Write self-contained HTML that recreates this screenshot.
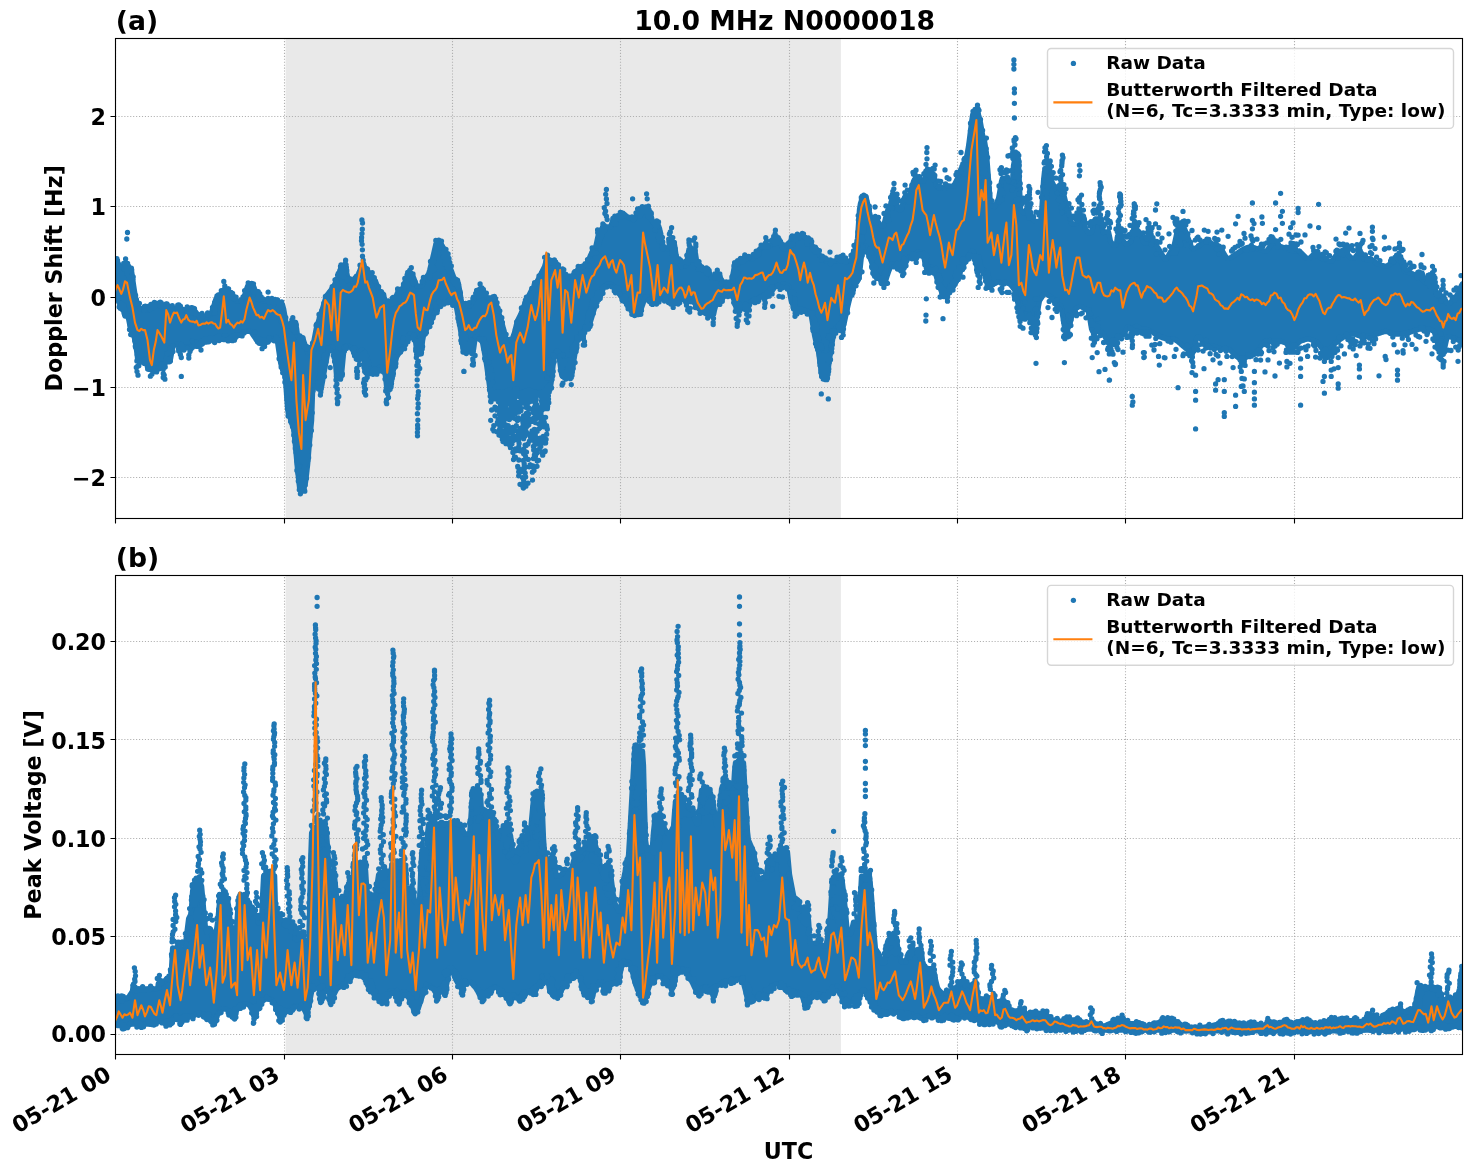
<!DOCTYPE html>
<html lang="en"><head><meta charset="utf-8"><title>10.0 MHz N0000018</title>
<style>html,body{margin:0;padding:0;background:#fff}body{width:1471px;height:1172px;overflow:hidden}</style></head>
<body>
<svg width="1471" height="1172" viewBox="0 0 1471 1172" style="display:block;font-family:'DejaVu Sans',sans-serif;font-weight:bold" fill="#000">
<rect width="1471" height="1172" fill="#fff"/>
<clipPath id="ca"><rect x="115.55" y="38.5" width="1346.75" height="480.0"/></clipPath>
<rect x="115.5" y="38.5" width="1347.0" height="480.0" fill="#fff"/>
<g clip-path="url(#ca)">
<rect x="285.6" y="38.5" width="555.3" height="480.0" fill="#e9e9e9"/>
<path d="M115.5 518.5V38.5M284.5 518.5V38.5M452.5 518.5V38.5M620.5 518.5V38.5M789.5 518.5V38.5M957.5 518.5V38.5M1125.5 518.5V38.5M1294.5 518.5V38.5M115.5 477.5H1462.5M115.5 387.5H1462.5M115.5 297.5H1462.5M115.5 206.5H1462.5M115.5 116.5H1462.5" fill="none" stroke="#b0b0b0" stroke-width="1.11" stroke-dasharray="1.11 1.83"/>
<path d="M109.5,259.9 110.5,259.9 111.5,259.9 112.5,259.9 113.5,259.9 114.5,259.9 115.5,259.9 116.5,260 117.5,262 118.5,264 119.5,266 120.5,267 121.5,267 122.5,267 123.5,265.7 124.5,265.7 125.5,265.7 126.5,265.7 127.5,265.7 128.6,269.4 129.6,271.2 130.6,271.2 131.6,271.4 132.6,278.4 133.6,285.4 134.6,291.9 135.6,297.9 136.6,303.8 137.6,305.1 138.6,306.4 139.6,307.8 140.6,308.7 141.6,308.7 142.6,308.7 143.6,308.7 144.6,309 145.6,309.5 146.6,310 147.6,310 148.6,310 149.6,309.5 150.6,309 151.6,307.2 152.6,304.4 153.6,303.7 154.6,303.7 155.6,303.5 156.6,303.5 157.6,303.5 158.6,303.5 159.6,303.5 160.6,303.9 161.6,304.8 162.6,305.6 163.6,306.2 164.6,306.2 165.6,306.4 166.6,307.1 167.6,307.7 168.6,308.4 169.6,308.7 170.6,308.7 171.6,308.7 172.6,308.7 173.6,308.7 174.6,308.7 175.6,308.1 176.6,308.1 177.6,308.1 178.6,308.1 179.6,308.1 180.6,308.8 181.6,309 182.6,309.3 183.6,309.5 184.6,309.8 185.6,310 186.6,310 187.6,310 188.6,310 189.6,310 190.6,310 191.6,310 192.6,310 193.6,310 194.6,310.6 195.6,311.8 196.6,313.1 197.6,314.3 198.6,315.6 199.6,316.3 200.6,316.6 201.6,316.8 202.6,317.1 203.6,317.3 204.6,317.3 205.6,317.3 206.6,317.1 207.6,316.4 208.6,315.6 209.6,314.9 210.6,314.1 211.6,312.3 212.6,309.3 213.6,306.3 214.6,303.3 215.6,300.3 216.6,298.5 217.6,298 218.6,297.5 219.6,297 220.6,296.5 221.6,294.5 222.6,290.8 223.6,290.8 224.6,290.8 225.6,290.8 226.6,290.8 227.6,291.7 228.6,293 229.6,293.9 230.6,294.2 231.6,294.5 232.6,294.9 233.6,296.1 234.6,297.8 235.6,299.5 236.6,301.1 237.6,301.1 238.6,301.1 239.6,300.7 240.6,300.2 241.6,299.7 242.6,299.2 243.6,298.7 244.6,295.5 245.6,292.2 246.6,288.9 247.6,286.1 248.6,285.3 249.6,285.3 250.6,285.3 251.6,285.3 252.6,285.3 253.6,286.3 254.6,289 255.6,291.5 256.6,292.8 257.6,294.1 258.6,295.5 259.6,296.8 260.6,298.1 261.6,299.5 262.6,300.8 263.6,301 264.6,301 265.6,301 266.6,300.7 267.6,300.4 268.6,300.1 269.6,300 270.6,300 271.6,300 272.6,300 273.6,300 274.6,300 275.6,300.1 276.6,301.1 277.6,302.1 278.6,303.1 279.6,303.9 280.6,304.2 281.6,304.5 282.6,304.9 283.6,308.8 284.6,314.5 285.6,320.1 286.6,325.8 287.6,325.8 288.6,325.8 289.6,325.6 290.6,325 291.6,324.3 292.6,324.3 293.6,324.3 294.6,324.3 295.6,324.3 296.6,328.7 297.6,336.2 298.6,338.1 299.6,338.1 300.6,338.1 301.6,338.1 302.6,338.1 303.6,340.5 304.6,343.5 305.6,346.5 306.6,349.6 307.6,352.7 308.6,352.7 309.6,352.7 310.6,352.4 311.6,350.4 312.6,347.9 313.6,342.6 314.6,337.2 315.6,331.9 316.6,327.4 317.6,324.1 318.6,320.7 319.6,317.5 320.6,314.4 321.6,311.3 322.6,308.2 323.6,304.9 324.6,301.6 325.6,298.2 326.6,295.7 327.6,294.4 328.6,293 329.6,291.7 330.6,290.6 331.6,289.6 332.6,288.4 333.6,286.4 334.6,284.4 335.6,282.4 336.6,280.4 337.6,278.4 338.6,276.4 339.6,272.5 340.6,268.3 341.6,267.6 342.6,267.6 343.6,267.6 344.6,267.6 345.6,267.6 346.6,272.3 347.6,277 348.6,279.1 349.6,279.8 350.6,280.5 351.6,281.1 352.6,281.1 353.6,281.1 354.6,279.9 355.6,278.4 356.6,276.9 357.6,275.4 358.6,273.9 359.6,271.3 360.6,268.5 361.6,268 362.6,268 363.6,268 364.6,268 365.6,268 366.6,269.4 367.6,270.7 368.6,272 369.6,273.4 370.6,274.7 371.6,276 372.6,277.4 373.6,278.7 374.6,280 375.6,281.5 376.6,284.2 377.6,286.8 378.6,289.5 379.6,291.4 380.6,292.1 381.6,292.8 382.6,293.4 383.6,295.6 384.6,298.7 385.6,301.7 386.6,303.7 387.6,303.7 388.6,303.7 389.6,303.7 390.6,303.7 391.6,303.2 392.6,301.9 393.6,300.6 394.6,299.2 395.6,297.3 396.6,295 397.6,292.6 398.6,290.3 399.6,289.7 400.6,289.3 401.6,289 402.6,288.5 403.6,285.8 404.6,283.1 405.6,280.5 406.6,278 407.6,276 408.6,275.4 409.6,275.4 410.6,275.4 411.6,275.4 412.6,275.4 413.6,277.8 414.6,280.4 415.6,283.1 416.6,285.8 417.6,286.2 418.6,286.2 419.6,286.2 420.6,286.2 421.6,285.5 422.6,283.5 423.6,281.5 424.6,279.5 425.6,277.9 426.6,276.6 427.6,275.3 428.6,273.9 429.6,270.4 430.6,266.4 431.6,262.4 432.6,258.4 433.6,254 434.6,249.7 435.6,245.4 436.6,243.4 437.6,243.4 438.6,243.4 439.6,243.4 440.6,243.4 441.6,245 442.6,246.7 443.6,248.4 444.6,250 445.6,251.7 446.6,253.4 447.6,256.9 448.6,260.9 449.6,264.9 450.6,268.9 451.6,271.5 452.6,274.2 453.6,276.9 454.6,278.9 455.6,279.6 456.6,280.2 457.6,280.9 458.6,284.5 459.6,290.5 460.6,296.5 461.6,302.5 462.6,303.7 463.6,303.7 464.6,303.9 465.6,304.6 466.6,305.4 467.6,306.1 468.6,306.1 469.6,306.1 470.6,304.9 471.6,303.3 472.6,301.6 473.6,299.9 474.6,298.3 475.6,296.6 476.6,294.9 477.6,293.2 478.6,291.5 479.6,291.5 480.6,291.5 481.6,291.5 482.6,291.5 483.6,292.6 484.6,294.4 485.6,295.8 486.6,297.1 487.6,298.4 488.6,298.4 489.6,298.4 490.6,298.4 491.6,298.4 492.6,298.4 493.6,298.4 494.6,299.4 495.6,302.1 496.6,305.4 497.6,308.8 498.6,312.1 499.6,315.4 500.6,318.8 501.6,322.1 502.6,325.4 503.6,329.3 504.6,333.3 505.6,337.3 506.6,341.3 507.6,341.3 508.6,341.3 509.6,340.6 510.6,339.9 511.6,339.3 512.5,338.1 513.5,335.6 514.5,332.7 515.5,328.5 516.5,324.4 517.5,320.7 518.5,318.7 519.5,316.7 520.5,314.7 521.5,312.4 522.5,309.8 523.5,307.1 524.5,304.4 525.5,302.2 526.5,300.2 527.5,298.2 528.5,296.2 529.5,294.2 530.5,292.2 531.5,290.2 532.5,288.4 533.5,287.1 534.5,285.7 535.5,284.4 536.5,282.7 537.5,280.7 538.5,278.7 539.5,276.7 540.5,274.7 541.5,272.7 542.5,270.7 543.5,268.7 544.5,266.7 545.5,263.3 546.5,263 547.5,263 548.5,263 549.5,263 550.5,263 551.5,262.7 552.5,262.7 553.5,262.7 554.5,262.7 555.5,262.7 556.5,263.7 557.5,265.6 558.5,267.6 559.5,269.2 560.5,270.2 561.5,271.2 562.5,272.2 563.5,273.2 564.5,274.2 565.5,275.2 566.5,276.2 567.5,276.2 568.5,276.2 569.5,276.2 570.5,276.2 571.5,276.2 572.5,275.9 573.5,274.6 574.5,273.3 575.5,271.9 576.5,270.9 577.5,270.2 578.5,269.6 579.5,268.9 580.5,268.2 581.5,267.6 582.5,266.9 583.5,266.2 584.5,265.6 585.5,264.9 586.5,264.2 587.5,263.2 588.5,260.5 589.5,257.8 590.5,255.2 591.5,253.4 592.5,252.7 593.5,252.1 594.5,251.4 595.5,248 596.5,243.3 597.5,238.6 598.5,234 599.5,232.4 600.5,231.1 601.5,229.8 602.5,227.7 603.5,227 604.5,227 605.5,227 606.5,227 607.5,227 608.5,227 609.5,227 610.5,226.9 611.5,224.2 612.5,221.5 613.5,218.9 614.5,218.1 615.5,217.4 616.5,216.7 617.5,216.1 618.5,215.8 619.5,215.4 620.5,215.1 621.5,215.1 622.5,215.1 623.5,215.1 624.5,215.1 625.5,215.5 626.5,216.1 627.5,216.8 628.5,217.5 629.5,218.1 630.5,218.7 631.5,218.7 632.5,218.7 633.5,218.7 634.5,218.7 635.5,217.3 636.5,215.3 637.5,213.3 638.5,211.3 639.5,211.2 640.5,211.2 641.5,210.8 642.5,210 643.5,209.2 644.5,209.2 645.5,209.2 646.5,209.2 647.5,209.2 648.5,210.4 649.5,212.4 650.5,215.4 651.5,218.4 652.5,221.4 653.5,222.6 654.5,223 655.5,223.3 656.5,223.6 657.5,224.6 658.5,225.6 659.5,228.3 660.5,233.6 661.5,239 662.5,244.3 663.5,246.6 664.5,247.3 665.5,248 666.5,248.6 667.5,248.6 668.5,248.6 669.5,243.9 670.5,243.9 671.5,243.9 672.5,243.9 673.5,243.9 674.5,244.6 675.5,251.3 676.5,258 677.5,259.9 678.5,261.2 679.5,262.6 680.5,263.8 681.5,264.5 682.5,265.1 683.5,265.8 684.5,265.8 685.5,265.8 686.5,263.9 687.5,257.9 688.5,251.9 689.5,250.8 690.5,250.8 691.5,250.8 692.5,250.8 693.5,250.8 694.5,250.8 695.5,253.7 696.5,260.4 697.5,262.4 698.5,263.7 699.5,265 700.5,266.4 701.5,267.7 702.5,269 703.5,270.4 704.5,271 705.5,271 706.5,271 707.5,271 708.5,271 709.5,273 710.5,275.7 711.5,278.4 712.5,278.4 713.5,278.4 714.5,277 715.5,276.8 716.5,276.8 717.5,276.8 718.5,276.8 719.5,276.8 720.5,278.3 721.5,279.8 722.5,281.3 723.5,282.8 724.5,283.7 725.5,283.7 726.5,283.7 727.5,283.7 728.5,283.7 729.5,283.7 730.5,283.7 731.5,281.8 732.5,276.5 733.5,271.2 734.5,265.8 735.5,263.7 736.5,263.7 737.5,263.7 738.5,263.4 739.5,262.6 740.5,261.7 741.5,260.7 742.5,259.4 743.5,258.1 744.5,257.6 745.5,257.6 746.5,257.6 747.5,257.6 748.5,257.6 749.5,258.2 750.5,258.6 751.5,258.6 752.5,258.6 753.5,257.2 754.5,255.9 755.5,254.6 756.5,253.2 757.5,251.9 758.5,250.6 759.5,249.2 760.5,248.3 761.5,247.6 762.5,247 763.5,246.3 764.5,245.4 765.5,245.4 766.5,245.4 767.5,245.4 768.5,245.4 769.5,245.4 770.5,245.4 771.5,244.1 772.5,242.8 773.5,241.4 774.5,239.4 775.5,239.4 776.5,239.4 777.5,239.4 778.5,239.4 779.5,241.6 780.5,242.9 781.5,244.3 782.5,245.6 783.5,246.6 784.5,247.2 785.5,247.9 786.5,248.6 787.5,248.6 788.5,248.6 789.5,245.4 790.5,241.4 791.5,238.5 792.5,237.8 793.5,237.1 794.5,236.5 795.5,236.2 796.5,236.2 797.5,236.2 798.5,236 799.5,236 800.5,236 801.5,236 802.5,236 803.5,236.6 804.5,237.2 805.5,237.9 806.5,238.6 807.5,239.6 808.5,240.7 809.5,242 810.5,243.3 811.5,244.7 812.5,246 813.5,246.8 814.5,247.5 815.5,248.1 816.5,248.8 817.5,250.8 818.5,252.8 819.5,254.8 820.5,256.5 821.5,257.1 822.5,257.8 823.5,258.5 824.5,259.3 825.5,260.3 826.5,261.3 827.5,261.3 828.5,261.3 829.5,261.1 830.5,261.1 831.5,261.1 832.5,261.1 833.5,261.1 834.5,261.1 835.5,261.1 836.5,260.9 837.5,260 838.5,259.5 839.5,259.5 840.5,259.5 841.5,259.5 842.5,259.5 843.5,259.9 844.5,260.2 845.5,260.5 846.5,260.9 847.5,261.2 848.5,261.2 849.5,261.2 850.5,260.4 851.5,259.2 852.5,258 853.5,256.9 854.5,253 855.5,249.2 856.5,245.4 857.5,238.8 858.5,224 859.5,209.1 860.5,203.3 861.5,200.4 862.5,198.3 863.5,198.5 864.5,198.7 865.5,198.7 866.5,198.7 867.5,203.4 868.5,208 869.5,212.7 870.5,216.4 871.5,217.1 872.5,217.8 873.5,218.4 874.5,219.1 875.5,219.8 876.5,220.4 877.5,221.1 878.5,222.2 879.5,223.6 880.5,224.9 881.5,226.2 882.5,226.2 883.5,226.2 884.5,222.3 885.5,218.3 886.5,214.3 887.5,210.9 888.5,209.4 889.5,207.9 890.5,205.1 891.5,201.7 892.5,201.7 893.5,201.7 894.5,201.7 895.5,201.7 896.5,202.8 897.5,206.2 898.5,209.5 899.5,209.5 900.5,209.5 901.5,209.4 902.5,205.4 903.5,201.4 904.5,197.4 905.5,195.9 906.5,195.9 907.5,195.9 908.5,195.9 909.5,195.9 910.5,193.4 911.5,189.4 912.5,185.4 913.5,181.4 914.5,179.3 915.5,178.5 916.5,178.5 917.5,178.5 918.5,178.5 919.5,178.5 920.5,179.8 921.5,181.2 922.5,181.2 923.5,181.2 924.5,179.3 925.5,177.3 926.5,175.3 927.5,173.7 928.5,173.7 929.5,173.7 930.5,173.7 931.5,173.7 932.5,173.7 933.5,174 934.5,178 935.5,182 936.5,186 937.5,186.2 938.5,186.2 939.5,186.2 940.5,186.4 941.5,187 942.5,187.7 943.5,188.4 944.5,188.4 945.5,188.4 946.5,187.9 947.5,186.1 948.5,186.1 949.5,186.1 950.5,186.1 951.5,186.1 952.5,186.1 953.5,186.1 954.5,184.4 955.5,182.4 956.5,180.4 957.5,178.3 958.5,175.6 959.5,172.9 960.5,170.3 961.5,168.4 962.5,167.8 963.5,167.1 964.5,166.4 965.5,162.6 966.5,157.3 967.5,152 968.5,146.6 969.5,138.8 970.5,130.7 971.5,122.6 972.5,115.5 973.5,113.8 974.5,113.7 975.5,113.5 976.5,113.3 977.5,113.2 978.5,114.9 979.5,118.8 980.5,122.9 981.5,128.8 982.5,134.6 983.5,138.3 984.5,141 985.5,147.1 986.5,153.7 987.5,166.1 988.5,179.1 989.5,192.1 990.5,203.3 991.5,204.6 992.5,205.9 993.5,206.3 994.5,206.6 995.5,205.5 996.5,203.2 997.5,200.9 998.5,198.5 999.5,193.2 1000.5,187.3 1001.5,181.3 1002.5,178.1 1003.5,178.1 1004.5,178.1 1005.5,178.1 1006.5,178.1 1007.5,178.6 1008.5,180 1009.5,182 1010.5,182 1011.5,182 1012.5,181.5 1013.5,165.5 1014.5,160.3 1015.5,160.3 1016.5,160.3 1017.5,160.3 1018.5,160.3 1019.5,186.3 1020.5,208.9 1021.5,210.3 1022.5,211.6 1023.5,212.9 1024.5,212.9 1025.5,212.9 1026.5,211.8 1027.5,211.8 1028.5,211.8 1029.5,211.8 1030.5,211.8 1031.5,218 1032.5,219.3 1033.5,220 1034.5,220.7 1035.5,221.3 1036.5,221.3 1037.5,221.3 1038.5,221.3 1039.5,221.3 1040.5,221.3 1041.5,214.9 1042.5,197.9 1043.5,180.9 1044.5,171.5 1045.5,168.4 1046.5,168.4 1047.5,168.4 1048.5,168.4 1049.5,168.4 1050.5,174.4 1051.5,180.4 1052.5,183 1053.5,185 1054.5,187 1055.5,188.9 1056.5,190.2 1057.5,191.6 1058.5,192.9 1059.5,192.9 1060.5,192.9 1061.5,192.9 1062.5,192.9 1063.5,192.9 1064.5,197.7 1065.5,201.7 1066.5,205.7 1067.5,209.7 1068.5,213.3 1069.5,216.6 1070.5,219.9 1071.5,223.3 1072.5,223.8 1073.5,223.8 1074.5,223.8 1075.5,223.8 1076.5,223.8 1077.5,223.1 1078.5,216.4 1079.5,216 1080.5,216 1081.5,216 1082.5,216 1083.5,216 1084.5,222.7 1085.5,228.9 1086.5,230.2 1087.5,231.6 1088.5,232.9 1089.5,232.9 1090.5,232.9 1091.5,232.4 1092.5,228.4 1093.5,224.4 1094.5,220.4 1095.5,218.8 1096.5,218.8 1097.5,218.8 1098.5,218.8 1099.5,218.8 1100.5,218.8 1101.5,218.8 1102.5,229 1103.5,231.8 1104.5,231.8 1105.5,231.8 1106.5,231.8 1107.5,231.8 1108.5,231.8 1109.5,236.3 1110.5,241.4 1111.5,242.7 1112.5,244 1113.5,245.4 1114.5,245.4 1115.5,245.4 1116.5,243.5 1117.5,236.1 1118.5,236.1 1119.5,236.1 1120.5,236.1 1121.5,236.1 1122.5,239.9 1123.5,241.2 1124.5,242.5 1125.5,243.7 1126.5,243.7 1127.5,243.7 1128.5,243.1 1129.5,242.4 1130.5,241.7 1131.5,239.2 1132.5,232.5 1133.5,232.5 1134.5,232.5 1135.5,232.5 1136.5,232.5 1137.5,233.8 1138.5,233.8 1139.5,233.8 1140.5,233.9 1141.5,236.6 1142.5,239.2 1143.5,241.9 1144.5,243.2 1145.5,243.2 1146.5,243.2 1147.5,241.3 1148.5,239.4 1149.5,239.4 1150.5,239.4 1151.5,239.4 1152.5,239.4 1153.5,240.4 1154.5,242.1 1155.5,243.7 1156.5,245.4 1157.5,247.1 1158.5,248.7 1159.5,250.4 1160.5,252.1 1161.5,253.7 1162.5,255.4 1163.5,257.1 1164.5,258.7 1165.5,258.7 1166.5,258.7 1167.5,257 1168.5,255.4 1169.5,253.7 1170.5,252 1171.5,250.4 1172.5,248.7 1173.5,247 1174.5,243.9 1175.5,239.2 1176.5,234.5 1177.5,229.9 1178.5,228.7 1179.5,228.7 1180.5,228.7 1181.5,228.7 1182.5,228.7 1183.5,228.7 1184.5,228.7 1185.5,231.3 1186.5,234 1187.5,236.7 1188.5,239.3 1189.5,242 1190.5,244.7 1191.5,247.3 1192.5,248.5 1193.5,248.5 1194.5,248.5 1195.5,248 1196.5,247.5 1197.5,247 1198.5,246.5 1199.5,245.7 1200.5,244.7 1201.5,243.7 1202.5,242.7 1203.5,241.7 1204.5,241.4 1205.5,241.4 1206.5,241.4 1207.5,241.4 1208.5,241.4 1209.5,242 1210.5,242.7 1211.5,243.4 1212.5,243.9 1213.5,244.2 1214.5,244.5 1215.5,244.9 1216.5,245.2 1217.5,245.5 1218.5,245.9 1219.5,246.2 1220.5,247.8 1221.5,249.5 1222.5,251.2 1223.5,252.8 1224.5,254.5 1225.5,256.2 1226.5,257.8 1227.5,258.4 1228.5,258.4 1229.5,258.4 1230.5,257.7 1231.5,257.1 1232.5,256.4 1233.5,255.7 1234.5,255.1 1235.5,254.4 1236.5,253.7 1237.5,253.1 1238.5,252.4 1239.5,251.7 1240.5,251.1 1241.5,250.4 1242.5,249.7 1243.5,249.1 1244.5,248.6 1245.5,248.2 1246.5,247.9 1247.5,247.6 1248.5,247.2 1249.5,247.2 1250.5,247.2 1251.5,247.2 1252.5,247.2 1253.5,247.5 1254.5,247.9 1255.5,248.2 1256.5,248.5 1257.5,248.9 1258.5,249.2 1259.5,249.5 1260.5,249.9 1261.5,250.2 1262.5,250.5 1263.5,250.9 1264.5,251.2 1265.5,251.2 1266.5,251.2 1267.5,249.9 1268.5,248.4 1269.5,247 1270.5,245.6 1271.5,244.2 1272.5,242.7 1273.5,242.7 1274.5,242.7 1275.5,242.7 1276.5,242.7 1277.5,243.7 1278.5,244.9 1279.5,246.1 1280.5,246.5 1281.5,246.9 1282.5,247.2 1283.5,247.5 1284.5,247.9 1285.5,248.2 1286.5,248.5 1287.5,248.9 1288.5,249.3 1289.5,249.7 1290.5,250.1 1291.5,250.5 1292.5,250.9 1293.5,251.2 1294.5,251.2 1295.5,251.2 1296.5,251.2 1297.5,251.2 1298.5,251.2 1299.5,251.2 1300.5,252.1 1301.5,253.1 1302.5,254.1 1303.5,255.1 1304.5,256.1 1305.5,257.1 1306.5,258.1 1307.5,258.3 1308.5,258.3 1309.5,258.3 1310.5,257.3 1311.5,256.3 1312.5,255.3 1313.5,254.3 1314.5,254.3 1315.5,254.3 1316.5,254.3 1317.5,254.3 1318.5,255.1 1319.5,256.1 1320.5,257.1 1321.5,258.1 1322.5,258.9 1323.5,259.2 1324.5,259.5 1325.5,259.9 1326.5,260.2 1327.5,260.5 1328.5,260.9 1329.5,261.2 1330.5,261.2 1331.5,261.2 1332.5,260 1333.5,258.7 1334.5,257.4 1335.5,256 1336.5,254.7 1337.5,253.4 1338.5,252 1339.5,251.2 1340.5,251.2 1341.5,251.2 1342.5,251.2 1343.5,251.2 1344.5,251.2 1345.5,252.1 1346.5,253.1 1347.5,254.1 1348.5,255.1 1349.5,256.1 1350.5,257.1 1351.5,258.1 1352.5,258.2 1353.5,258.2 1354.5,258.2 1355.5,256.9 1356.5,255.5 1357.5,254.2 1358.5,254.2 1359.5,254.2 1360.5,254.2 1361.5,254.2 1362.5,256.4 1363.5,258.7 1364.5,258.7 1365.5,258.7 1366.5,258.7 1367.5,258.7 1368.5,258.7 1369.5,258.7 1370.5,258.7 1371.5,259.2 1372.5,260 1373.5,260.8 1374.5,261.6 1375.5,262.4 1376.5,263.2 1377.5,263.8 1378.5,264.2 1379.5,264.5 1380.5,264.8 1381.5,265.2 1382.5,265.5 1383.5,265.8 1384.5,266.2 1385.5,266.2 1386.5,266.2 1387.5,265.7 1388.5,265 1389.5,264.3 1390.5,263.7 1391.5,263 1392.5,262.3 1393.5,261.7 1394.5,260.8 1395.5,259.6 1396.5,259.6 1397.5,259.6 1398.5,259.6 1399.5,259.6 1400.5,259.6 1401.5,262.4 1402.5,265.2 1403.5,268 1404.5,270.8 1405.5,271.5 1406.5,271.8 1407.5,272.2 1408.5,272.5 1409.5,272.8 1410.5,273.2 1411.5,273.5 1412.5,273.8 1413.5,274.2 1414.5,274.5 1415.5,274.8 1416.5,275.2 1417.5,275.5 1418.5,275.8 1419.5,276.2 1420.5,277.1 1421.5,278.1 1422.5,279.1 1423.5,280.1 1424.5,281.1 1425.5,282.1 1426.5,283.1 1427.5,283.2 1428.5,283.2 1429.5,283.2 1430.5,283.2 1431.5,283.2 1432.5,283.2 1433.5,283.2 1434.5,285.5 1435.5,289.5 1436.5,293.5 1437.5,296.1 1438.5,296.1 1439.5,296.1 1440.5,296.1 1441.5,296.1 1442.5,296.1 1443.5,296.4 1444.5,298.4 1445.5,300.4 1446.5,302.4 1447.5,303.4 1448.5,303.4 1449.5,303.4 1450.5,302.4 1451.5,301.4 1452.5,300.4 1453.5,299.4 1454.5,298.4 1455.5,297.2 1456.5,295.9 1457.5,293.9 1458.5,291.8 1459.5,289.6 1460.5,287.5 1461.5,285.3 1462.5,283.7 1463.5,283.4 1464.5,283.1 1465.5,282.7 1466.5,282.4 1467.5,282.1 1467.5,343.2 1466.5,342.8 1465.5,342.5 1464.5,342.2 1463.5,341.8 1462.5,341.5 1461.5,341.2 1460.5,340.8 1459.5,340.5 1458.5,340.2 1457.5,339.8 1456.5,339.4 1455.5,338.8 1454.5,338.3 1453.5,337.9 1452.5,337.6 1451.5,337.3 1450.5,336.9 1449.5,336.6 1448.5,336.6 1447.5,336.6 1446.5,339.6 1445.5,344.1 1444.5,348.6 1443.5,349.6 1442.5,349.6 1441.5,349.6 1440.5,349.6 1439.5,349.6 1438.5,346.6 1437.5,343.1 1436.5,339.6 1435.5,336.1 1434.5,332.6 1433.5,331.1 1432.5,330.6 1431.5,330.1 1430.5,329.6 1429.5,329.1 1428.5,329 1427.5,329 1426.5,329 1425.5,329 1424.5,329 1423.5,329 1422.5,329 1421.5,329 1420.5,329 1419.5,329 1418.5,329.4 1417.5,329.7 1416.5,330 1415.5,330.4 1414.5,330.7 1413.5,331 1412.5,331.4 1411.5,331.7 1410.5,332 1409.5,332.4 1408.5,332.7 1407.5,333 1406.5,333.4 1405.5,333.7 1404.5,334 1403.5,334 1402.5,334 1401.5,334 1400.5,334 1399.5,334 1398.5,334 1397.5,334 1396.5,334 1395.5,334 1394.5,334 1393.5,333.8 1392.5,333.4 1391.5,333.1 1390.5,332.8 1389.5,332.4 1388.5,332.1 1387.5,331.8 1386.5,331.5 1385.5,331.5 1384.5,331.5 1383.5,331.9 1382.5,332.2 1381.5,332.5 1380.5,332.9 1379.5,333.2 1378.5,333.5 1377.5,333.9 1376.5,334.2 1375.5,334.6 1374.5,335 1373.5,335.4 1372.5,335.8 1371.5,336.2 1370.5,336.5 1369.5,336.5 1368.5,336.5 1367.5,336.5 1366.5,336.5 1365.5,336.5 1364.5,336.5 1363.5,336.5 1362.5,336.5 1361.5,336.4 1360.5,336.1 1359.5,335.8 1358.5,335.4 1357.5,335.1 1356.5,334.8 1355.5,334.4 1354.5,334.1 1353.5,334.1 1352.5,334.1 1351.5,334.2 1350.5,334.5 1349.5,334.9 1348.5,335.2 1347.5,335.5 1346.5,335.9 1345.5,336.2 1344.5,336.6 1343.5,337.2 1342.5,337.9 1341.5,338.6 1340.5,339.2 1339.5,339.9 1338.5,340.6 1337.5,341.2 1336.5,342.1 1335.5,343.1 1334.5,344.1 1333.5,345.1 1332.5,346.1 1331.5,347.1 1330.5,348.1 1329.5,349 1328.5,349.4 1327.5,349.7 1326.5,349.7 1325.5,349.7 1324.5,349.7 1323.5,349.7 1322.5,349.4 1321.5,348 1320.5,346.7 1319.5,345.4 1318.5,344 1317.5,342.7 1316.5,341.5 1315.5,341.1 1314.5,340.8 1313.5,340.5 1312.5,340.1 1311.5,339.8 1310.5,339.5 1309.5,339.1 1308.5,339.1 1307.5,339.1 1306.5,339.2 1305.5,339.5 1304.5,339.8 1303.5,340.2 1302.5,340.5 1301.5,340.8 1300.5,341.2 1299.5,341.6 1298.5,342.8 1297.5,344 1296.5,345.2 1295.5,345.9 1294.5,345.9 1293.5,345.9 1292.5,345.9 1291.5,345.9 1290.5,345.1 1289.5,344.3 1288.5,343.8 1287.5,343.5 1286.5,343.1 1285.5,342.8 1284.5,342.5 1283.5,342.1 1282.5,341.8 1281.5,341.5 1280.5,341.5 1279.5,341.5 1278.5,341.5 1277.5,341.5 1276.5,341.5 1275.5,341.5 1274.5,341.5 1273.5,341.5 1272.5,341.5 1271.5,341.5 1270.5,341.5 1269.5,341.5 1268.5,341.5 1267.5,341.5 1266.5,341.5 1265.5,341.5 1264.5,341.6 1263.5,342.9 1262.5,344.2 1261.5,345.6 1260.5,346.9 1259.5,348.2 1258.5,349.6 1257.5,350.9 1256.5,351.7 1255.5,352 1254.5,352.3 1253.5,352.7 1252.5,353 1251.5,353.3 1250.5,353.7 1249.5,354 1248.5,355 1247.5,356 1246.5,357 1245.5,358 1244.5,359 1243.5,359 1242.5,359 1241.5,359 1240.5,359 1239.5,358.5 1238.5,357.8 1237.5,357.1 1236.5,356.5 1235.5,355.5 1234.5,354.5 1233.5,353.5 1232.5,352.5 1231.5,351.5 1230.5,350.5 1229.5,349.5 1228.5,349 1227.5,349 1226.5,349 1225.5,349 1224.5,349 1223.5,349 1222.5,349 1221.5,349 1220.5,348.6 1219.5,348.3 1218.5,348 1217.5,347.6 1216.5,347.3 1215.5,347 1214.5,346.6 1213.5,346.5 1212.5,346.5 1211.5,346.5 1210.5,346.5 1209.5,346.5 1208.5,346.5 1207.5,346.5 1206.5,346.5 1205.5,345.1 1204.5,343.8 1203.5,342.5 1202.5,341.1 1201.5,339.8 1200.5,338.5 1199.5,337.1 1198.5,337.1 1197.5,337.1 1196.5,338.5 1195.5,342.5 1194.5,346.5 1193.5,350.5 1192.5,351 1191.5,351 1190.5,351 1189.5,351 1188.5,351 1187.5,350 1186.5,349 1185.5,348.1 1184.5,347.3 1183.5,346.4 1182.5,345.6 1181.5,344.7 1180.5,343.8 1179.5,343 1178.5,342.1 1177.5,341.3 1176.5,340.7 1175.5,340 1174.5,339.3 1173.5,339 1172.5,339 1171.5,339 1170.5,339 1169.5,339 1168.5,339 1167.5,339 1166.5,339 1165.5,338.7 1164.5,338.3 1163.5,338 1162.5,337.7 1161.5,337.3 1160.5,337 1159.5,336.7 1158.5,336.2 1157.5,335.5 1156.5,334.8 1155.5,334.2 1154.5,333.5 1153.5,332.8 1152.5,332.2 1151.5,331.5 1150.5,331.1 1149.5,330.7 1148.5,330.3 1147.5,329.9 1146.5,329.5 1145.5,329.1 1144.5,328.9 1143.5,328.9 1142.5,328.9 1141.5,328.9 1140.5,328.5 1139.5,327.8 1138.5,327.1 1137.5,326.5 1136.5,326.5 1135.5,326.5 1134.5,328.6 1133.5,328.6 1132.5,328.6 1131.5,328.6 1130.5,328.6 1129.5,327.3 1128.5,327.3 1127.5,327.3 1126.5,329.3 1125.5,331.3 1124.5,333.3 1123.5,334.4 1122.5,335 1121.5,335.7 1120.5,336.4 1119.5,337 1118.5,337.7 1117.5,338.4 1116.5,339 1115.5,339.7 1114.5,340.4 1113.5,341 1112.5,341.9 1111.5,341.9 1110.5,341.9 1109.5,341.9 1108.5,341.9 1107.5,341.6 1106.5,339.6 1105.5,337.6 1104.5,335.9 1103.5,334.5 1102.5,333.2 1101.5,331.9 1100.5,331.4 1099.5,331.4 1098.5,331.4 1097.5,331.4 1096.5,331.4 1095.5,331.4 1094.5,331.4 1093.5,331.4 1092.5,331.4 1091.5,328.8 1090.5,322.7 1089.5,316.6 1088.5,311.3 1087.5,310.6 1086.5,310 1085.5,309.3 1084.5,308.6 1083.5,308 1082.5,307.3 1081.5,306.6 1080.5,306.6 1079.5,306.6 1078.5,306.8 1077.5,307.5 1076.5,308.2 1075.5,308.8 1074.5,310.7 1073.5,312.7 1072.5,314.7 1071.5,317.1 1070.5,321.4 1069.5,325.7 1068.5,327.2 1067.5,327.2 1066.5,327.2 1065.5,327.2 1064.5,327.2 1063.5,321 1062.5,314.8 1061.5,308.6 1060.5,306 1059.5,305.3 1058.5,304.6 1057.5,304 1056.5,302.7 1055.5,301.4 1054.5,300.1 1053.5,298.8 1052.5,298.1 1051.5,297.5 1050.5,296.8 1049.5,296.1 1048.5,295.5 1047.5,294.8 1046.5,294.1 1045.5,294.1 1044.5,294.1 1043.5,294.8 1042.5,296.3 1041.5,297.8 1040.5,299.3 1039.5,300.8 1038.5,306 1037.5,313.3 1036.5,320.7 1035.5,320.7 1034.5,320.7 1033.5,320.7 1032.5,320.7 1031.5,319.7 1030.5,317.7 1029.5,315.7 1028.5,313.9 1027.5,313.9 1026.5,313.9 1025.5,313.9 1024.5,313.9 1023.5,313.9 1022.5,313.9 1021.5,313.9 1020.5,313.9 1019.5,310.4 1018.5,305.9 1017.5,301.6 1016.5,297.3 1015.5,292.9 1014.5,289.7 1013.5,288.4 1012.5,287.2 1011.5,285.9 1010.5,284.7 1009.5,283.8 1008.5,283.4 1007.5,283.1 1006.5,282.8 1005.5,282.8 1004.5,282.8 1003.5,282.8 1002.5,282.8 1001.5,282.8 1000.5,282.8 999.5,282.4 998.5,282 997.5,282.3 996.5,282.6 995.5,283.3 994.5,283.6 993.5,283.9 992.5,284.3 991.5,284.6 990.5,284.3 989.5,284.3 988.5,284.3 987.5,284.3 986.5,281 985.5,277 984.5,272.8 983.5,269.3 982.5,269.3 981.5,269.3 980.5,269.3 979.5,269.3 978.5,269.3 977.5,269.3 976.5,265 975.5,260.3 974.5,255.7 973.5,251.5 972.5,251.5 971.5,251.5 970.5,252.8 969.5,254.1 968.5,255.5 967.5,257 966.5,259 965.5,261 964.5,263 963.5,265 962.5,267 961.5,269 960.5,271 959.5,273.6 958.5,276.2 957.5,278.9 956.5,281.5 955.5,283.2 954.5,284.8 953.5,286.5 952.5,287.7 951.5,288.1 950.5,288.4 949.5,288.7 948.5,290.6 947.5,293.6 946.5,294.1 945.5,294.1 944.5,294.1 943.5,294.1 942.5,294.1 941.5,291.7 940.5,289.1 939.5,286.4 938.5,283.7 937.5,280.4 936.5,277 935.5,273.7 934.5,271 933.5,269.6 932.5,268.3 931.5,267 930.5,267 929.5,267 928.5,267 927.5,267 926.5,267 925.5,264.2 924.5,260.2 923.5,256.3 922.5,255 921.5,253.6 920.5,252.3 919.5,252.2 918.5,252.2 917.5,252.2 916.5,254.8 915.5,256.8 914.5,256.8 913.5,256.8 912.5,256.8 911.5,256.8 910.5,256.8 909.5,256.8 908.5,257.4 907.5,259.4 906.5,261.4 905.5,263.4 904.5,265.7 903.5,267.6 902.5,267.6 901.5,267.6 900.5,267.6 899.5,267.6 898.5,266.4 897.5,265.9 896.5,265.4 895.5,264.9 894.5,264.4 893.5,263.9 892.5,263.9 891.5,263.9 890.5,266.6 889.5,269.3 888.5,271.9 887.5,274.8 886.5,278.1 885.5,281.5 884.5,281.5 883.5,281.5 882.5,281.5 881.5,281.5 880.5,280.4 879.5,278.4 878.5,276.4 877.5,276.4 876.5,276.4 875.5,276.4 874.5,276.4 873.5,271.9 872.5,265.4 871.5,261.8 870.5,259.2 869.5,256.5 868.5,253.8 867.5,251.2 866.5,248.5 865.5,245.8 864.5,245.8 863.5,245.8 862.5,246.3 861.5,255.6 860.5,264.9 859.5,274.3 858.5,279.6 857.5,280.9 856.5,282.2 855.5,283.6 854.5,285.4 853.5,287.4 852.5,289.4 851.5,291.4 850.5,295.4 849.5,299.4 848.5,303.4 847.5,307.6 846.5,312.2 845.5,316.9 844.5,321.6 843.5,325.6 842.5,327.2 841.5,327.2 840.5,327.2 839.5,327.2 838.5,327.2 837.5,327.2 836.5,327.2 835.5,328.9 834.5,330.6 833.5,334.3 832.5,340.3 831.5,346.3 830.5,352.3 829.5,359.4 828.5,366.9 827.5,374.4 826.5,376.5 825.5,376.5 824.5,376.5 823.5,376.5 822.5,376.5 821.5,373.6 820.5,366.3 819.5,358.9 818.5,351.6 817.5,347.5 816.5,343.5 815.5,339.5 814.5,335.1 813.5,329.1 812.5,323.1 811.5,317.1 810.5,313.4 809.5,312.3 808.5,311.4 807.5,311.4 806.5,311.4 805.5,311.4 804.5,311.4 803.5,311.4 802.5,311.4 801.5,311.4 800.5,311.4 799.5,311.4 798.5,311.4 797.5,311.4 796.5,311.3 795.5,309.8 794.5,308.1 793.5,306.1 792.5,304.1 791.5,302.1 790.5,297.3 789.5,291.3 788.5,286.3 787.5,285.6 786.5,285 785.5,284.3 784.5,284.2 783.5,284.2 782.5,284.2 781.5,284.9 780.5,285.5 779.5,286.2 778.5,286.4 777.5,286.4 776.5,286.4 775.5,286.4 774.5,287.7 773.5,289 772.5,290.3 771.5,291.5 770.5,292.2 769.5,292.9 768.5,293.5 767.5,295.3 766.5,296.5 765.5,296.5 764.5,296.5 763.5,296.5 762.5,296.5 761.5,296.5 760.5,297.2 759.5,297.9 758.5,298.5 757.5,299.2 756.5,299.9 755.5,300.5 754.5,301.2 753.5,301.4 752.5,301.4 751.5,301.4 750.5,301.4 749.5,305.2 748.5,307 747.5,307 746.5,307 745.5,307 744.5,307 743.5,307 742.5,307 741.5,308.3 740.5,309.6 739.5,309.6 738.5,309.6 737.5,309.6 736.5,309.6 735.5,305.4 734.5,300.6 733.5,298.6 732.5,296.6 731.5,294.6 730.5,294.3 729.5,294.3 728.5,294.3 727.5,294.8 726.5,295.3 725.5,295.8 724.5,296.3 723.5,297.1 722.5,298.1 721.5,299.1 720.5,300.1 719.5,301.1 718.5,302.3 717.5,303.6 716.5,305 715.5,306.3 714.5,310 713.5,314 712.5,315.5 711.5,315.5 710.5,315.5 709.5,315.5 708.5,315.5 707.5,314.9 706.5,314.2 705.5,313.5 704.5,312.9 703.5,312.2 702.5,311.5 701.5,310.9 700.5,310.2 699.5,309.5 698.5,308.7 697.5,307.1 696.5,305.4 695.5,303.8 694.5,303.1 693.5,302.3 692.5,301.5 691.5,301.5 690.5,301.5 689.5,301.5 688.5,301.5 687.5,301.5 686.5,301.5 685.5,301 684.5,300.4 683.5,299.7 682.5,299 681.5,299 680.5,299 679.5,299.5 678.5,300.2 677.5,300.8 676.5,301.6 675.5,301.6 674.5,301.6 673.5,301.6 672.5,301.6 671.5,300.9 670.5,300.2 669.5,299.5 668.5,298.9 667.5,298.9 666.5,298.9 665.5,298.9 664.5,298.9 663.5,298.9 662.5,298.9 661.5,298.9 660.5,298.9 659.5,298.9 658.5,299.5 657.5,300.5 656.5,301.5 655.5,301.7 654.5,301.7 653.5,301.7 652.5,301.7 651.5,301.7 650.5,300.6 649.5,299.3 648.5,298 647.5,296.6 646.5,296.6 645.5,296.6 644.5,299 643.5,302.1 642.5,305.2 641.5,307.9 640.5,310.4 639.5,312.9 638.5,314.5 637.5,314.5 636.5,314.5 635.5,314.5 634.5,314.5 633.5,313.8 632.5,311.8 631.5,310.3 630.5,309 629.5,307.7 628.5,306.3 627.5,305 626.5,303.7 625.5,302.3 624.5,301 623.5,299.7 622.5,298.3 621.5,297 620.5,295.7 619.5,294.3 618.5,293 617.5,291.7 616.5,290.3 615.5,289 614.5,287.7 613.5,286.4 612.5,285.7 611.5,285 610.5,284.4 609.5,284.1 608.5,284.1 607.5,284.1 606.5,284.8 605.5,285.5 604.5,286.1 603.5,287.9 602.5,290.6 601.5,293.3 600.5,295.9 599.5,297.5 598.5,298.8 597.5,300.2 596.5,301.6 595.5,305 594.5,308.3 593.5,311.6 592.5,315 591.5,318.3 590.5,321.6 589.5,325 588.5,326.5 587.5,326.5 586.5,326.5 585.5,326.5 584.5,330.2 583.5,334.8 582.5,337.9 581.5,337.9 580.5,337.9 579.5,337.9 578.5,337.9 577.5,338.2 576.5,344.2 575.5,350.2 574.5,356.2 573.5,362.2 572.5,368.2 571.5,374.2 570.5,376.6 569.5,376.6 568.5,376.6 567.5,376.6 566.5,376.6 565.5,376.6 564.5,376.6 563.5,376.6 562.5,376.6 561.5,373.8 560.5,367.2 559.5,359.2 558.5,351.5 557.5,351.5 556.5,351.5 555.5,353.5 554.5,355.5 553.5,361.4 552.5,370.8 551.5,380.2 550.5,387 549.5,388.9 548.5,390.7 547.5,392.6 546.5,392.8 545.5,392.8 544.5,392.8 543.5,392.8 542.5,392.8 541.5,392.4 540.5,392.4 539.5,392.4 538.5,392.4 537.5,392.4 536.5,392.4 535.5,392.4 534.5,392.4 533.5,392.4 532.5,392.4 531.5,392.4 530.5,392.4 529.5,392.4 528.5,392.4 527.5,392.4 526.5,392.4 525.5,392.3 524.5,392.2 523.5,392.1 522.5,391.9 521.5,391.8 520.5,391.7 519.5,391.5 518.5,391.4 517.5,391.4 516.5,391.4 515.5,391.4 514.5,391.5 513.5,391.6 512.5,391.7 511.6,391.8 510.6,391.9 509.6,392 508.6,392 507.6,392.1 506.6,392.2 505.6,392.3 504.6,392.5 503.6,392.7 502.6,393 501.6,393.2 500.6,393.4 499.6,393.6 498.6,393.9 497.6,394.1 496.6,394.3 495.6,394.6 494.6,394.6 493.6,394.6 492.6,394.6 491.6,394.6 490.6,393.8 489.6,386.7 488.6,379.5 487.6,372.4 486.6,365.2 485.6,358.9 484.6,353.6 483.6,348.2 482.6,342.9 481.6,340.7 480.6,339.7 479.6,338.7 478.6,337.7 477.6,336.7 476.6,336.7 475.6,336.7 474.6,341.8 473.6,349.1 472.6,351.6 471.6,351.6 470.6,351.6 469.6,351.6 468.6,351.6 467.6,351.6 466.6,351.6 465.6,351.6 464.6,351.6 463.6,351.6 462.6,345.2 461.6,337.8 460.6,330.5 459.6,324.1 458.6,318.7 457.6,313.4 456.6,308.1 455.6,305.5 454.6,304.2 453.6,302.8 452.6,301.5 451.6,301.5 450.6,301.5 449.6,301.8 448.6,301.8 447.6,301.8 446.6,301.8 445.6,301.8 444.6,301.7 443.6,301.7 442.6,301.7 441.6,302.4 440.6,303 439.6,303.7 438.6,305.3 437.6,307.3 436.6,309.3 435.6,311.3 434.6,313.3 433.6,315.3 432.6,317.3 431.6,319.3 430.6,321.3 429.6,323.3 428.6,325.3 427.6,327.3 426.6,329.3 425.6,331.3 424.6,333.3 423.6,335.3 422.6,340.4 421.6,349.7 420.6,351.3 419.6,351.3 418.6,351.3 417.6,351.3 416.6,351.3 415.6,341.9 414.6,336.2 413.6,335.5 412.6,334.8 411.6,334.2 410.6,334.2 409.6,334.2 408.6,335.6 407.6,338.1 406.6,340.6 405.6,343.1 404.6,345.6 403.6,347.3 402.6,348.7 401.6,350 400.6,351.3 399.6,352.7 398.6,354 397.6,355.3 396.6,357.1 395.6,361.1 394.6,365.1 393.6,369.1 392.6,374.1 391.6,380.8 390.6,386.9 389.6,386.9 388.6,386.9 387.6,386.9 386.6,386.9 385.6,377.3 384.6,370.9 383.6,369.6 382.6,368.3 381.6,366.9 380.6,366.9 379.6,366.9 378.6,368 377.6,370.3 376.6,371.5 375.6,371.5 374.6,371.5 373.6,371.5 372.6,371.5 371.6,371.5 370.6,371.5 369.6,371.5 368.6,371.5 367.6,371.5 366.6,371.5 365.6,371.5 364.6,368.2 363.6,352.3 362.6,350.3 361.6,350.3 360.6,350.3 359.6,356.4 358.6,356.4 357.6,356.4 356.6,356.4 355.6,356.4 354.6,355.4 353.6,351.3 352.6,350 351.6,348.6 350.6,347.3 349.6,346.5 348.6,346.5 347.6,346.5 346.6,346.5 345.6,346.5 344.6,346.5 343.6,353 342.6,363.5 341.6,374.1 340.6,376.7 339.6,376.7 338.6,376.7 337.6,376.7 336.6,376.7 335.6,364.4 334.6,355 333.6,351 332.6,347 331.6,347 330.6,347 329.6,348.2 328.6,350.2 327.6,353.4 326.6,358.7 325.6,364 324.6,369.4 323.6,375.1 322.6,381.1 321.6,386.5 320.6,386.5 319.6,386.5 318.6,386.5 317.6,386.5 316.6,386.5 315.6,386.4 314.6,386.4 313.6,386.4 312.6,390.9 311.6,420.4 310.6,430.6 309.6,440.8 308.6,452.7 307.6,464.8 306.6,473.7 305.6,481.6 304.6,486.1 303.6,487.9 302.6,487.9 301.6,487.9 300.6,487.9 299.6,487.9 298.6,479.5 297.6,470.1 296.6,459.3 295.6,448.1 294.6,436.9 293.6,429.2 292.6,425.9 291.6,422.5 290.6,419.2 289.6,415.8 288.6,412.5 287.6,409.1 286.6,395.4 285.6,381.1 284.6,371 283.6,369.7 282.6,368.4 281.6,367 280.6,362.6 279.6,356 278.6,349.3 277.6,342.6 276.6,340.9 275.6,340.2 274.6,339.6 273.6,339 272.6,339 271.6,339 270.6,339.5 269.6,340.1 268.6,340.7 267.6,341.2 266.6,342.3 265.6,342.3 264.6,342.3 263.6,342.3 262.6,342.3 261.6,342.2 260.6,341.4 259.6,341.4 258.6,341.4 257.6,341.4 256.6,340.2 255.6,338.7 254.6,337.1 253.6,335.7 252.6,334.2 251.6,332.8 250.6,331.4 249.6,331.4 248.6,331.4 247.6,331.4 246.6,331.4 245.6,331.4 244.6,332 243.6,332.6 242.6,333.3 241.6,334 240.6,334.5 239.6,335 238.6,335.5 237.6,336 236.6,336.5 235.6,337.1 234.6,337.8 233.6,338.5 232.6,338.5 231.6,338.5 230.6,338.5 229.6,338.5 228.6,338.1 227.6,336.7 226.6,336.4 225.6,336.4 224.6,336.4 223.6,336.4 222.6,336.6 221.6,337.3 220.6,338 219.6,338.6 218.6,339.2 217.6,339.7 216.6,339.7 215.6,339.7 214.6,339.7 213.6,339.7 212.6,339.7 211.6,339.2 210.6,339.2 209.6,339.2 208.6,339.2 207.6,339.7 206.6,340.2 205.6,340.7 204.6,341.2 203.6,342.2 202.6,343.7 201.6,343.7 200.6,343.7 199.6,343.7 198.6,343.7 197.6,343.7 196.6,342.2 195.6,342.2 194.6,342.2 193.6,342.7 192.6,345.2 191.6,346.9 190.6,346.9 189.6,346.9 188.6,346.9 187.6,346.9 186.6,346.9 185.6,346.9 184.6,348 183.6,348.4 182.6,348.4 181.6,348.4 180.6,348.4 179.6,348.4 178.6,345.4 177.6,344.3 176.6,344.3 175.6,344.3 174.6,345.1 173.6,345.9 172.6,347.8 171.6,353.1 170.6,358.5 169.6,361.8 168.6,361.8 167.6,361.8 166.6,361.8 165.6,361.8 164.6,365 163.6,365 162.6,365 161.6,365 160.6,365 159.6,365 158.6,366.3 157.6,367.6 156.6,369 155.6,369 154.6,369 153.6,369 152.6,369.3 151.6,369.3 150.6,369.3 149.6,369.3 148.6,369.3 147.6,367.5 146.6,363.5 145.6,361.1 144.6,360.5 143.6,359.8 142.6,359.1 141.6,359.1 140.6,359.1 139.6,359.1 138.6,359.1 137.6,358.7 136.6,350.7 135.6,344.1 134.6,339.1 133.6,334.1 132.6,333 131.6,332 130.6,329.1 129.6,324.1 128.6,319.1 127.5,315.8 126.5,314.6 125.5,313.3 124.5,312 123.5,310.6 122.5,309.3 121.5,307.5 120.5,305.5 119.5,303.5 118.5,301.5 117.5,300.2 116.5,299 115.5,298.9 114.5,298.9 113.5,298.9 112.5,298.9 111.5,298.9 110.5,298.9 109.5,298.9Z" fill="#1f77b4" stroke="#1f77b4" stroke-width="5.30" stroke-linejoin="round"/>
<path d="M115.5 258.6h0M116.9 258.6h0M117.5 260.3h0M116 262.6h0M123.7 263.3h0M123.8 263.6h0M127.6 263.3h0M125.1 264.4h0M124.3 269h0M128.9 266.4h0M124.3 269.1h0M127.4 271.7h0M131.5 269.2h0M130.8 271.2h0M127.4 268.5h0M127.1 273.7h0M131.4 268.1h0M128.2 271.4h0M131.7 269.8h0M130 269h0M127 271h0M132.1 278h0M130.5 279.8h0M133.2 276.8h0M129.3 277.5h0M132.9 278.8h0M133.2 286.8h0M133 288h0M130.3 284.9h0M131.7 282.6h0M130.5 283.4h0M130.3 293.7h0M131.6 293.6h0M132.2 289.8h0M132.2 289.3h0M130.2 289.7h0M133.2 291.5h0M130.7 298.1h0M133 298.5h0M134.3 297.3h0M134.9 297.1h0M136.4 299.6h0M132.9 300.6h0M135.6 295.5h0M135.5 303.6h0M135.8 304h0M137.4 302.6h0M137.9 303.2h0M139.4 303.3h0M144.3 306.8h0M144.4 306.5h0M143.9 310.4h0M145.3 306.2h0M144.1 308.9h0M146.2 307.1h0M149.8 309.6h0M148.6 308.2h0M148.9 306.2h0M153.6 307.6h0M150.9 304.4h0M154.8 303.7h0M154.1 303.2h0M154.4 303.2h0M153.5 306.2h0M154.4 302.4h0M155.5 305.8h0M157.3 304.6h0M159.8 303.3h0M160 302.8h0M159.4 303.3h0M161.1 302.6h0M160.2 302.1h0M161.1 306.5h0M165.4 304.3h0M167 303.9h0M163.8 308h0M166.1 304h0M167.2 307.7h0M168 305.3h0M167.4 307.2h0M167.5 306.5h0M171 307.4h0M170.9 310.3h0M172.3 305.7h0M172.2 308.2h0M177.4 309.3h0M178 308.5h0M178 306.4h0M178 310h0M177.7 305.2h0M178.9 306.9h0M178.9 305h0M180.4 310.7h0M180.4 306.1h0M180.6 310.8h0M181.2 308.5h0M180.5 310.8h0M181.8 309.4h0M187.4 312h0M187.2 307h0M187.7 312.2h0M187.9 309.9h0M190 308.7h0M190.9 311.2h0M191.4 307.6h0M193 309.8h0M193.5 310.3h0M192.8 308h0M194.1 308.3h0M194.5 308.6h0M193 309.2h0M192.2 312.8h0M193.2 311.6h0M194.8 312.2h0M193 313.1h0M196.7 313.8h0M195.2 313.8h0M198.1 314.6h0M199.8 317.1h0M202 313.5h0M201.5 318.1h0M202 316.7h0M203 315.1h0M207.9 315.2h0M207.6 313h0M209 313.4h0M214.8 313.2h0M214.8 312.2h0M214.9 308h0M215.3 309.1h0M214.8 309.8h0M213.7 308.5h0M212.5 307.5h0M214.6 302.6h0M215.4 300.6h0M216.3 302.1h0M216.6 302.7h0M216.5 298h0M216.2 299h0M220.1 299.3h0M218.6 298.5h0M217.6 296.3h0M217.6 296.5h0M217.2 298h0M217 295.9h0M219.1 295h0M218.3 295h0M220.8 298.8h0M219.8 296.1h0M224.8 295.1h0M221.3 290.6h0M222.8 292.6h0M223.7 292.4h0M224.8 288.4h0M224.8 288h0M224.9 288.9h0M226.4 292.9h0M227.3 288.6h0M226.6 290.2h0M225 291.7h0M226.2 289.4h0M228.6 289h0M226 293.9h0M231.5 294h0M231.1 292.3h0M230.9 293.2h0M230.4 296.5h0M232.6 293.5h0M232 294.6h0M231.9 295h0M232.5 295.7h0M234.2 298.7h0M236.1 297.2h0M241 301.3h0M243 296.8h0M248.9 295.1h0M244.9 295.5h0M247 295.9h0M246.4 295.6h0M248.5 294.4h0M246.6 292h0M246.2 290.8h0M244.6 290.6h0M249.2 288.2h0M248 287.7h0M250.5 287h0M250.3 285.8h0M248.2 282.8h0M249.1 283.9h0M249.5 284.6h0M249.9 285.6h0M252 287.9h0M252.6 287h0M253.5 286h0M251.7 284h0M250.8 285.8h0M251.7 283.4h0M251.1 284.8h0M253.5 283.8h0M253.1 291.2h0M254.2 290h0M253.9 292.4h0M258.3 291.6h0M257.2 291.7h0M259.7 293.6h0M259.2 295.7h0M257.9 296.8h0M257 299h0M261.2 296.8h0M257 299.1h0M259.2 299.6h0M263.2 298.9h0M268.6 301.5h0M269 302.3h0M268.1 298.4h0M271.9 298.4h0M272.6 302.6h0M274.9 302.3h0M275.1 299.4h0M273.7 300.7h0M276.3 299.9h0M277.6 299.8h0M276.9 301.2h0M279.3 305.3h0M280.7 303.1h0M281.3 303.3h0M281.7 303h0M281.4 305.7h0M281.9 306.1h0M281.3 304.2h0M281.4 302.9h0M279.3 304.9h0M281.7 301.8h0M280.5 306.8h0M278.5 307.4h0M279 307.4h0M282 316.5h0M282 312.4h0M281.8 315h0M285.8 317.6h0M281.3 321.6h0M282.5 318h0M282.8 322.6h0M290.6 323.1h0M291.6 324.4h0M291.7 324.3h0M292.3 324.5h0M291.9 322.6h0M292.5 326.5h0M293.4 323.9h0M293.6 325.3h0M293.8 326.6h0M294.3 322.5h0M295.1 324.6h0M296.1 324h0M295.7 325.2h0M292.5 322.9h0M292.9 325.8h0M293 324.2h0M295.6 322.3h0M291.9 322h0M292.4 324.1h0M296.3 324.7h0M295.5 322.3h0M292.8 329.6h0M294.5 332.2h0M296.3 329.2h0M295.4 325.5h0M292.1 326.6h0M300 336h0M301 339.3h0M302.8 337.6h0M303 337.9h0M299.5 339.5h0M302.5 340.1h0M302.2 339.6h0M301.9 339.7h0M301.3 339.9h0M301.5 342.4h0M302.4 343.6h0M304.1 346.5h0M307 346.6h0M306.4 347.7h0M307.1 349.1h0M306.4 347h0M310 352h0M314.2 349.4h0M311.5 347h0M313.6 342.9h0M313.5 342.5h0M312.5 343.2h0M315.4 339.3h0M319 337.8h0M318.5 337.7h0M318.8 335.2h0M316.5 336.8h0M316.6 333.4h0M319.8 331.9h0M317.9 333.2h0M318.1 333.5h0M319.3 330h0M319.4 331.7h0M317.5 325.9h0M316.5 324.5h0M318.7 327.1h0M317.1 325.5h0M320 329.4h0M316.5 328.7h0M316.1 325.4h0M318.7 328.8h0M317.4 324h0M319 314.5h0M322.5 315.9h0M319.4 316.9h0M321.8 314.9h0M319.5 315h0M323.3 313.8h0M324.6 314.8h0M324.3 310.4h0M323.2 308.6h0M321.9 310.6h0M323.8 303.2h0M326.7 300.3h0M327.7 301h0M328.6 301.5h0M325.4 296.5h0M328.2 295.9h0M329.6 294.9h0M329.4 296.2h0M330.6 296.1h0M331.3 289.9h0M331.8 288.4h0M333.6 290.7h0M332.7 289.6h0M333.4 290.1h0M333.3 286.8h0M332.2 286.7h0M335.5 289.6h0M337.6 286.9h0M337.4 284.6h0M336.4 284.6h0M335 279.8h0M336.8 282.2h0M335.9 279.4h0M338.3 273.3h0M341.4 275.8h0M340.2 275.2h0M337.6 275.1h0M341.7 275.9h0M341.2 272.2h0M339.6 272.4h0M343.6 272.8h0M339.9 271h0M343.4 269.5h0M341.6 269.2h0M342.2 267.8h0M343.6 266.4h0M344.4 269.6h0M342.4 268.3h0M341.5 267h0M341.2 265.1h0M341 265h0M342.1 266.6h0M344.7 267.8h0M344.6 269.2h0M344.8 269.9h0M346.4 267.4h0M341.5 265.2h0M341.4 267.2h0M344.2 267.1h0M344.6 268.4h0M341.1 265.9h0M340.5 266.5h0M346.1 264.8h0M341.9 269.1h0M341.7 266.4h0M343.6 265.1h0M343 273.9h0M346.8 270.5h0M343.8 277.2h0M343.5 276.8h0M347.2 280.5h0M347.2 279.3h0M348 280.2h0M350.2 279h0M357.7 280.8h0M354.6 278.9h0M355 277.9h0M356.8 277.9h0M356.2 276.4h0M360.3 276.7h0M359.1 272.8h0M363.2 269.6h0M361 268.7h0M362 266.1h0M361.6 270.1h0M361.9 267.2h0M362.9 268.3h0M364.1 265h0M364.4 266.6h0M367.5 269.1h0M367.3 269h0M363.6 270.8h0M366.5 271.7h0M369.2 273.4h0M372.2 272.7h0M368.6 276.6h0M369.6 275.6h0M369.5 278.8h0M373.4 277.3h0M374.3 277.7h0M375.1 281h0M378.6 286.7h0M380.7 293.9h0M381.4 291.7h0M383.7 294.7h0M379.1 295.4h0M382.2 297.2h0M388.3 300.9h0M387.9 304.3h0M389.5 304.5h0M391.9 303.8h0M391.2 302.8h0M391.1 301.1h0M395.7 302.7h0M392.5 298h0M395.6 299.5h0M393.1 297.3h0M396.5 298.5h0M399.2 296.3h0M399.1 297.5h0M398.6 294.9h0M401.3 291.7h0M398.9 290.9h0M397.6 289h0M400.9 290.2h0M400.5 290.7h0M403.6 290.1h0M406.9 286h0M403.5 284.2h0M404.6 285.8h0M406.7 282.3h0M404.8 278.5h0M406.6 278.4h0M408.2 278.2h0M408.3 276.6h0M410.6 275h0M407.1 274.8h0M410.7 275.4h0M408.9 274.4h0M410.3 272.3h0M411.5 275.6h0M411.2 277.7h0M411.3 277.9h0M412.1 274.3h0M411.6 273.5h0M413 274h0M408.4 274.6h0M410.7 273.4h0M412.4 275.4h0M411.3 276.1h0M413.2 281.9h0M415.1 281.8h0M413.9 282.1h0M413 283.8h0M422.2 281.5h0M422.7 281.4h0M423.4 278.9h0M423.4 277.5h0M424 278.3h0M429.9 277.5h0M429.8 276.8h0M429.6 274.3h0M433 270.5h0M433.2 269.1h0M432.5 270.6h0M434.5 269.3h0M431.1 268.3h0M432.8 267.1h0M431.5 265.2h0M433.6 261.8h0M431.8 262.7h0M434.3 260.2h0M430.5 261.5h0M434.9 255.8h0M434.9 252.9h0M436.9 248.5h0M438 248.1h0M439.1 247.9h0M439.3 246.7h0M438.5 247.1h0M436 244h0M435.8 240.4h0M438.5 242.7h0M438.8 245.9h0M438.8 240.2h0M440 241.7h0M440.9 243.6h0M441.5 241.1h0M437.8 243h0M439.6 241.3h0M438.7 244h0M441.7 245.2h0M441.4 246.7h0M443.9 248.8h0M446 249.3h0M443.5 252.6h0M444.5 255.7h0M448 254.2h0M448.1 253.8h0M443.1 257.3h0M449 258.4h0M446.6 258.1h0M444.6 260.9h0M446 258.9h0M445.6 260.5h0M449.1 264.3h0M447.5 264.3h0M448.5 264.5h0M449.6 262.3h0M444.8 264.3h0M450.8 265.7h0M451.3 265.9h0M449.2 267.6h0M450 268.6h0M447.1 267.5h0M448.8 271.4h0M455.9 280.1h0M456 279.5h0M453.2 280.7h0M457.4 281.2h0M457.5 280.1h0M455.3 281.4h0M453.7 281.8h0M454.8 284.3h0M456.2 285.3h0M458.5 284.4h0M454.9 283.2h0M457.9 286h0M459.9 291.4h0M459.6 290.6h0M458.4 288h0M460.4 293h0M458.8 298.3h0M456.5 295.5h0M457.6 297.8h0M456.4 299.1h0M460.5 297.5h0M456.7 297.4h0M459 294.7h0M463.6 304h0M462.6 305.4h0M464 305.1h0M465.6 303.3h0M465.9 305.4h0M469.2 302.6h0M472.9 298.4h0M473.4 297.2h0M479.2 296.2h0M478.1 296.6h0M477 292.6h0M475.7 293.3h0M478.4 294.2h0M480.7 294.4h0M476.6 290.5h0M482.9 290.9h0M479.3 289.4h0M480.5 288.4h0M480.1 289.7h0M481.6 289.6h0M482 289.7h0M482.1 291.3h0M482.9 289.5h0M483.4 291.6h0M483.4 289.5h0M481 291h0M481.5 294.2h0M486.1 293.6h0M485.9 292.8h0M483.3 295.1h0M485.3 294.5h0M486.4 293.1h0M489.3 297.9h0M490.8 298.6h0M492.5 297.7h0M492.7 296.8h0M493.9 296.9h0M493.8 297.9h0M494.4 296.3h0M495.6 298.6h0M491.3 302.7h0M495.8 301.9h0M497 302.7h0M493.8 306.1h0M498.1 308.1h0M493 308.6h0M496.3 310.5h0M499.8 310.8h0M497.1 315.9h0M496.6 317.4h0M498.1 317.5h0M501.8 317.7h0M501 319.4h0M499.3 320.9h0M498.1 323.1h0M497.3 320.4h0M497.7 323.4h0M498.9 320.7h0M502.4 322.3h0M500.3 323.3h0M499.5 323.3h0M500.4 327.2h0M503.6 329.3h0M503.8 331.2h0M504.8 334.6h0M501.3 337.5h0M500.9 336.9h0M506.1 334.3h0M501.9 336.3h0M509.4 339.5h0M514.9 337.6h0M513.6 338.1h0M514.4 334.3h0M517.4 335.4h0M519.4 331.1h0M516.4 332.4h0M515.2 332.1h0M518.8 328.3h0M515.4 329.5h0M519.4 327.1h0M516.6 328.6h0M519.8 322.1h0M516.7 321.8h0M520 324.9h0M517.9 323.9h0M520.8 318.1h0M520.8 318.2h0M523.9 314.2h0M523.1 311.6h0M525.9 312.1h0M524.7 310.3h0M526.9 308.8h0M521.4 308h0M525.1 305h0M527.2 306.4h0M528 306.3h0M527.9 303.3h0M524.9 302.7h0M528 302.1h0M528.9 302.2h0M525.4 300.1h0M526.6 298.7h0M526.4 297.1h0M531 298.7h0M531.8 294.3h0M533.3 293.1h0M531.6 294.6h0M535.5 289.5h0M531.8 288.3h0M536.1 289.2h0M534.2 284.6h0M534.6 282.6h0M535.7 282.5h0M537.5 281.5h0M539.4 277.5h0M539 275.8h0M542.3 275.3h0M541.7 272.9h0M546.8 265.9h0M546.5 266.3h0M547.2 263.8h0M545.7 261.3h0M546.2 263.6h0M546.5 264.4h0M547 263.9h0M551.7 263.2h0M550.4 261.2h0M551.2 260.4h0M551.1 262h0M553.9 260.1h0M554.4 260h0M555.9 263.7h0M555.6 262h0M555.6 264.7h0M558.5 264.8h0M555.4 268.2h0M556.3 266.5h0M558.3 267.8h0M562.6 269h0M563.8 269.6h0M560.7 273.3h0M560.5 273.9h0M565.7 274.2h0M567.9 277.7h0M574.2 272.3h0M574.8 271.7h0M578.8 271.7h0M577.8 272.4h0M578.7 268.3h0M578.2 269h0M580.5 268.2h0M578.2 266.5h0M581.5 266.4h0M582.4 266.2h0M583.3 266.7h0M585.8 265.2h0M585.2 263.7h0M588.7 265.7h0M588.7 265.9h0M591.9 260.7h0M588 259.3h0M587.5 259.6h0M592.3 252.6h0M591.7 253.9h0M592.6 251h0M591.9 252.5h0M592.5 250.7h0M593 251.3h0M595.6 253.1h0M596.5 252.7h0M596.3 246h0M598.9 243.1h0M599.3 244.3h0M599.1 236.8h0M601.3 236.7h0M600.3 240.2h0M599.5 232.1h0M598.2 231.6h0M601.9 234.9h0M597.7 232.4h0M603.4 232h0M598.4 233.6h0M598.8 231.4h0M600.3 230.3h0M599.9 230.1h0M602.1 230.1h0M604.5 230.7h0M603.4 225.7h0M602.9 224h0M605.6 228.1h0M602.7 227h0M604.2 225.4h0M603.8 227.5h0M616.1 223.9h0M613.4 223.6h0M612.9 218.5h0M613.6 220.2h0M613 219.9h0M617.4 218.7h0M614.1 218.7h0M614.9 216.4h0M616.9 218.8h0M616 219h0M614.8 216.2h0M618.5 216.8h0M617.6 216h0M620.3 212.4h0M620.8 214.9h0M621.6 212.6h0M621.6 217.2h0M623 213.2h0M623.5 215.6h0M624.4 214.4h0M624.6 215.2h0M624.6 215.5h0M629.4 217.4h0M629.1 217.7h0M632 217h0M631.7 218.2h0M633.5 219.7h0M633.4 218.2h0M639.9 216h0M636 212.8h0M640.5 214.9h0M640 213.3h0M642.7 211.5h0M641.3 210.5h0M638.6 208.6h0M644.2 210.6h0M642.2 206.7h0M642.7 211.4h0M642.7 211.9h0M644.1 211h0M645.7 206.9h0M646.5 211.6h0M648.4 206.2h0M647.7 210.4h0M646.4 210.2h0M647.7 209.2h0M645.9 211.2h0M648.3 210.8h0M650.2 211.9h0M649 209.6h0M649.1 214.7h0M648 214.4h0M651.3 213.2h0M649.6 215.4h0M651.3 214h0M648.9 213.1h0M648.8 213.7h0M648 216.6h0M651.6 217.8h0M652 220.8h0M651.5 219.7h0M653.8 222.4h0M653.3 222.8h0M654.6 224.7h0M656.8 221h0M656.4 222.9h0M658.5 221.9h0M656.6 224h0M656.6 225.4h0M655 230h0M655.3 225.7h0M659.8 231.4h0M658.6 235h0M660.7 233.3h0M662.4 237.3h0M659.7 238.3h0M661.8 240.2h0M658.8 240.7h0M658.3 237.5h0M662.8 241.9h0M662.2 247.2h0M662.7 248.9h0M663.9 246.9h0M668.9 241.9h0M668.9 241.4h0M671.9 244.3h0M671.5 241.2h0M669.2 246.3h0M669.6 243.8h0M670.5 242.4h0M670.1 245.7h0M670.6 241.4h0M671.1 242.5h0M671.1 244h0M672 243.9h0M672.5 242.9h0M671.7 242.9h0M674.4 242.5h0M673.5 242.9h0M673.2 243.6h0M672.2 243h0M670 246.5h0M674.3 242.9h0M670.8 247.6h0M670.6 245h0M671.2 247.9h0M672.9 245.1h0M672.1 247.5h0M674.2 252.6h0M672.3 251.9h0M671.7 253.6h0M674.6 248h0M673.6 250.3h0M673 252.1h0M675.2 248.6h0M672.8 252.6h0M674.5 248.7h0M672.8 258.1h0M676.2 255.6h0M676.1 257h0M675.7 255.6h0M679.2 258.9h0M677.8 260.1h0M675.9 262.1h0M678 260.5h0M680.8 260.4h0M681.8 262h0M680.5 265.3h0M682 263h0M681.3 266.8h0M685.6 261.3h0M688.3 262.7h0M688.2 262.7h0M689.8 257.9h0M687.9 259.5h0M688.4 256.5h0M690.5 255.4h0M686.8 255.3h0M691.4 258.1h0M691.4 254.2h0M688.9 249.7h0M689 254.4h0M690.4 249.2h0M690.4 249.4h0M688.8 251.1h0M690.5 252.7h0M689.7 248.3h0M692.5 250.6h0M693.1 250.2h0M694 249.9h0M695.3 250.5h0M695.1 249h0M689.7 249.6h0M693.3 254.4h0M694.2 251.4h0M693.7 255.9h0M690.9 253.7h0M691.4 255.4h0M691.6 250.9h0M693.1 260.3h0M694.9 259.8h0M698.3 261.8h0M699 261.6h0M698.8 264.7h0M697 264.5h0M696.6 264.6h0M699.3 264.7h0M698.5 269h0M701.5 267.9h0M701.9 266.9h0M702.7 270.1h0M706.5 267.9h0M707.1 273.6h0M706.9 272.3h0M707.9 268.8h0M706.6 273h0M708.7 273h0M709.1 270.3h0M708 273.9h0M715.1 275.3h0M715 278h0M714.8 273.8h0M716.2 274.9h0M716.8 275.9h0M720.1 276.2h0M719.8 274h0M718.5 274.6h0M719.5 276.2h0M719.5 278.6h0M720.5 278.6h0M720.4 278.7h0M721.3 283.7h0M726.2 282h0M728.5 282.2h0M728.2 284.6h0M729 284h0M729.4 285h0M733.4 280.9h0M732 276.7h0M735.7 275.5h0M734.9 274.3h0M735 274h0M734.3 274.9h0M734.3 273.4h0M737.6 273.7h0M734.7 270.6h0M734.1 271.6h0M734.5 269.3h0M735.4 271.2h0M737.8 272.6h0M736.3 263.6h0M734 265.7h0M735.8 262.6h0M736.7 261.6h0M734.6 262.7h0M735.1 265.7h0M738.4 263.4h0M737.4 262.1h0M737.6 260.6h0M738.6 260.9h0M739.6 259.7h0M742.4 262.1h0M740.5 258.3h0M743.7 261h0M740.7 258.6h0M744.5 256.9h0M744.5 257.4h0M743.6 260.2h0M744.8 254.9h0M746 259h0M748.9 257.8h0M748.7 256.3h0M753.3 254.3h0M756.6 256.2h0M757.3 251.5h0M758.8 253.6h0M759 254.1h0M756.2 251.1h0M761.1 245.1h0M762 247.1h0M764.9 247h0M766.3 245.7h0M766 245.5h0M763.7 244.8h0M765.5 244h0M765.8 242.8h0M765.6 243h0M766.1 242.5h0M767.8 247.2h0M774.8 243.8h0M772.3 240.1h0M771.3 240.7h0M772.1 241.3h0M774.4 242h0M772.4 240h0M772.5 239.6h0M777 242.1h0M775 236.8h0M775.7 238.2h0M778.3 238.3h0M773.7 236.7h0M774.7 241.8h0M775.5 236.7h0M776.4 236.4h0M776.1 237.9h0M777.3 239.2h0M778.3 237.7h0M778.7 238.9h0M775.7 238.1h0M774.3 238.9h0M776.4 238.6h0M776 242.4h0M777.1 242.4h0M779.2 239.4h0M777.8 243.1h0M780.5 241.3h0M779 242.4h0M781.3 243.5h0M781.5 245.6h0M782.3 247.4h0M783.1 246h0M783.5 244.8h0M786.1 244.9h0M784.9 246.3h0M784.1 249h0M791.4 244.8h0M793.4 244.5h0M788.7 243h0M793 238.7h0M792.1 235.9h0M795.5 237.3h0M791.4 237.2h0M791.5 237.8h0M796.1 238.4h0M794.6 239.7h0M792.8 236.9h0M795 236.2h0M795.8 238.4h0M796.1 238.9h0M797.3 234.1h0M799 237.8h0M802.3 233.3h0M802.5 235.4h0M803.5 234h0M802.6 235.2h0M803.1 235.3h0M805.6 237.3h0M805.3 237.4h0M808.3 238h0M806.6 241.1h0M807.2 239.3h0M806.8 240.2h0M808.9 239.1h0M811 239.8h0M806.8 241.2h0M807 244.2h0M811.7 241.6h0M812.9 248.4h0M812.7 248.7h0M814.3 248.2h0M813.9 247.7h0M815.4 247.2h0M812.5 247.9h0M812.2 248.4h0M813.7 248.4h0M814 248h0M813 248.5h0M814.4 251.2h0M817.7 251.4h0M815.8 252.2h0M818.3 250.8h0M819.4 250.6h0M822.4 256.2h0M821.6 260.3h0M825.2 257.9h0M826.2 258.7h0M830.4 259.9h0M830.5 263.7h0M834.3 261.2h0M837 257.1h0M838.7 258.2h0M837.4 257.6h0M839.3 259.6h0M840.3 256.7h0M841.1 261.1h0M843.2 259.8h0M843.4 257.2h0M845.6 258h0M845.7 261.9h0M846.4 261.3h0M851.6 260.3h0M853.1 257.3h0M853 253.3h0M852.8 254.8h0M856.9 256h0M857 250.1h0M853.5 250.9h0M858.1 243h0M857 243.3h0M862.1 237h0M862.6 240h0M862.2 239.5h0M857.2 240.6h0M861.6 228.6h0M863.2 224.6h0M863.6 232h0M862.8 220.9h0M858.4 219.9h0M859.6 228h0M858 231.9h0M859.9 226.1h0M861.4 230.7h0M863.9 226.7h0M859.4 223h0M864.2 228.5h0M861.6 204.7h0M864.5 208.7h0M860.4 210.6h0M858.2 215.6h0M862.5 210.9h0M864.3 213.5h0M862.2 208.3h0M860.1 212h0M864.5 205.7h0M860.8 209.7h0M865.1 206.4h0M861.6 204.7h0M860 211.2h0M866.2 203.3h0M863.7 200.2h0M861.5 199.5h0M866.6 201h0M863.5 201h0M866.2 202.8h0M865.8 204.8h0M866.3 197.8h0M865.6 197.6h0M861.4 198.4h0M863.8 195.2h0M864.4 196.2h0M865.6 196.2h0M861.3 197.4h0M866.2 196.9h0M862.2 196.1h0M864.9 201.6h0M864.6 199.8h0M862.5 200.5h0M865.4 205.1h0M867.2 204.2h0M869.3 206.2h0M869.4 208.9h0M869.4 209.4h0M867.6 207.9h0M875.3 216.5h0M873.3 221.3h0M877.1 219.5h0M874.1 220.6h0M878.5 217.5h0M874.8 222.8h0M876.1 223.4h0M887.1 220.8h0M888.9 220h0M888.1 216.6h0M887.9 211h0M890.9 207.8h0M887.1 206.2h0M892.2 208.4h0M891.2 202h0M896.2 200.5h0M893.8 198.6h0M893.9 199.5h0M895.7 199.2h0M895 197.8h0M892 202.9h0M891.7 197.8h0M893.8 201.4h0M896 197.4h0M896.1 197.1h0M896.2 196.5h0M894.4 199.1h0M893.3 198.7h0M895.6 203.3h0M896.6 202.2h0M903.3 199.8h0M908.9 201.7h0M904.3 200.3h0M901.5 201.3h0M909 199.8h0M909.9 197.2h0M911.4 194.3h0M904.8 192.6h0M909.5 195.2h0M907.3 190.2h0M911.1 189.1h0M911.8 185.2h0M917.6 184.8h0M915.3 181.5h0M916 179.1h0M918.9 176.7h0M916.8 176.8h0M914.9 173.2h0M915.4 175.5h0M916.2 177.4h0M917.5 176.6h0M920.1 177h0M915.6 177.7h0M923.9 173.6h0M930.6 177.1h0M929.9 175.9h0M924.7 173.6h0M925.8 171.2h0M931.9 173.5h0M930 169.9h0M930.1 171.2h0M927.4 168.8h0M927.8 175.2h0M928.6 171h0M929.1 171.6h0M932.3 175.6h0M934.2 169.1h0M932.9 168.5h0M934.8 175.4h0M933.2 179.5h0M938.6 181.2h0M939.1 188h0M940.7 181.4h0M938.5 186.6h0M945.5 184h0M948.1 185.9h0M956 174.7h0M956.9 173.4h0M956.9 172.4h0M960.5 171.9h0M964.6 173.9h0M961.2 168.6h0M966.1 169.7h0M966 168.7h0M966.4 168.5h0M964.8 167.5h0M962.5 165.6h0M961.9 166.5h0M967.1 166.6h0M965.8 166.7h0M962.8 163.8h0M966.6 165.2h0M967.1 159.5h0M964.6 158.4h0M970.2 152.3h0M972.8 151.4h0M969.4 145h0M969.5 143.7h0M971.6 141.8h0M970.7 140.4h0M974.1 139.4h0M971.1 138.3h0M972.3 140.6h0M973.9 140.6h0M973.1 134.4h0M970.4 130.6h0M970.5 130.7h0M977 119.8h0M975.6 118.2h0M973.5 124.9h0M970.5 123.2h0M974 118.6h0M977.2 123.9h0M976.2 117.8h0M974 117.9h0M976.1 119.6h0M971.9 122.2h0M978.3 113.8h0M974.8 113.1h0M973 114.2h0M975.3 112.3h0M973 111.3h0M975 109.3h0M975.6 113.8h0M977.6 114.2h0M976.1 110.3h0M977.7 113.7h0M978.8 117h0M974.2 116.7h0M974.9 119.8h0M976.4 120.3h0M980.5 119.4h0M978.8 119.5h0M977.8 128h0M980.1 130.2h0M977.1 125.7h0M982.6 130.3h0M977.8 134.1h0M979 134.2h0M978.1 135.8h0M981.5 138.9h0M983.9 139.2h0M984.2 140.6h0M983.2 137.9h0M980.4 143.3h0M986.2 148.6h0M983.8 147.8h0M981.2 147.5h0M980.2 144.6h0M981.1 146.2h0M980.8 145.3h0M987.6 157.4h0M983.6 154.2h0M982.4 153.3h0M985.2 150h0M983 159.3h0M985.7 151.6h0M987 157.9h0M983.4 154.1h0M983.6 169.1h0M986.1 162.9h0M984.8 172.4h0M983.7 162.6h0M982.1 162.1h0M985.1 169.9h0M985.8 173.8h0M983.3 162.5h0M982.3 173h0M984.9 165.2h0M982.2 165.8h0M983.4 168.3h0M982.1 164.5h0M986.8 182.3h0M984.1 184.8h0M983.9 181.1h0M985.9 186.2h0M984.8 183h0M989.7 182.7h0M987.2 187.1h0M987.9 175.1h0M985 180.9h0M987.4 185.1h0M984.7 182.1h0M982.8 184.8h0M987.4 175.9h0M986.7 195.6h0M986.9 188.8h0M989.8 193.2h0M985.2 195.5h0M984.5 192.2h0M986.2 194h0M989.2 187.9h0M989.6 195.3h0M985.5 194.6h0M988.7 201h0M999.1 202.1h0M999.4 198.5h0M1002.3 199.6h0M999.8 194.7h0M1001.5 192.3h0M1003.5 193.3h0M1001.9 190.4h0M999 185.9h0M1008.6 181h0M1001.8 171.4h0M1005.7 172.4h0M1003.2 172.4h0M1005.8 178.1h0M1006.4 169.9h0M1007.4 176.9h0M1008.1 171.1h0M1019.9 171.6h0M1018.1 168.9h0M1012.9 158.5h0M1017.1 172.8h0M1017.1 171.5h0M1016.8 162.9h0M1017.2 172.3h0M1018.9 172.5h0M1017 167.8h0M1014.8 155.3h0M1015.2 155.4h0M1015.6 154.4h0M1015.6 154.9h0M1015.6 152.1h0M1019.1 161.7h0M1019.2 165.2h0M1018.7 160.5h0M1017.9 162.2h0M1017.7 175h0M1012.2 170.1h0M1017.7 153.7h0M1016.3 152.6h0M1016.2 176.1h0M1017.2 167.6h0M1019.5 176.2h0M1014.7 177.2h0M1014.6 176.9h0M1018.8 155.5h0M1018.4 159h0M1012.3 190h0M1018.9 194.2h0M1018.6 185.4h0M1015.8 200.1h0M1020.2 183.5h0M1018.1 177.8h0M1013.3 188.3h0M1018.4 199.4h0M1020.5 188.6h0M1017.7 204.9h0M1014.6 207.7h0M1021.4 204.6h0M1026.4 209.2h0M1029 211.7h0M1030.2 204h0M1029.8 207.4h0M1030.3 205.1h0M1028.2 213.4h0M1028.8 218.1h0M1033.6 216.8h0M1042.6 207.6h0M1044 211.7h0M1040.5 212h0M1045.5 210.6h0M1046.7 197.3h0M1041.5 197.2h0M1046.6 190.5h0M1047 193.7h0M1044.6 200.3h0M1044.9 191.4h0M1043.8 179.6h0M1047.3 185.9h0M1048.7 182.6h0M1048.2 180.9h0M1048.8 180.3h0M1042.8 186.6h0M1052.3 177.2h0M1050.3 175.3h0M1048.7 185.9h0M1048.3 188.3h0M1045.9 177.8h0M1051.8 183.9h0M1048.4 165.1h0M1051.4 166.3h0M1044.1 163.1h0M1049 162h0M1044.8 168.6h0M1044.6 161.6h0M1048.3 166.8h0M1050.2 161h0M1046.1 160.6h0M1048.5 165.6h0M1049.6 164.3h0M1048.6 166.9h0M1047.6 167.2h0M1047.4 170.7h0M1049.7 177.4h0M1045.5 180.1h0M1044.8 179.8h0M1052.1 177.9h0M1049.4 183.3h0M1048.3 184.3h0M1060.7 188.9h0M1061.4 186.3h0M1063.1 191.5h0M1064 190.4h0M1063.5 185.8h0M1061.9 188.4h0M1059.7 188.2h0M1056.2 187.1h0M1062.8 185.2h0M1061.1 187.6h0M1063.9 184.6h0M1059 186.4h0M1057.4 193.3h0M1064.7 192.7h0M1058.8 199.1h0M1064.4 198.6h0M1058.5 199.7h0M1061.5 199.5h0M1061 201.2h0M1060.2 199.5h0M1063.3 205.4h0M1060.6 207.6h0M1062.2 212.5h0M1069.1 212.9h0M1068.6 214.8h0M1070.7 219.2h0M1077.7 214h0M1083.4 210.1h0M1080.1 209.5h0M1080.1 214h0M1079.2 211.5h0M1080.1 215.1h0M1082.2 217.5h0M1076.9 213h0M1077.7 216.9h0M1075.9 218.9h0M1081.9 215.9h0M1084.5 220.2h0M1077.8 220.8h0M1084.3 219.2h0M1080.5 215.6h0M1091.7 223.1h0M1095.9 221.4h0M1097.5 221.9h0M1093.2 223h0M1094.1 213.1h0M1093.8 213.3h0M1096.4 220.3h0M1097.2 210.8h0M1099.1 218.8h0M1097.9 212.6h0M1098.1 212.4h0M1100.5 214.8h0M1096.6 213.1h0M1095.4 219.4h0M1099.8 220.5h0M1100 223.1h0M1100.7 221.4h0M1104.9 224.5h0M1109.4 228h0M1105.3 224.3h0M1103.6 226.6h0M1107.7 232.4h0M1103.3 232.5h0M1119.9 237.4h0M1118.6 230.4h0M1124.4 235.7h0M1125.2 236.1h0M1118.6 233.2h0M1119.3 228.9h0M1121 232.4h0M1120.3 233.9h0M1117.3 231.7h0M1117.5 237.7h0M1119 241.2h0M1117.6 240.6h0M1120.7 238.5h0M1127.3 236h0M1130.8 241.4h0M1132 232.1h0M1133.2 225.3h0M1133.4 229.6h0M1134.5 232h0M1136.1 228h0M1137.5 225.5h0M1139.8 232.6h0M1135.5 228.1h0M1136.8 228.5h0M1138.4 231.2h0M1139.5 234.3h0M1139 234.4h0M1133.9 234.3h0M1143.3 233h0M1153 237.6h0M1151.2 236.9h0M1151.2 234.7h0M1148.5 233.8h0M1150.7 236.2h0M1150.6 232.3h0M1152.6 239.5h0M1149.1 235.9h0M1149.5 235.1h0M1145.8 237.3h0M1146.9 238.8h0M1156.8 241.5h0M1151 244.1h0M1151.6 244.7h0M1160 242.2h0M1156.4 253.9h0M1172.5 252.9h0M1175.5 252.9h0M1174.4 252.5h0M1172.3 248.1h0M1169.6 246.3h0M1177 249.7h0M1180.9 244.7h0M1176.8 241.8h0M1180.9 244.5h0M1180.6 244.3h0M1180.1 240.6h0M1183.6 236.7h0M1175.8 231.1h0M1181 222.7h0M1185.8 224.9h0M1185.1 223.1h0M1178.9 222.9h0M1179.7 224.7h0M1178.7 224.7h0M1177.1 221.8h0M1182.3 223.8h0M1180.1 225.4h0M1180.7 224h0M1183.8 225.4h0M1183.1 223.4h0M1177.6 224.8h0M1178.8 224.5h0M1184.3 221h0M1176.8 225.2h0M1180.8 227.4h0M1184.8 223.9h0M1181.3 233.9h0M1182.3 236.4h0M1187.9 234h0M1186.6 236.4h0M1183.6 237.9h0M1186.3 236.6h0M1187 238.4h0M1186.3 245.2h0M1186.7 245.4h0M1190.7 242.3h0M1198.5 245.6h0M1195.3 240.1h0M1200 240h0M1207.5 239.3h0M1208.8 239.5h0M1206.1 242.3h0M1207.2 239.7h0M1206.9 239.1h0M1214.7 238.5h0M1218 239.7h0M1216.1 243.2h0M1219.4 248.7h0M1223.2 247.2h0M1216.5 249.3h0M1222.3 248.8h0M1219 254.2h0M1231.6 251h0M1232.8 249.7h0M1238.1 245.9h0M1244.7 249.5h0M1241.1 244.3h0M1247.2 249.7h0M1246.2 249h0M1242.2 243.4h0M1250.5 247h0M1251.4 248.4h0M1251.4 245.4h0M1252.8 241h0M1251.1 246.7h0M1253 248.8h0M1261.5 244.2h0M1259.9 247.7h0M1262.8 246.4h0M1263.8 244.2h0M1266.7 242.8h0M1271.3 240.8h0M1272.1 237h0M1272 241.1h0M1273.1 238.5h0M1276.3 241h0M1273 240.6h0M1278.2 244h0M1277.6 247h0M1280.8 239.3h0M1285.2 248.4h0M1286.1 247.1h0M1288.4 247.4h0M1291 242.9h0M1291.7 246.7h0M1292.2 243.5h0M1295.4 248.5h0M1296.4 243.8h0M1297.4 244.6h0M1299.3 251.1h0M1314.5 255.3h0M1313.7 250.8h0M1317.6 251.4h0M1317.9 251.9h0M1318.9 246.6h0M1315.8 255.6h0M1317.6 253.6h0M1319.1 255.4h0M1322.3 254.3h0M1325.2 252h0M1326.3 252.6h0M1325.3 257.8h0M1326 259.2h0M1329.5 255.6h0M1337.7 258.3h0M1335.9 251.2h0M1336.9 250.2h0M1340.5 253.7h0M1340.9 252.3h0M1341.8 252h0M1341.9 251.5h0M1342.6 250.5h0M1340.3 244.9h0M1342.1 244.5h0M1343.4 244.1h0M1344.6 246.1h0M1347.3 249.4h0M1347.6 251.7h0M1343.4 254.8h0M1350.3 248.9h0M1353.3 250.5h0M1360.3 250.8h0M1362 253.6h0M1357.9 248.1h0M1358.4 253.3h0M1359.7 250.7h0M1361.8 254.3h0M1359.6 247.7h0M1357.8 249.7h0M1365.4 254.9h0M1367.3 260.2h0M1370.5 252.7h0M1371.7 253.8h0M1371.3 260.4h0M1376.6 257.2h0M1379.9 260.6h0M1390.6 260.9h0M1393.5 262.2h0M1393.3 261.1h0M1391.4 259h0M1400.7 256.7h0M1394.9 257.4h0M1401.3 261.1h0M1398.5 254.6h0M1396.6 255.2h0M1398.8 255.3h0M1397.8 257.3h0M1401.7 259.4h0M1400.6 261.3h0M1403.8 261.9h0M1403.7 266.7h0M1406.1 264.8h0M1406.5 269.7h0M1410.4 268.5h0M1411.8 266h0M1418.9 272h0M1417.8 272.3h0M1417.4 275h0M1420.4 272.7h0M1417 277.5h0M1420.9 274h0M1422.1 273.2h0M1422.4 273.9h0M1421.1 275.2h0M1421.5 275.5h0M1422.4 277h0M1423.4 277.3h0M1430.8 281.1h0M1432.9 275.6h0M1433.6 279.7h0M1428.8 279h0M1431.1 278.5h0M1427 283h0M1427.7 279.3h0M1429.7 286.4h0M1435.3 282.1h0M1434.4 285.5h0M1435.2 283.9h0M1436.8 286.8h0M1433.1 286.8h0M1441.6 289.6h0M1438.6 295h0M1436.5 294.4h0M1439.6 292.7h0M1441.1 301.3h0M1443.8 298.8h0M1452.3 298.5h0M1454.5 300.3h0M1452 296.8h0M1454.4 298.6h0M1456.5 298.1h0M1460.8 294.8h0M1459.5 289.2h0M1456.3 288h0M121.3 303.4h0M121.6 305.6h0M119.2 306.9h0M123.7 305.1h0M120.2 308.3h0M124 306.8h0M121.7 309.1h0M125 309.1h0M124.2 310.8h0M124 313.1h0M124.6 315.1h0M125.1 316h0M126.3 313.9h0M127 315.3h0M128.2 316.2h0M130.2 325.4h0M133.1 324.3h0M129.5 329.6h0M131 329.2h0M135.2 331.9h0M135.5 333.4h0M130.7 334.6h0M132.6 335.1h0M133.9 332.9h0M135.8 338.5h0M139 337.1h0M137.4 340.1h0M134.8 340.8h0M135.2 340.6h0M138.5 337.6h0M138.1 341.2h0M137 339.2h0M135.3 346.2h0M139 344.2h0M139.4 346.6h0M135.6 347.3h0M141.6 352.5h0M137.3 349.3h0M138.1 350.6h0M139.1 350.4h0M141.4 354.4h0M142.4 360h0M140.6 358h0M137.5 359.4h0M137.3 354.8h0M136.9 360.9h0M140.2 360.7h0M141.4 355h0M138 359.9h0M137.6 361.1h0M139 356.6h0M141.2 358h0M142.2 362.1h0M146.7 359.4h0M145.8 359.8h0M146.6 358.6h0M144.4 363.4h0M148.4 364.3h0M151 367.7h0M151.2 367.3h0M149.9 368h0M147.7 368.9h0M148.3 368.7h0M149.5 367.9h0M149.7 368.2h0M150 367.9h0M151.8 368.9h0M154 371.7h0M153.2 369.6h0M155 369.9h0M155 370.2h0M154.6 367.6h0M155.8 369.9h0M156.6 371.9h0M155.2 369.5h0M156.1 370.4h0M158.9 368.9h0M162 364h0M164.1 367.6h0M165.2 366.9h0M160.8 366.3h0M168 360.4h0M167.7 360.7h0M168.6 359.1h0M166.2 361.8h0M170.4 361.1h0M165.9 360.7h0M170 360h0M166 358.4h0M169.2 352.1h0M167.1 353.6h0M170.6 353.2h0M169.1 352.8h0M166.9 353.6h0M173 351.6h0M170.3 347.8h0M169.6 348.1h0M173.1 345.6h0M181.4 344.5h0M179.6 349h0M178.8 349.2h0M183 349.8h0M178.4 348.8h0M178.7 350.9h0M179.3 348.6h0M179.8 350.8h0M182.2 346.5h0M182.6 347.9h0M187.6 347.9h0M192.4 347.4h0M192.3 340.8h0M197.4 345.1h0M198.7 345h0M197.6 345.5h0M196.8 346.4h0M198.5 345.5h0M200.4 344.6h0M200.4 345h0M200.8 342.2h0M201.3 341.7h0M201.8 343.9h0M198.7 343.9h0M201.5 341.5h0M204.2 339.8h0M204.8 338.8h0M206 342.2h0M207.2 341.9h0M206.5 339h0M208.8 341.8h0M210.1 340.1h0M210.2 337.9h0M212.2 339.8h0M212.1 339h0M212.4 339.6h0M213.9 341.5h0M214.7 342.6h0M215.2 337.9h0M217 338.8h0M216.4 338.3h0M216.9 339.9h0M219.1 340.5h0M216.7 337.2h0M219 340.1h0M217.6 337.2h0M218.9 336.7h0M219.2 335.9h0M222.1 339.3h0M224.1 339.7h0M230.8 337.5h0M228.5 340.1h0M228.6 339.1h0M228.1 340.9h0M230.1 340.3h0M231.7 339.3h0M232.6 340.7h0M234.4 340.2h0M234.3 338.7h0M232.7 338h0M233.5 336h0M235.2 337.1h0M235 338.4h0M236.3 335h0M238.8 335.4h0M241.8 335.6h0M242.1 335.9h0M241.9 335.4h0M243.8 331.6h0M244 332.2h0M244.1 332.9h0M248.7 331.3h0M255 332.2h0M259.5 338.9h0M259.4 339.6h0M257.7 341.9h0M257 338.7h0M257.4 340.2h0M256.8 338.7h0M258.1 341.3h0M258.5 339.3h0M259.2 343.3h0M262.4 341.9h0M261.7 343.8h0M262.5 339.7h0M261.6 342.5h0M263.2 344.4h0M263 344.2h0M263.5 340.8h0M263.5 343.4h0M264.1 341.7h0M265.3 342.2h0M264.8 340.4h0M268.1 342.1h0M269.1 337.6h0M269.9 340.1h0M276.3 338.2h0M274.1 340.8h0M276.1 337.3h0M278.2 340h0M282.5 345.6h0M283 346.5h0M282.7 353.2h0M283.7 356.4h0M283.1 353.5h0M279.1 358.7h0M283.7 355.2h0M282.8 365.1h0M286.2 368.8h0M284.3 369.1h0M281.2 367.3h0M282.5 365.7h0M282.6 369.9h0M284.1 370.9h0M282.7 372.8h0M286.4 379.3h0M290.3 379.6h0M287.7 384.2h0M288.8 381h0M284.8 377h0M286.8 378.6h0M284.9 382.2h0M287.9 377.2h0M291.3 393h0M291.5 392h0M286.9 393.7h0M291.4 394h0M289.4 389.8h0M286.4 386.2h0M290.3 389.2h0M288.8 403.7h0M291.9 410.4h0M291.5 411.9h0M287.1 399.3h0M289.8 410.7h0M292 404.4h0M291.2 407.7h0M291.5 412.3h0M290.1 406.1h0M291.4 398.7h0M288.2 405.5h0M288.2 412.9h0M291.4 418.2h0M293.5 414.9h0M292.4 417.9h0M292.2 415.7h0M293.8 415h0M288.1 416h0M294.2 417.8h0M294.6 417.7h0M293.8 418h0M290.6 421.5h0M291.5 419.1h0M291.4 422.4h0M292.3 422.1h0M292.5 426.4h0M296.2 425.3h0M297.2 426.7h0M296.9 426.6h0M294.3 430.7h0M297 430.8h0M294.8 439.1h0M293.8 435.2h0M298.6 435h0M295.1 436.6h0M297 450.8h0M298 444.6h0M294.4 441.2h0M297.1 449h0M297.2 445.7h0M297.2 441.7h0M295.9 445.4h0M297 448.2h0M294.5 441.6h0M295.3 448.4h0M297.2 443.6h0M299.1 460.1h0M298.9 455.9h0M299 452.2h0M299.5 452.9h0M299.1 455.7h0M300 453h0M297.9 458.4h0M300.9 456.3h0M296.1 452.5h0M297.1 461.9h0M296.9 460.8h0M296.7 455.9h0M298.2 457.6h0M297.4 464.2h0M296.9 470.4h0M299 466.2h0M298.1 472.9h0M300.2 471.3h0M298.7 480.1h0M298.3 481.1h0M299.7 482.5h0M301.2 485.2h0M301.3 487.5h0M300 483.3h0M302.7 490.2h0M303.2 487.5h0M300.3 485.2h0M303.3 490.3h0M302.2 491.1h0M301 485.2h0M299.3 489.7h0M304.5 490h0M305.2 485.1h0M301.8 486.6h0M301 486.1h0M302.8 486.6h0M304 485.3h0M300.3 483.9h0M306.5 478.3h0M301.9 479h0M301.7 477.3h0M301.3 480.2h0M305.1 482.4h0M304.2 479.8h0M304.9 475.9h0M305.4 468.9h0M305 470.3h0M303.4 474.1h0M306.4 469.2h0M304.1 468.7h0M304.5 469.5h0M303 457.2h0M306.7 461.8h0M307.8 460.4h0M308.6 457.7h0M307.7 457.2h0M303.2 457.9h0M304.8 464.2h0M303.3 461.5h0M307.4 460.1h0M305.3 461.7h0M304.9 450.7h0M306.1 446.3h0M305.9 452.9h0M306.2 444.3h0M309.8 444.9h0M304.7 454.2h0M308.5 456.2h0M307.8 450.9h0M305.5 450.7h0M303.8 451.8h0M306.2 438.3h0M304.7 439.5h0M305.6 436h0M309.1 437.1h0M309.7 436.6h0M308.9 441.3h0M311.4 430.6h0M308.2 431.9h0M306.8 424.1h0M310.3 423.6h0M311.3 417.6h0M310.7 404.3h0M311.3 417.6h0M306.9 420.7h0M309.2 399.2h0M307.5 395.9h0M310.9 398.3h0M306.6 417.5h0M308.3 400.9h0M307.6 420.3h0M312.2 412.8h0M308.7 413.6h0M309.9 400.6h0M307.4 412.4h0M309.5 404.6h0M306.5 415.6h0M310.9 420.8h0M310 412h0M313 390.1h0M311.5 390.8h0M313.1 390.8h0M321 387.2h0M317.4 387.4h0M321.3 388.8h0M317.7 387.6h0M320.9 380.7h0M317.8 382.7h0M324.5 376.4h0M319.5 377.5h0M320.3 373.8h0M322.3 377.9h0M320.8 376.9h0M322 375.7h0M322.1 367.2h0M320.5 367.8h0M320.1 369.9h0M321.4 362.7h0M323.8 361.8h0M320.8 364.2h0M323.3 363.7h0M323.5 366.5h0M326.1 361.8h0M326.4 358.1h0M323.9 358h0M325.1 361.7h0M325.4 358.3h0M325.9 355h0M324.4 354.9h0M327.7 350.6h0M327.8 347.8h0M330.3 350.7h0M334.6 352h0M336.6 352.2h0M337.2 355.2h0M337.8 357.4h0M334.1 357.3h0M339.1 355.2h0M337.7 357.1h0M338.5 355.9h0M333.3 355.4h0M336.2 365.1h0M336.5 366.7h0M334.6 361.4h0M337.4 367.6h0M340.5 379.2h0M340.6 379.1h0M336.5 377.4h0M341.3 374h0M337.2 368.5h0M339.8 376.1h0M336.5 378.4h0M337.7 377.7h0M339.6 378.8h0M341.2 375h0M337.2 377.8h0M336.9 376.5h0M342 373.4h0M337.9 367.1h0M337.1 376.3h0M341 377h0M340.3 370.9h0M342.4 374h0M340.6 373h0M336.4 376.4h0M339.3 372.3h0M342.3 375.2h0M337.3 370.2h0M339.1 367.4h0M339 368.7h0M338.2 362.8h0M338.2 366h0M340.4 365.6h0M341.3 365.6h0M339.5 359.6h0M340.7 357.2h0M339 364.8h0M342 359.5h0M338 358.2h0M339.9 364.3h0M344.4 351.1h0M342.2 354.1h0M341.2 354.7h0M345.7 346.5h0M346.4 348.4h0M345.6 348h0M353 348.9h0M353.8 348.3h0M354.6 347.8h0M353.5 352.2h0M356.2 355.2h0M358.4 357.7h0M354.6 355.8h0M356.6 356.7h0M355.4 355.7h0M355.9 356.2h0M356.3 358.9h0M356.7 359.3h0M359.6 359.5h0M358.9 354.9h0M364.7 352.5h0M364.2 354.9h0M362.7 354.2h0M368.4 361.3h0M363.8 356.6h0M369.1 364.1h0M364.6 366.9h0M364.1 367.4h0M363.9 364.8h0M366.3 360.1h0M363.5 358.9h0M366.6 356h0M367.6 371.5h0M369.4 364.2h0M365.7 367.9h0M364.3 364.5h0M366 372.9h0M366.5 372.6h0M364.7 371.6h0M369.7 373.5h0M372.9 373.5h0M373 374.3h0M374 373.9h0M374.8 368.8h0M376 371.2h0M376.8 374.2h0M373.3 370.2h0M377.9 369.9h0M379.4 371h0M385.3 368.4h0M383 370.4h0M385.7 367.8h0M383.4 372h0M386.7 369.3h0M386.8 375.9h0M386.6 377.6h0M385 379.1h0M386.5 374.4h0M388.3 376.5h0M389.4 377.8h0M387.2 377.9h0M389.4 381.7h0M387.9 387.8h0M390.4 387.1h0M386.3 388.5h0M386.9 387.6h0M386.7 385h0M388.2 386.3h0M388.8 388.1h0M389.2 390h0M389.8 389.4h0M391 387.1h0M389.2 386.2h0M390.1 389.2h0M389.9 386.3h0M388.6 384.5h0M390 385.3h0M392.2 378h0M391.5 383.4h0M390.3 381.9h0M390.8 382.4h0M393.1 375.2h0M393.4 373.6h0M389.3 372.7h0M389.9 375.6h0M391.7 368.2h0M392.4 371.9h0M392.9 369.5h0M391.8 370.8h0M394.7 365.4h0M395.2 367h0M395.6 366.5h0M391.2 360.9h0M391.1 362.5h0M392.1 360h0M395.5 362.7h0M395.3 360.4h0M395.9 363.4h0M392.5 356.9h0M394.3 357h0M400.6 351.9h0M400.6 350.4h0M399.6 350.2h0M404.6 348.7h0M405.7 344.5h0M407.9 341.7h0M402 341.6h0M408.4 339.4h0M403.3 337.9h0M408.3 338.2h0M413.2 337h0M414.2 334.9h0M413.5 335.6h0M413.1 338.3h0M418.8 342.2h0M418.2 342.3h0M414.6 340.1h0M417.3 344.6h0M420.4 341.9h0M418.5 341.5h0M416.5 342.5h0M414.1 339.9h0M415.7 350.7h0M417.3 349.4h0M419.8 346.4h0M420.9 347.6h0M421.5 352.4h0M421.1 350.7h0M417.4 347.3h0M415.8 348.9h0M416.6 354.4h0M416.6 350h0M421.3 353.8h0M421.3 352.3h0M417.6 351.7h0M422.1 349h0M419.5 343.8h0M420.7 345.8h0M420.5 347.2h0M419.4 348.9h0M418.2 351.9h0M420.4 347.9h0M422.6 346.6h0M418.3 351.6h0M421.6 340h0M418.7 343h0M421.8 334.5h0M426.4 332.6h0M425.3 334h0M424.9 332.8h0M423.5 330.6h0M425.4 329.4h0M423 327.8h0M425.1 325.5h0M429.4 324.7h0M429.7 324.3h0M426.5 324.1h0M426.1 322.6h0M429.7 324.5h0M429.9 326.6h0M427 322.5h0M431.5 322.4h0M428.2 322.4h0M428.1 322.4h0M428.5 318.2h0M431.6 319.2h0M433 317.9h0M437.1 312.5h0M437.4 310.5h0M436.8 311.4h0M436.1 308.2h0M435.3 304.2h0M440.7 306.5h0M439 301.5h0M444.7 302.7h0M444.2 304h0M446 302.3h0M447.4 302h0M448 302.8h0M449.5 300h0M448.7 300.4h0M449.9 302.4h0M452.7 305.3h0M455 303.5h0M459.9 307.2h0M458.7 316.2h0M461.7 312.9h0M461.3 312.3h0M459.6 314.2h0M462.3 314h0M462.8 318.3h0M459.1 317.7h0M458.4 317.9h0M460.3 319.1h0M458 318.5h0M461 321.3h0M460.9 324.5h0M462.2 326.3h0M459.4 323.1h0M459.4 324.6h0M460.5 325.7h0M459 322.1h0M460.7 328h0M464.8 330.9h0M463.8 331.8h0M466.2 337.7h0M465.5 335.9h0M465 338.3h0M460.9 340.4h0M461.8 338h0M461.1 334.7h0M464.3 339.9h0M465.5 347h0M462.9 346.8h0M462.9 345.7h0M463 348.1h0M461.5 342.9h0M464.3 344.4h0M467.4 344.3h0M466.6 351h0M468 350.8h0M466.3 349.9h0M463 352h0M466.3 353.6h0M465.8 351.8h0M467.8 351h0M468.5 350h0M471.1 350.3h0M471.8 353.6h0M472 351.2h0M472.1 345.1h0M470.6 347.5h0M473.3 351.5h0M470.5 350.8h0M471.8 340.9h0M473.1 343.4h0M471.5 341.7h0M470.3 342.1h0M471.6 340.1h0M473.4 342.9h0M470.4 342.9h0M472.1 342.4h0M478.9 338.9h0M479.8 338.7h0M481.3 339h0M480.5 340h0M483.8 338.7h0M486.1 343.8h0M483.8 343.2h0M486 348h0M485.2 351.2h0M484 349.2h0M487.6 347.3h0M485.1 347.1h0M484.6 358.6h0M485.2 359.9h0M488.7 368.2h0M488.8 362.1h0M490.3 372.8h0M487.8 374h0M490.2 370.7h0M492.5 374.6h0M491.2 369h0M490.4 376.5h0M487.9 378.6h0M490.4 377.9h0M492.1 377.2h0M489.4 377.3h0M488.4 376h0M490.9 378h0M492.7 382.1h0M489.5 389.7h0M490.4 387.9h0M490.5 384.5h0M490.2 396.3h0M494.9 396.6h0M491.5 397.1h0M491.2 390.9h0M493.6 392.6h0M497.4 393.4h0M496.4 392.2h0M498.2 392.2h0M499.8 395.3h0M500.9 392.4h0M501.4 395.9h0M502.5 392.9h0M501.7 393.3h0M503.8 395.5h0M504.3 394.8h0M506.8 391.2h0M509.6 392h0M509.2 390.2h0M510.6 394.3h0M510.4 393.9h0M516 391h0M515.1 389.3h0M516.2 391.1h0M517.3 389.1h0M517.1 391.2h0M524.8 391.4h0M524.3 393.3h0M526.2 393h0M526.4 391.2h0M526.5 392.8h0M526.5 394.2h0M526.5 391.2h0M526.6 395h0M528.5 390.5h0M528.1 391.6h0M529.4 393.9h0M529.4 391.1h0M528.8 389.9h0M528.8 393.7h0M530.3 391.7h0M531.1 391.1h0M531.9 391.4h0M534.5 395.2h0M534.2 395.2h0M534.3 394.5h0M534.7 393.4h0M535.6 392.5h0M538.4 395.1h0M538.1 394.1h0M538.2 392.9h0M538.4 395h0M540.2 394.6h0M541.5 394h0M542.6 392.3h0M543.2 391.7h0M542.4 395.8h0M543.1 394.7h0M545.1 395.2h0M545.2 391h0M545.6 390.4h0M546.9 394.2h0M547.5 395.9h0M545.5 393.2h0M547.6 391.4h0M549.2 392.1h0M547.2 388.8h0M549 390.8h0M548.6 387.9h0M549.5 385h0M548.2 386.5h0M550.3 384.8h0M546.7 388.2h0M551.3 387.8h0M550.1 389.4h0M551.5 388h0M552.8 375.8h0M552 379.4h0M547.1 378.3h0M548.6 367.6h0M552.3 367.3h0M550.4 370.7h0M548.9 372.5h0M553.2 371.4h0M548.2 367.8h0M550.1 372.4h0M551.1 361.7h0M551.4 362.3h0M549.7 360.1h0M551.6 362.2h0M554.2 361.8h0M553.1 363.2h0M554.1 356.4h0M552.8 354.9h0M554.4 356.1h0M564.7 360.7h0M559.7 355.8h0M563.3 361.1h0M559.8 360.5h0M563.1 354.8h0M561.1 368.5h0M561.1 362.7h0M560.3 370.2h0M562.4 368.5h0M564.8 363.4h0M563.4 364.6h0M562.1 375.5h0M565.4 372.5h0M563.6 376.5h0M564.7 376h0M565.2 376.2h0M563 371.8h0M565.3 377.5h0M564.3 377.6h0M563.9 377.1h0M566 377.7h0M568.2 376.2h0M569.5 376h0M568.7 375h0M570.3 378.7h0M571.3 377.4h0M569.3 378.3h0M569.1 374.9h0M569.2 375.2h0M572.3 372.1h0M572 375.4h0M571.8 374.3h0M567.2 371.3h0M570 371.8h0M568.3 375.8h0M566.6 376.9h0M569 371h0M572.3 368.2h0M567.7 368.1h0M569.9 370.7h0M569.7 367.9h0M569.9 366.1h0M572.2 371.2h0M569.1 370.6h0M573.2 368.6h0M572.1 363h0M572.8 363.3h0M569.1 359.6h0M573.3 363.1h0M568.8 364.4h0M572.9 365.5h0M573.5 358.4h0M571.7 349.6h0M573.5 351.6h0M571.6 350.8h0M576.5 348.6h0M576.1 351.5h0M576.2 350.6h0M574.8 344.4h0M576.1 342.9h0M575.1 344.9h0M572.5 346.6h0M576.9 345.1h0M575.7 345.8h0M576.4 342.3h0M575 346.3h0M576.9 347.4h0M577.1 337.3h0M578.4 339.9h0M580.2 337.6h0M582.1 335.6h0M583.2 335.2h0M583.3 338.6h0M579.5 338.4h0M583.4 338.2h0M581.1 333.3h0M583.4 335.7h0M584.8 329.9h0M584.7 332.6h0M584.8 331.4h0M588.4 329h0M585.2 326.6h0M586.7 327h0M590 326.4h0M589.6 325.4h0M589.4 327.1h0M587 322h0M590.8 324.6h0M588.3 317.8h0M587.8 319.1h0M588.1 315h0M588 316.6h0M589.4 311.7h0M593.2 313.6h0M590.8 311.2h0M590.7 313.3h0M590.8 308.6h0M591.2 308.7h0M596.6 306.1h0M591.6 303.7h0M591.6 305.6h0M592.2 305.3h0M595.6 302.7h0M593.1 300.3h0M593.8 301.4h0M597.2 302h0M597.8 300.6h0M597.4 300.6h0M598.7 297.9h0M598.8 299.8h0M596.3 297.7h0M597.2 297.6h0M600 298.6h0M600.2 297.9h0M600.2 298.6h0M599.2 298.3h0M597.6 292.6h0M596.7 294.7h0M599.8 295.1h0M597.2 294.7h0M597.3 294.6h0M603 293.3h0M599.3 292.4h0M601.6 288.7h0M601.9 289.3h0M603.6 286.5h0M604.1 287.1h0M605.4 286.7h0M606.8 287h0M611.6 286.8h0M616.4 287.3h0M619.4 288.4h0M614.3 291h0M615 291.5h0M615.5 292.8h0M619.6 293.6h0M621.9 298.8h0M624.6 296.2h0M625.7 297.6h0M622 299.7h0M622.5 300.8h0M625.6 300.9h0M626 301.9h0M626.6 304.4h0M629.3 304h0M627.6 306h0M630.2 304.6h0M628.1 308.8h0M628.3 307.7h0M630.9 306.4h0M631.1 307.8h0M631.3 311.1h0M631.4 310h0M632.7 309h0M632.2 310.3h0M632 312.9h0M634.2 311h0M631.8 314.3h0M634.1 312.3h0M635.9 311.4h0M634.6 315.5h0M636.3 314h0M635.1 311.8h0M634.6 311.9h0M637.9 313.4h0M636.6 314h0M640.8 314.3h0M635.8 312.1h0M636.2 313.3h0M636.6 313.4h0M636.3 313.9h0M637 310.1h0M635.8 311.3h0M641.5 310.4h0M639 307.8h0M639.3 310.1h0M636.6 309.4h0M641.5 304.1h0M648.4 300.5h0M651 298.7h0M649.4 301.5h0M651.5 302h0M652 302.4h0M652.1 300.3h0M651.3 303.7h0M651.2 300.5h0M652.5 304.4h0M651.6 301.3h0M654.3 303.4h0M655.1 302.3h0M656.3 302.4h0M656.5 304h0M654.2 300.1h0M654.2 300.5h0M659.2 300.6h0M657.1 297.4h0M659 302h0M664.5 301h0M665.3 298.5h0M665.4 298.8h0M666.6 296.3h0M668.5 302.5h0M670.8 304h0M672.2 300h0M672.9 299.5h0M673 299.3h0M673.1 302.8h0M672.5 299.1h0M672 304.1h0M672.9 301.3h0M676.3 303.4h0M678.1 304.1h0M679.7 302.8h0M677.7 300.8h0M677.8 300.3h0M686.9 300.7h0M686.5 300.7h0M685.8 302.2h0M686.2 299.3h0M688.2 300.6h0M688.7 299.1h0M688.6 299h0M689.9 299.8h0M691.1 301.5h0M691.3 299.2h0M691.2 300.2h0M695.3 301.3h0M696.8 301.8h0M695.5 304.3h0M695.3 307.5h0M701 307.8h0M698.5 307.4h0M699.8 306.9h0M700.1 313.3h0M702.9 312.2h0M703.5 311.7h0M705.3 312.6h0M707.5 312.1h0M709.8 314.4h0M707.7 318.1h0M709.5 313.9h0M708.6 315.7h0M708.7 316.3h0M713 313.4h0M713.6 314.1h0M711.5 315.8h0M710.6 313.5h0M713.6 312.7h0M712.6 309.3h0M714 306.8h0M714.1 303.9h0M719.8 304.4h0M718.4 302.5h0M717 301h0M722.3 301.3h0M722.3 300.2h0M728 296.6h0M730.5 295.9h0M736.5 296.2h0M736.7 296.7h0M734 298.5h0M733.7 302.6h0M734 301.6h0M739.5 303.8h0M738.3 305.5h0M736.8 305.9h0M734.9 304.4h0M737.2 304.9h0M740.2 305.1h0M737.2 308.6h0M736.4 309.4h0M739.9 308.7h0M736.3 311.1h0M738.7 307.8h0M739.7 310.9h0M738.5 307.1h0M739.5 308.9h0M745.4 309.7h0M745.3 305.7h0M745.9 305.1h0M747.1 306.3h0M748.4 309.8h0M747.7 309.5h0M747.7 305.7h0M745.4 307.8h0M746.4 308.8h0M746.4 308h0M746.4 304.8h0M747.5 307.2h0M746.1 304.4h0M745.4 304.5h0M746.4 305h0M752.7 300.3h0M753.6 301h0M753.6 299.8h0M754.7 301.8h0M755 302.7h0M753.7 299.8h0M755.6 298.8h0M754.7 299.1h0M757.7 301.6h0M758.1 301.6h0M758.8 300.5h0M758.7 300.4h0M760.1 297.2h0M763.8 295.3h0M764.4 294.9h0M766.7 296.8h0M769.1 296.2h0M767 292.4h0M769.4 293.5h0M772.1 293.9h0M769.6 292.1h0M769.9 288.8h0M772.3 286.7h0M778.4 285.5h0M780.1 289.4h0M780.6 288.4h0M782.6 287.8h0M781.8 287.1h0M786.5 287.2h0M787.3 289h0M790.4 293.4h0M792 291.6h0M793.5 292.4h0M795.1 299h0M795 302.2h0M795.1 303.5h0M794.2 306.4h0M793.6 309h0M793 307.3h0M795.2 307.7h0M794.1 307h0M796.8 308.6h0M795.1 313.3h0M796.9 314.1h0M798.7 311.2h0M799.1 309.1h0M801.2 312.3h0M801.8 309.1h0M802.7 310.7h0M804.9 310.5h0M807.2 314.1h0M810.5 313.4h0M809.4 313.9h0M812.8 312.9h0M812.3 314h0M813.3 317.5h0M813.6 317.8h0M813 323.1h0M814.9 320.1h0M816.9 324.7h0M814.2 328h0M813 330.4h0M813.2 330h0M816.1 329.4h0M813.8 327.8h0M816.8 330.2h0M816.7 329.2h0M814.2 327.8h0M813.2 329.6h0M812.7 328.5h0M816.8 337.8h0M817.5 335.8h0M818.2 337.7h0M818.8 338.7h0M817.9 338.4h0M821.1 345.4h0M818.9 344.9h0M817.1 346.2h0M816.6 346.5h0M815.5 343.6h0M822.3 348.2h0M818.1 347.6h0M817.7 349.6h0M819.1 352.9h0M820.6 360.6h0M820.9 355.3h0M820.6 356.4h0M822.8 361.9h0M819.8 362.4h0M822.2 356.9h0M819.4 355.6h0M824.2 357.7h0M822.5 354.9h0M820.1 365.5h0M822.9 362.7h0M820.8 365.2h0M822 363.9h0M824.8 375.2h0M823.2 371.7h0M824.1 372.8h0M822.4 375.8h0M821 370.4h0M821.6 376.5h0M821.9 374.7h0M822.6 370.3h0M821.6 376.2h0M820.9 372.5h0M825 374.2h0M827.3 377.6h0M824.5 377.4h0M823.2 379.1h0M823.8 377.9h0M825 379.5h0M826.4 376.3h0M826.2 374.3h0M827 374.1h0M827.5 378.2h0M826.8 379.7h0M825 377.9h0M823.6 373.8h0M823.8 376.4h0M824.7 370.6h0M826.6 376.1h0M827.6 374.1h0M828.6 371.6h0M826.4 375.7h0M828 374.5h0M822.8 373.9h0M826.3 370.5h0M825.6 365.3h0M824.7 366h0M823.7 368.8h0M824.3 365.3h0M828.8 368.9h0M827 367.6h0M824.8 358.4h0M829.7 360.5h0M825.3 356.4h0M829.2 362.3h0M830.5 359.7h0M828.5 355.9h0M827 355.8h0M825.8 359h0M829.8 354.5h0M831.7 352.2h0M831.5 345h0M832.3 344.7h0M831.8 348.4h0M830.1 338h0M828.5 337h0M833.6 336.5h0M828.8 335.6h0M832.1 337.3h0M832 330.9h0M834.6 333.5h0M833.5 331.2h0M835.7 333.2h0M833.7 331.2h0M835.3 331.5h0M838.2 326.5h0M840 330.4h0M839.7 325h0M839.6 329.1h0M841.3 327.3h0M842.5 328.6h0M843 328.4h0M843 328.3h0M842.5 328.5h0M843.5 328.9h0M840 326.1h0M840.8 328.3h0M840.3 327h0M839.5 324.1h0M843.8 324.2h0M842.3 321h0M842.7 316.2h0M841.7 313.1h0M841.9 313.9h0M847.6 312.8h0M846.6 308h0M844.5 308.7h0M847.1 309.6h0M843.5 309.4h0M848 302.7h0M847.9 302.2h0M846.7 298.2h0M852 295h0M848.7 296.3h0M850.7 292.6h0M853 292.8h0M852.9 291.7h0M850.5 291.3h0M853.4 290h0M856 285.8h0M854.2 282.3h0M854.9 283.6h0M857 281.8h0M853.7 280.4h0M854.2 280.3h0M856.2 279.1h0M857.8 279.8h0M859.3 278h0M856.8 269.6h0M858.9 276.2h0M858.1 275.1h0M855.4 274.7h0M855.4 275.6h0M857 270.7h0M855.9 273.2h0M858.3 270.5h0M854.2 276.8h0M860.4 265.6h0M859.2 266.4h0M860.1 259.2h0M856 260.1h0M857.7 260.9h0M859.3 252.6h0M858.7 249.8h0M856.8 257.1h0M860.7 257.5h0M858.9 251.9h0M858.4 251.8h0M860.5 250.9h0M857.7 253.6h0M862.2 255.4h0M861.1 254h0M860.4 258.1h0M859.2 255.3h0M863.1 247.3h0M870 249h0M866.2 251.9h0M869.4 250.1h0M869.9 252h0M871.6 252.7h0M868.8 256.4h0M874.2 258h0M870.3 257.8h0M872.3 260.3h0M871.7 260.8h0M871.6 266.7h0M875.8 267.4h0M871.8 267.4h0M873.6 265.2h0M874.3 268.7h0M872.8 273.2h0M873.6 271.2h0M876.9 275.1h0M877.2 278.2h0M876.9 276.7h0M876.7 278.6h0M875.1 274.6h0M876.1 273.9h0M882.1 278h0M882.8 281.3h0M884.6 280.9h0M884.9 280.9h0M882 281.8h0M881.1 282.8h0M881.2 282.7h0M881.4 283.6h0M882.2 282.9h0M883.4 283.3h0M884.2 284.4h0M884.6 281.5h0M885.1 280.8h0M885.4 283.1h0M882.6 283.2h0M885.2 281.8h0M884.4 276.4h0M886.3 273.5h0M884.4 272.9h0M885.7 271h0M886.9 266.7h0M893.5 266.8h0M894.3 266.8h0M897 264.9h0M897.2 263.3h0M896.5 264.6h0M898.2 265.6h0M898.2 266.2h0M897.5 269h0M899.1 265.1h0M899.3 266.1h0M900.4 269.6h0M900.4 270.3h0M900.2 267.3h0M903.1 270.3h0M902.8 270.4h0M903.1 269.2h0M904.3 267.8h0M901 268.2h0M900.8 269.2h0M901.6 267.3h0M903 263.4h0M901.5 263.9h0M904.7 265.4h0M906 265.7h0M904.2 262h0M902.7 261.3h0M903.9 258.5h0M906.4 260.3h0M912.3 254.4h0M914.4 257.6h0M913.6 254.1h0M915.5 256.3h0M914.9 258.3h0M915.8 256.7h0M913 256.9h0M911.2 257.3h0M915.9 259.6h0M917 256.5h0M914.6 256.4h0M917.4 256.2h0M916.5 255.3h0M915.4 257.1h0M916.8 257.7h0M913.3 256.8h0M917.1 255.4h0M921.6 256h0M923.6 253.3h0M923.8 254.5h0M920.6 255.5h0M923.3 253.9h0M923.6 256h0M925.5 254.5h0M927.4 256.1h0M924.4 257.3h0M926.2 263h0M925.6 259.4h0M924.9 261h0M925 262.9h0M924.6 260.5h0M924.8 264.7h0M926.8 265.9h0M927.7 268.2h0M928.2 267.8h0M927.1 267.2h0M926.4 268.3h0M927.1 269.5h0M927.9 269.2h0M928.2 266.5h0M932.6 270.2h0M935.9 268.5h0M933.4 270.5h0M933.5 273h0M938.1 276h0M939.2 275.3h0M937.3 278h0M938.4 278.2h0M940.3 278h0M940.5 279.9h0M938.6 280.9h0M936.9 282h0M940 284.8h0M941.4 286.3h0M938.1 287.3h0M938.3 287.6h0M942.7 288.2h0M941.6 287h0M944.2 289.5h0M941.6 292.3h0M945.9 293h0M944.3 294h0M944.2 294.6h0M941.4 295.8h0M944.9 295.1h0M941.6 291.9h0M943.4 296.5h0M943 293.5h0M943.9 296h0M946.1 295.7h0M945.7 295.8h0M946.3 291.4h0M947.6 296.9h0M947.4 291h0M948.5 291.4h0M949.7 292.8h0M950 286.8h0M949.4 287.6h0M953 290.1h0M950.6 287.4h0M952.6 287h0M950.1 286.5h0M953.8 285.2h0M954.9 284h0M952.5 283h0M956.2 280.9h0M954.6 280.5h0M955.3 275.5h0M958.3 279.4h0M957.7 276.4h0M958.6 277.1h0M956 274.4h0M959.6 276h0M958.9 275.4h0M960 273.3h0M958.7 273.1h0M956.3 271.7h0M956.5 271.5h0M957 271.9h0M960.1 271.4h0M958.2 270.4h0M962.6 269.5h0M959.1 267.4h0M962.1 267.4h0M964 267.6h0M963.3 258.6h0M963.7 260h0M963.5 259.3h0M962 259.8h0M966 261.7h0M968.7 259.1h0M969 257.5h0M969.8 256.9h0M969.3 254.7h0M974.2 255.7h0M979.2 256.9h0M975.4 256.2h0M976.3 256.6h0M980 262.8h0M977.2 263.1h0M977 262.5h0M975.2 259.1h0M975.3 263.3h0M979.2 258.7h0M980.3 261.7h0M974.2 259.4h0M976.1 260.1h0M981 266.4h0M978.4 264.6h0M977.2 268.4h0M976.6 269.8h0M981.7 268.2h0M977 271.5h0M977.2 272.2h0M981.2 269.1h0M978.2 270.8h0M978.3 272h0M977.3 267.5h0M977.4 270.6h0M979.5 267.5h0M979.6 271h0M987.9 272.7h0M983.4 273.4h0M988.5 276.7h0M988.4 278.5h0M985.7 277.5h0M988.3 278h0M988.2 279.5h0M988.7 280.3h0M989.4 283.5h0M985.6 281.1h0M987.7 286.7h0M987.1 285.9h0M989.1 282.9h0M987.7 285.8h0M988.3 287.4h0M990.6 283h0M989.5 287h0M991.1 282.8h0M992.5 285.1h0M1003.8 284.1h0M1004.1 283.2h0M1000.2 289.3h0M1001.3 283h0M1001.8 288.1h0M1004.3 282.2h0M1004.9 282.1h0M1013.7 288.1h0M1014.6 286.9h0M1014 294.5h0M1014.4 296.4h0M1022 297.9h0M1014.6 299.2h0M1015.9 298.1h0M1024.9 302.1h0M1016.9 307.6h0M1023.1 308.3h0M1017.9 308.1h0M1017.1 307.9h0M1019.4 311.4h0M1017.8 311.9h0M1018.8 316.8h0M1024.9 319.2h0M1023.9 317.7h0M1027.2 317.8h0M1020.1 321.5h0M1021 312.4h0M1020.7 314.7h0M1022.2 314.6h0M1022.3 318h0M1032.4 321.8h0M1035.1 319.2h0M1031.2 322.7h0M1032.2 321h0M1033.1 324.5h0M1037.8 323.5h0M1035.8 324.2h0M1037.5 322h0M1035.5 324.2h0M1033.9 328.5h0M1036.8 328.8h0M1029.8 322.7h0M1030.5 321.5h0M1031.3 328.1h0M1031.9 317.6h0M1037.6 316.4h0M1033.2 319.4h0M1029.4 314.6h0M1036.1 308.7h0M1035.3 309.3h0M1038.8 313.1h0M1037.8 299.3h0M1035.4 298.6h0M1049.2 301.4h0M1051.7 298.7h0M1054.4 301.4h0M1057.4 299.9h0M1054.7 303.4h0M1056.7 305.8h0M1055.2 309.3h0M1057.3 306h0M1056.8 311.4h0M1059.5 309.1h0M1063.4 320.3h0M1063.6 322.1h0M1070.9 325.5h0M1066.6 327.3h0M1067.7 334.6h0M1068.9 334h0M1070.4 334.7h0M1064 330.3h0M1064.8 329.7h0M1067.2 329.3h0M1067.7 329.9h0M1063.2 329.5h0M1069.6 333.8h0M1065.7 332.8h0M1065.2 330.8h0M1066.5 325.8h0M1065.3 325.7h0M1071 319.7h0M1068.3 315.3h0M1076.5 315.7h0M1077 314.2h0M1075.5 312h0M1076.7 315.4h0M1085.3 309.1h0M1082.2 313.1h0M1089.2 309.6h0M1088.7 314.1h0M1090.6 314.2h0M1097.6 319.3h0M1093.5 323.7h0M1091.1 320.7h0M1098.4 326.5h0M1096.8 327.1h0M1097.5 328.9h0M1095 325.4h0M1091.5 324.9h0M1095.4 331.7h0M1100.4 335.6h0M1095 335.7h0M1095.7 337.4h0M1096.1 338h0M1093.5 333.9h0M1094.8 339.5h0M1105.6 342h0M1106.5 341.7h0M1103.6 342.5h0M1111.5 341.1h0M1111 343.2h0M1114.3 344.4h0M1109 343.5h0M1107.7 349.5h0M1108.2 347.8h0M1110 347.3h0M1112.4 340.4h0M1117 343.8h0M1115.6 339.9h0M1117.6 342.9h0M1121.5 338.8h0M1117.4 335.8h0M1120 336.8h0M1126.9 337.4h0M1126.7 335.6h0M1132.8 333.4h0M1136.9 331.2h0M1130.1 328.5h0M1132.6 330h0M1131.1 333h0M1132.5 334.5h0M1140.8 331.8h0M1141.7 333.1h0M1143.5 333.8h0M1145.7 331.7h0M1147.9 333.1h0M1149.3 331.6h0M1149.1 336.2h0M1155.8 338.4h0M1158.9 335.3h0M1159.8 343.7h0M1162.9 337.5h0M1164.5 337.6h0M1168.3 338.7h0M1168 341.1h0M1168.6 341.1h0M1171 342.2h0M1187 345.2h0M1188 346.1h0M1183.4 354.3h0M1183.7 354h0M1188.6 352h0M1189.1 353.2h0M1189.6 352.5h0M1190.3 353.5h0M1187.9 353.8h0M1189.3 354.6h0M1191.7 353.9h0M1192.7 351.4h0M1193.5 351.5h0M1192 353.7h0M1192.4 356.9h0M1189.7 355.7h0M1192.3 354.3h0M1194.2 348.3h0M1197.5 346.1h0M1202 344.2h0M1206.4 340.3h0M1203.1 351.1h0M1210.4 348h0M1205.9 348h0M1208.1 346h0M1207.9 346.5h0M1210.1 353.7h0M1214.3 349.6h0M1216.1 354.4h0M1220.4 350.6h0M1223.6 348.7h0M1225.7 348.2h0M1226.2 351.3h0M1226.9 356.4h0M1232.2 356.6h0M1241.8 357.7h0M1242.8 358.4h0M1243.3 360.6h0M1240.2 366.9h0M1240.2 360.1h0M1242.7 364h0M1244.3 361.7h0M1245.1 365.4h0M1249.5 356.7h0M1247.9 354.6h0M1251.3 356.2h0M1256 359.7h0M1254 354.4h0M1256.8 353.2h0M1258 354h0M1261.5 352.6h0M1258.6 350.2h0M1265.3 344.6h0M1268 346h0M1269.6 340.4h0M1273.2 342.7h0M1273.8 345.1h0M1275.1 345.9h0M1277.2 344.2h0M1287.2 344.6h0M1287.5 344.9h0M1286.5 350h0M1290 352.2h0M1295.4 345.2h0M1294.9 347.1h0M1292.3 345.9h0M1293.1 350.1h0M1293 345.3h0M1292.8 352.2h0M1295.8 346.1h0M1295.4 352.2h0M1290 347h0M1297.6 352.4h0M1293.1 347.2h0M1298 352h0M1298.9 349.1h0M1305.1 347.2h0M1312.8 340.2h0M1313.5 341.1h0M1313.5 344.7h0M1314.8 346.3h0M1320.6 353.5h0M1325.9 349.3h0M1324.1 350.9h0M1323.2 354.1h0M1323.5 354.1h0M1325.6 353.1h0M1327 352.5h0M1325.2 349.5h0M1327.2 357.5h0M1328.2 357.1h0M1327.1 353.3h0M1327.7 352.7h0M1324.8 349.5h0M1326.5 352.3h0M1329.4 356.2h0M1328.2 352.5h0M1331.1 351.8h0M1334.4 348.2h0M1337.5 350.2h0M1335.1 342.6h0M1338.1 341.8h0M1339.5 337.5h0M1347.9 339.4h0M1346.5 334.5h0M1348.2 336.7h0M1349.5 340.2h0M1352.8 338.9h0M1359.9 335.8h0M1362.1 336.5h0M1362.3 335.7h0M1363.1 337.3h0M1362.6 337.5h0M1362.3 339.4h0M1363.1 335.1h0M1364.2 340.8h0M1363.7 342.9h0M1368.3 344.1h0M1370.3 337.6h0M1369.6 338.2h0M1374 343.7h0M1372.4 341h0M1375.6 339h0M1376.4 332.6h0M1390.4 333.4h0M1392.8 337.1h0M1402.3 334h0M1402.3 338.2h0M1404.4 332.9h0M1407.1 335.8h0M1408.4 339.5h0M1407 332.6h0M1409.4 331.9h0M1414.3 330.7h0M1416 335.1h0M1418.3 336.5h0M1416.2 330h0M1419.7 337.1h0M1420.9 327.7h0M1423.3 327.7h0M1424.1 331h0M1427.5 332.9h0M1427 334.5h0M1432.9 339h0M1434.1 340.4h0M1437.2 336.7h0M1441.3 334.2h0M1441 340.6h0M1444 349.5h0M1437.8 349h0M1439.1 350.1h0M1440.5 353.2h0M1443.8 350h0M1440.7 351.6h0M1443.3 354.3h0M1438.9 357.9h0M1439.1 352.1h0M1442.2 352.4h0M1444.4 352.3h0M1440.6 355.9h0M1437.9 344.8h0M1453.4 337.9h0M1453.3 341.6h0M1455.7 347.1h0M1459.1 346.7h0M1459.3 339.7h0M1459.7 345.4h0M1461.1 343.6h0M1460.7 341.5h0M1461.3 342.8h0M127.5 232.5h0M126.8 239h0M137.2 360.1h0M137.6 366.2h0M137 371.6h0M138 375.2h0M164.2 375.1h0M164.9 379.2h0M181.3 376.4h0M188.8 358.1h0M268.1 292.1h0M361.9 220h0M362.5 223h0M362.3 229.2h0M362 233.6h0M361.6 237.5h0M361.5 240.7h0M362.1 244.3h0M362.4 249.8h0M362.5 256.2h0M357.5 371.4h0M357.2 377.4h0M330.2 367.6h0M417.6 350.1h0M417.6 354.7h0M418.4 361.2h0M418.2 365.6h0M417.3 370.9h0M417.3 374.1h0M417.2 379.8h0M417 385.8h0M418.4 391.7h0M418.1 395.5h0M417.6 398.6h0M418.2 403.6h0M418 408h0M417.4 413.7h0M417.9 420.1h0M417.6 425.2h0M417.7 428.5h0M417.4 432.3h0M417.5 435.8h0M365.8 380.1h0M364.6 384.6h0M365.5 389.1h0M364.5 392.6h0M464 371.4h0M288 410.1h0M463.8 371.4h0M472.9 360.1h0M472.4 364.8h0M606.4 189.5h0M605.7 194.3h0M606.4 198.9h0M607 203.4h0M597.6 230h0M592.1 248h0M632.6 198.8h0M646.6 193.8h0M647.2 198.8h0M637.6 208.8h0M688.9 240h0M694.7 238h0M689.7 312.1h0M772.7 306.3h0M779 296.3h0M747.7 322.6h0M737.2 326.3h0M713.2 324.6h0M575.1 362.6h0M584.6 345.1h0M571.3 384.6h0M548.8 402.7h0M1013.9 60h0M1013.9 64.3h0M1013.9 69h0M1014.4 88.8h0M1014.4 92.8h0M1014.4 103.3h0M1014.4 118h0M927 147.6h0M926.8 152.5h0M927 158.8h0M926 164.3h0M830 252.1h0M893.8 188.8h0M905.1 185.1h0M935.1 165.1h0M986.4 138.1h0M1001.4 167.6h0M1028.9 186.3h0M1046.4 145.6h0M1053.2 172.6h0M1062.4 155.1h0M1062.2 160.5h0M1061.8 164.8h0M1079.4 165.1h0M1080 170.6h0M1079.4 175.8h0M1081.5 195.1h0M1100.1 182.6h0M1100.8 186.6h0M1099.6 192h0M1094 210.1h0M1119.8 193.8h0M1120.6 198h0M1120.6 201.6h0M1119.9 206.3h0M1134.2 203.9h0M1134.3 207h0M1133.9 212.8h0M1134.1 216.2h0M1134.6 221.4h0M1107.7 212.6h0M1071.4 208.1h0M821.3 393.9h0M828.3 398.9h0M926.3 298.8h0M926 315.1h0M925.8 321h0M940.1 297h0M1064.4 362.6h0M1092.2 357.6h0M1097.2 352.6h0M1109.5 380.1h0M1115.2 364.6h0M1132.2 396.4h0M1132.9 401.9h0M1143.4 352.6h0M1143.8 357.6h0M1036.4 337.6h0M1032.7 332.6h0M1020.2 326.3h0M902.6 275.5h0M873.8 283h0M795 316.3h0M782.5 297h0M1120.5 195h0M1120.5 206.3h0M1108 213.8h0M1110.5 223h0M1134.3 203.8h0M1134.3 216.3h0M1134.3 222.5h0M1156.8 203.8h0M1155.5 210h0M1155.5 223.8h0M1176.8 218.8h0M1175.5 223.8h0M1183.1 221.3h0M1188.1 221.3h0M1204.3 230.1h0M1208.1 231.3h0M1221.8 230.1h0M1228.1 236.3h0M1238.1 216.3h0M1235.6 223.8h0M1252.4 203h0M1252.4 220.5h0M1252.4 228.8h0M1261.9 217h0M1262.4 223.3h0M1275.6 203h0M1280.6 193.3h0M1282.4 211.3h0M1280.6 216.3h0M1282.4 223.3h0M1275.6 229.6h0M1290.6 227.6h0M1298.1 208.3h0M1298.1 212.5h0M1298.1 235.1h0M1318.6 204.3h0M1318.6 227.6h0M1345.7 233.1h0M1372.4 227.1h0M1372.4 231.3h0M1372.4 238.1h0M1384.4 237.1h0M1384.4 249.3h0M1399.5 243.1h0M1399.5 246.3h0M1421.2 266.8h0M1432.5 266.3h0M1432.5 272.6h0M1432.5 280.1h0M1443.2 285.1h0M1443.2 288.8h0M1109.3 380.2h0M1109.3 353.9h0M1114.3 362.6h0M1115.5 363.9h0M1132.3 347.6h0M1132.3 396.4h0M1132.3 405.2h0M1144.3 352.6h0M1144.3 357.1h0M1151.8 345.1h0M1158.5 356.4h0M1159.3 365.1h0M1164.3 357.6h0M1174.3 356.4h0M1193.1 366.4h0M1195.6 375.2h0M1195.6 391.4h0M1195.6 400.2h0M1195.6 428.9h0M1215.6 383.9h0M1215.6 390.2h0M1218.1 379.7h0M1224.3 379.7h0M1224.3 391.4h0M1224.3 412.7h0M1224.3 416.4h0M1233.1 367.6h0M1235.6 395.2h0M1235.6 406.4h0M1241.3 362.6h0M1241.3 371.4h0M1241.3 386.4h0M1244.3 378.9h0M1244.3 391.4h0M1254.4 371.4h0M1254.4 382.7h0M1254.4 392.2h0M1254.4 398.9h0M1254.4 405.2h0M1260.6 351.4h0M1260.6 360.1h0M1279.4 363.1h0M1286.9 361.4h0M1286.9 366.9h0M1300.6 358.9h0M1300.6 368.1h0M1300.6 376.4h0M1300.6 405.2h0M1307.6 356.4h0M1315.6 357.1h0M1324.4 361.4h0M1324.4 376.4h0M1324.4 393.2h0M1331.2 361.4h0M1331.2 370.1h0M1331.2 376.4h0M1338.2 357.6h0M1338.2 367.6h0M1338.2 383.9h0M1338.2 388.2h0M1344.4 353.9h0M1353.2 348.9h0M1356.2 355.6h0M1359.4 365.1h0M1359.4 368.9h0M1359.4 377.2h0M1385.2 356.4h0M1397.5 352.1h0M1397.5 370.1h0M1397.5 374.7h0M1397.5 380.2h0M1403.2 353.1h0M1443.2 362.6h0M1443.2 367.1h0M1458.2 350.1h0M1000 169.7h0M1001 173.4h0M1001 290.8h0M1002 292.6h0M1007 171.8h0M1007 292.3h0M1008 156h0M1009 170.8h0M1009 292.4h0M1010 155.5h0M1013 156.3h0M1014 139.8h0M1015 144.8h0M1016 138.7h0M1020 320.4h0M1023 198.2h0M1023 328.2h0M1024 202.1h0M1027 205.7h0M1031 203.6h0M1031 332.6h0M1036 212.2h0M1036 363.3h0M1037 328.2h0M1038 192.3h0M1039 215h0M1045 162.1h0M1048 307.6h0M1052 317.5h0M1056 178.1h0M1059 185.6h0M1060 171.7h0M1064 336h0M1066 188.8h0M1068 336.8h0M1069 203.6h0M1069 336.3h0M1073 216.2h0M1078 199.7h0M1080 209.9h0M1081 313.8h0M1086 317.8h0M1089 223.1h0M1090 225.9h0M1091 221.6h0M1093 211.1h0M1094 204.1h0M1094 340.1h0M1097 338.8h0M1099 210.6h0M1099 371.7h0M1102 208.1h0M1105 369.4h0M1108 220.2h0M1110 221.4h0M1110 348.1h0M1111 348.9h0M1112 351.6h0M1113 354.2h0M1116 228.9h0M1117 347.4h0M1118 228h0M1118 349.5h0M1119 227.2h0M1123 352.2h0M1125 230.5h0M1127 237h0M1129 234.6h0M1130 225.3h0M1130 337.1h0M1137 333.1h0M1139 222.7h0M1146 219.6h0M1146 336.2h0M1148 227.9h0M1149 223.3h0M1151 231.1h0M1154 350h0M1155 344.5h0M1158 234h0M1159 227.7h0M1162 238.1h0M1165 249.8h0M1165 357.8h0M1169 233.8h0M1173 217.4h0M1175 221.9h0M1176 349.3h0M1178 387.7h0M1183 211.4h0M1183 355.7h0M1185 222h0M1192 230.5h0M1192 372.6h0M1197 238.2h0M1198 237.1h0M1198 350h0M1199 344.8h0M1204 368.7h0M1213 359.8h0M1217 232.1h0M1218 356h0M1220 363.1h0M1233 249.1h0M1235 247.4h0M1240 241.5h0M1242 378.4h0M1243 386h0M1244 233.5h0M1245 238.2h0M1251 236h0M1252 239h0M1254 223.6h0M1257 239.2h0M1261 353.8h0M1265 371.9h0M1268 359.9h0M1269 239.4h0M1269 350.6h0M1271 236.6h0M1273 347.8h0M1274 351.8h0M1275 376h0M1286 352.4h0M1289 234.2h0M1290 363.3h0M1292 237.3h0M1293 223h0M1294 243.8h0M1296 235h0M1301 242h0M1301 348.1h0M1305 234.9h0M1306 349.8h0M1308 346h0M1310 226h0M1313 247.4h0M1316 350.5h0M1320 358h0M1323 381.4h0M1325 357.3h0M1332 356.5h0M1334 368.8h0M1335 352.6h0M1336 239.1h0M1337 349h0M1339 243.9h0M1341 345.8h0M1347 245h0M1348 246.7h0M1349 228.1h0M1350 346.9h0M1351 342.7h0M1352 245.7h0M1352 343.1h0M1355 344.7h0M1356 341.6h0M1357 244.6h0M1359 245.6h0M1360 233.4h0M1360 345.9h0M1361 342.8h0M1363 240.5h0M1368 348h0M1370 246.8h0M1370 348.3h0M1372 245.4h0M1373 239.5h0M1375 248.6h0M1379 375.8h0M1385 248.7h0M1386 359.5h0M1389 247.8h0M1394 344.7h0M1395 248.9h0M1399 253.1h0M1403 249.4h0M1403 350.7h0M1405 344.8h0M1410 263h0M1412 344.4h0M1414 266.5h0M1416 349.1h0M1421 264.8h0M1422 254.5h0M1424 267.8h0M1426 341.3h0M1428 275.3h0M1430 274.7h0M1432 353.8h0M1435 277.9h0M1435 347.1h0M1442 359.9h0M1443 280.4h0M1446 293h0M1448 350.1h0M1450 294.8h0M1451 350.5h0M1454 290h0M1458 361.3h0M1461 275.6h0M843 255.2h0M851 255.5h0M854 245.4h0M862 271.8h0M866 251.9h0M875 207h0M884 213.5h0M884 285.5h0M886 206h0M894 183.4h0M897 194.2h0M898 199.2h0M912 258.8h0M913 172.3h0M920 254.1h0M929 273.2h0M930 269.7h0M933 272.1h0M943 318.7h0M945 169.9h0M949 178.9h0M961 152.5h0M963 277.2h0M964 159.6h0M979 110.3h0M980 277.2h0M986 288.3h0M992 200.8h0M992 290.2h0M537.2 461h0M545.6 417.3h0M529.6 401.8h0M503.5 400.3h0M510.5 439.4h0M538.2 411.7h0M506.6 438.1h0M505.6 426.7h0M511.4 392.5h0M507.1 398.9h0M500.9 423h0M499.4 414.2h0M518.4 418h0M506.9 418.6h0M539.6 410.4h0M526.3 413.3h0M505.2 400.7h0M501.1 393h0M516.4 430.6h0M547 397.9h0M500.4 416.5h0M512 443.7h0M545.9 394.8h0M543 409.1h0M512.7 427.4h0M541.9 400.9h0M518.7 471.8h0M531.9 419.9h0M541.2 396.7h0M510.7 397.7h0M490.7 401.5h0M518.5 409.2h0M515.5 408.6h0M532.8 466.7h0M520 469.3h0M542.4 394.3h0M501 407h0M541.8 442.4h0M508.3 429.8h0M542.2 440.5h0M499 435.1h0M503.4 412.8h0M500.6 435.5h0M531 440h0M520 484.3h0M519.6 430.1h0M538.6 423.8h0M536.1 444.1h0M535.7 401.9h0M534.3 429.4h0M517.3 403.8h0M537.8 407.5h0M506.7 435.3h0M515.6 395.5h0M523 487.1h0M503 398.8h0M546.6 425.6h0M493.9 430.9h0M513.1 435.3h0M528 483.2h0M512.1 427.8h0M509.1 416.8h0M537.2 431.3h0M503 420.1h0M515.8 404.8h0M519.1 443.5h0M529.1 409.3h0M533.1 396.9h0M542.1 410h0M513.1 431h0M503.5 392h0M507.8 399h0M545.9 407.5h0M531.1 421.3h0M500.1 427.3h0M533.2 439.1h0M533.9 432.6h0M523.8 449.1h0M525.9 407.3h0M529 399.5h0M505.4 409.1h0M504.8 400.1h0M540.3 423.2h0M523.6 438.7h0M512.6 408h0M524.8 466.4h0M532.1 430.9h0M524.9 429.9h0M544.4 392.9h0M517.4 420.4h0M534.8 442.3h0M540.7 394.1h0M505.5 441.8h0M524.4 399h0M502.3 439.2h0M543.9 426.8h0M492.7 398.4h0M525 420.9h0M509.3 419.6h0M498.4 401.8h0M523.7 480.8h0M512.8 409.1h0M514.8 438.1h0M535.4 456.5h0M513.5 417.2h0M525.2 467.2h0M507.6 428.9h0M513.8 429.7h0M528.8 424.7h0M530.5 436.9h0M541 392.6h0M537.8 413.5h0M526.5 434.2h0M533.9 449h0M500.3 428h0M523.7 397h0M523.7 434.3h0M502.9 419.3h0M541.6 409.7h0M533.8 438.8h0M523.4 488.1h0M507.4 403.8h0M524.2 463.7h0M535.5 454.3h0M510.3 416.6h0M527.3 404.2h0M510.7 404.2h0M527.2 412.8h0M516.9 449.6h0M543.2 436.5h0M507.2 414.7h0M525.1 445.1h0M494.4 395.9h0M526.8 424h0M541.8 402.2h0M509.9 438.7h0M506 443.7h0M541.9 452.8h0M527.3 400.2h0M533.4 446.4h0M540.4 409.1h0M528.8 414.1h0M517.9 467.2h0M533.7 417.9h0M514.9 400.6h0M548.5 399.1h0M546.3 408.7h0M513.6 437.8h0M545.2 450.9h0M522.9 428h0M533.7 450.1h0M512.8 407.6h0M513.4 440.5h0M513.8 397.4h0M500.2 421.8h0M511 402.2h0M505.7 418.3h0M527.3 407.7h0M539.6 394.6h0M498.2 419.5h0M547.3 429.2h0M506.4 417.2h0M526.5 452.1h0M523.2 452.6h0M534.3 412.9h0M507.3 397.1h0M530.9 436.6h0M531.5 432.8h0M518.7 447h0M537.4 412.1h0M528.2 401.1h0M512.9 452.5h0M546.8 401.6h0M512.8 436.5h0M500.8 394.3h0M516.7 396.2h0M515.2 413.5h0M521.1 408.3h0M525.7 398.2h0M530.4 465h0M498.8 394h0M498.8 408.8h0M502.6 413.6h0M519.9 450.8h0M518 433.2h0M542.7 455.2h0M527.4 393.7h0M529.4 441.1h0M546.1 439.3h0M541.5 401h0M535.4 403.4h0M544.3 422.6h0M499.5 429.6h0M515.8 411.3h0M491.7 410h0M505.1 398.1h0M491.5 395.2h0M506.4 428.3h0M545.8 404.3h0M535.1 452.1h0M520.4 395.6h0M531.1 393.8h0M500.8 411.3h0M503.2 403.5h0M535.2 451.5h0M502.5 431h0M534.4 454.9h0M541.3 416.2h0M543.9 419.3h0M538 442.6h0M542.5 417h0M539.9 427.7h0M526 427.7h0M521 410.2h0M503 404.6h0M515 418.6h0M505.5 435.8h0M503 441.5h0M516.7 439.5h0M526 418.1h0M512 413.6h0M524.3 422.6h0M497.4 422.4h0M547.6 406.4h0M497 431.7h0M536.8 440.8h0M537.1 412.5h0M528.4 394.5h0M541 412.7h0M520.7 433.5h0M534 470.5h0M508.2 425.7h0M523.9 419.9h0M512.7 414h0M504.8 425.5h0M534.8 406.6h0M536.2 399.6h0M495 415.8h0M498.7 408.1h0M502.4 435h0M538.9 394.9h0M535.5 418h0M528.7 398.9h0M532.8 421.4h0M493.5 396.1h0M535.3 435h0M523.7 453.7h0M504.3 414.6h0M507 418.3h0M525 436h0M542.7 393.3h0M519.2 418.7h0M512.9 414.5h0M525.9 486.2h0M518.5 438.2h0M532.5 480.1h0M535.9 392.6h0M505 431.7h0M499.9 408h0M524 470.5h0M503.8 422.8h0M496.8 399.3h0M508.8 394h0M522.8 430.9h0M536.7 453.2h0M491.1 399.9h0M540.1 438.1h0M527.9 402.2h0M518.8 396.6h0M525.4 456.1h0M544.1 442.3h0M544.7 398.6h0M500 396.4h0M541.6 426h0M508.9 415.2h0M496.8 410.2h0M516.8 403.3h0M501.9 400.2h0M545.6 442.9h0M531.4 401.2h0M510.4 447.7h0M510.8 417.9h0M533.3 458.6h0M538.2 411.7h0M513.7 394.2h0M518.2 419.8h0M546.9 427.4h0M514.5 456.8h0M499 410.7h0M528.2 400.2h0M491 401.8h0M510.6 439.4h0M503.8 405.9h0M520.8 403.5h0M531.1 420.7h0M511.7 412.5h0M502.1 423.1h0M527.3 426.1h0M515.3 449h0M534.7 408.5h0M542.9 454.1h0M515.4 403.3h0M539.2 418.2h0M537.2 416.4h0M544.1 425.7h0M508.8 443.7h0M535.9 450.1h0M546.9 405.1h0M542.1 404.9h0M538.6 460.3h0M524.8 467.8h0M501 403.9h0M531.6 419.4h0M523.9 415.6h0M516.6 419.1h0M500.5 404.6h0M529.2 466.8h0M507.5 436.9h0M512.7 408h0M514.8 437.5h0M531.6 396.8h0M525.2 473.1h0M522.9 470.6h0M509.6 413h0M492.8 429.3h0M532 409.2h0M514.9 450.9h0M490.7 420.3h0M517 402.4h0M517.1 406.2h0M516.3 425.6h0M524.2 466.6h0M517.7 449.1h0M493.8 425.7h0M523.5 415.8h0M518.8 460h0M538.9 428.8h0M547.3 403.9h0M495 407.1h0M532.4 472.2h0M509.7 432.9h0M521.1 400.3h0M516.4 450.6h0M547.4 408.7h0M507.6 418.9h0M521.2 471.8h0M522.5 477.6h0M542.9 452.7h0M517.7 466.3h0M523.7 483.6h0M532.1 400.8h0M520.1 428.4h0M515.6 449.5h0M513.5 459.6h0M501.1 416.5h0M539.3 449.1h0M500.3 402.3h0M532.2 409.3h0M542.9 452h0M520.1 432.5h0M523.1 425.3h0M546.8 399.6h0M501.9 409.7h0M510.7 397.2h0M546.7 434.2h0M503.8 431.5h0M525.6 477h0M523.3 460.4h0M511 440.7h0M505.9 425h0M536.6 404.6h0M494.8 398.9h0M536.4 444.2h0M500.5 410.8h0M524.8 454.5h0M509.6 442.3h0M527.4 421h0M509.3 417.1h0M535.3 422.6h0M526.7 433.4h0M518.5 440.8h0M506.5 409.5h0M506.4 432.6h0M528.7 408h0M541.7 421.1h0M540.8 446.6h0M513.9 393.1h0M499.7 433h0M494.5 395h0M526.4 432.1h0M530.1 464.8h0M545 451.5h0M534.3 419.7h0M505.7 406.5h0M533.1 466h0M518.7 475.8h0M523.2 478.4h0M519.2 436.6h0M503.2 404.2h0M498 424.1h0M548.4 395.8h0M515.4 457.2h0M515.6 436.8h0M534.1 401h0M544.9 443.1h0M509.6 444.9h0M532.2 396.8h0M533.4 412.6h0M510.3 447.3h0M524.3 403.3h0M537.8 438.5h0M536.3 418.6h0M533.8 395h0M520.2 392.9h0M520.8 410.8h0M511 407.4h0M526.2 445.4h0M510.5 410.2h0M505.2 409.1h0M523 398.5h0M502.5 431.1h0M525.1 425.3h0M534.1 412.8h0M528.2 459.4h0M513.7 392.7h0M535.4 407h0M536 429.9h0M528 444h0M533.1 399.2h0M518.9 448.2h0M528.1 417.2h0M518.8 412.1h0M537 466.3h0M522.9 422.3h0M125.6 258.9h0M126 263.1h0M223.8 281.5h0M224.8 285.8h0M292.8 317.7h0M291.9 319.8h0M345.6 260.2h0M345.3 263.1h0M363.2 260.2h0M363.6 263.6h0M360 265.2h0M411.3 267.7h0M409.7 270.5h0M407.7 272.4h0M480.1 284h0M481.9 287.9h0M547.5 255.2h0M544.6 257.3h0M548.7 259.4h0M604.3 207.7h0M605.6 211.1h0M604.9 213.4h0M606.4 216.2h0M607.2 219.6h0M603 224.1h0M671.6 227.7h0M670.3 232h0M669.4 234h0M672.8 237.6h0M668.7 239.2h0M689 242.7h0M689.3 245h0M690.5 247.5h0M693.4 240.2h0M695.8 243.9h0M695.8 246.2h0M693.3 248.9h0M717.3 270.2h0M719.3 274.4h0M765.8 237.7h0M766.6 240.9h0M775.4 230.2h0M775.1 233.8h0M773.7 236.5h0M892.8 191.5h0M892.2 195h0M890.6 197.5h0M916 170.2h0M913.5 174.2h0M947.1 177.7h0M977.5 105.2h0M978.3 109.1h0M1015.4 137.7h0M1015.1 139.6h0M1014.1 141.3h0M1014.8 145h0M1012.3 148h0M1012.8 151.7h0M1029.8 189h0M1029.4 191.9h0M1029.4 194.6h0M1027.3 196.4h0M1029.9 198.3h0M1027.3 200.4h0M1027.9 203.8h0M1045 147.7h0M1045.7 149.6h0M1044.6 151.8h0M1047.4 153.4h0M1046.6 156.7h0M1048.6 160.9h0M1063 157.7h0M1062 160.7h0M1062 162.7h0M1061.7 166h0M1060.7 170.4h0M1062.5 174.6h0M1060.9 177.2h0M1060.2 179h0M1060.9 180.7h0M1059.9 184.8h0M1079.6 197.7h0M1079.1 200.3h0M1079.3 201.9h0M1081.9 204.5h0M1078.9 208.9h0M1100.4 185.2h0M1101.2 187.2h0M1100.2 189.9h0M1099.4 193.5h0M1099.3 196.5h0M1099.6 198.7h0M1100.9 203h0M1099.4 205.7h0M1098.2 208.4h0M1107.4 215.3h0M1106.2 218.2h0M1107.8 222.4h0M1119.6 196.5h0M1120.5 198.8h0M1120.9 201.5h0M1121.2 204.8h0M1118.7 208.7h0M1118.8 213h0M1120.4 215.5h0M1119.3 219.7h0M1118.2 221.3h0M1118.5 225.2h0M1121.4 228.7h0M1135.4 206.5h0M1135.3 208.7h0M1133.6 211.4h0M1133.4 213.9h0M1132.2 218.4h0M1135.7 222.5h0M1132.7 225.7h0M1152.1 227.7h0M1148 231.7h0M1362.2 242.7h0M1360.8 244.3h0M1398.7 247.7h0M1401.9 250.4h0M1434.3 270.2h0M1431.7 273.8h0M1434 275.8h0M136.3 367.5h0M138.8 365.8h0M139.8 362.1h0M150.4 376.2h0M151.9 374.3h0M163.2 377.5h0M163.3 373.4h0M163.3 369h0M181.3 357.5h0M180.4 354.5h0M184 350.1h0M188.8 355h0M190 351.6h0M190.9 349.3h0M201 350h0M199.1 346.5h0M262.1 348.7h0M264.6 346.4h0M300.4 493.8h0M304.8 491.2h0M320.4 395h0M320.8 392h0M318.5 388.9h0M337.5 403.7h0M337.7 402h0M337.2 398.7h0M338.8 396.5h0M337 393.1h0M337.3 389.2h0M335.9 386.3h0M336.9 383.9h0M336 379.9h0M357.2 375h0M356.6 371.2h0M356.8 368.3h0M359.5 364.6h0M358.8 360.2h0M359.2 358.7h0M365.7 395h0M364.3 391.3h0M364.3 387h0M363.6 383h0M364.2 381.3h0M364.3 379.5h0M367.2 377.5h0M367.5 373.7h0M386.7 403.7h0M386.2 402.1h0M386.5 399.8h0M388.5 397.4h0M387.6 393.8h0M385.7 391h0M418.1 372.5h0M419.7 368.5h0M416.9 365.4h0M417.7 361.9h0M416.3 357.6h0M420.1 354h0M473.3 365h0M473.4 362.8h0M472.8 358.8h0M475.1 355.5h0M472.6 353.5h0M562.1 385h0M562.9 383.2h0M565.9 379.1h0M583.3 345h0M584.5 341.7h0M673.2 307.4h0M675.4 303.3h0M687.7 309.9h0M690.1 308.3h0M686.5 305.3h0M713.2 322.4h0M713.5 318.3h0M737.3 323.7h0M738.2 320.8h0M736.2 318.5h0M739 314.9h0M735.3 311.3h0M746.3 319.9h0M749 315.9h0M746.7 314.3h0M749.4 310.2h0M764.6 307.4h0M764.8 304.2h0M765.3 302.7h0M764.5 300.1h0M841.5 337.4h0M843.2 335.1h0M842.9 331.7h0M883.9 287.4h0M887.5 283.3h0M903.9 273.6h0M901 270.9h0M916.2 262.4h0M915.2 259.1h0M924.7 272.4h0M926.8 270.8h0M947.5 301.2h0M947.2 298.2h0M978.2 287.4h0M980.2 283.4h0M979.3 281.5h0M979.8 278.1h0M978 275.2h0M977.5 272.6h0M1035.4 334.9h0M1036.7 332h0M1036.7 327.8h0M1064.9 338.7h0M1063.6 337h0M1065.5 333.9h0M1093.1 344.9h0M1094.4 342.5h0M1091.3 338.2h0M1132.5 344.9h0M1132.3 340.8h0M1131.9 336.7h0M1192.7 362.5h0M1191.6 360.7h0M1443.2 365h0M1444 361.4h0M1440.7 359.4h0M1440.2 357.4h0" fill="none" stroke="#1f77b4" stroke-width="5.30" stroke-linecap="round"/>
<path d="M115.5,290.1 117.5,285.1 119.4,289.3 121.3,293.8 123.1,289.3 125,281.3 127,282.6 130,297.6 132.5,307.6 135,322.6 137.5,330.1 139.4,331 141.3,328.8 143.2,330.1 145,330.1 147.5,340.1 150,360.1 151.8,365.1 153.8,350.1 155.7,341.8 157.5,330.1 159.4,333.1 161.3,336.3 164.3,342.6 166.3,310.1 168.2,314.4 170,322.6 171.9,316.9 173.8,312.6 175.4,313 177.1,312.6 179.2,318.3 181.3,322.6 183,319.5 184.6,319.1 186.3,315.1 188.2,319.6 190.1,321.3 191.7,321.6 193.4,321.5 195.1,322.6 196.7,320.8 198.4,325.4 200.1,325.1 201.7,324.1 203.4,323.5 205.1,323.8 206.7,322.4 208.4,323.6 210.1,322.6 211.7,322.2 213.4,323.5 215.1,323.8 216.7,326.5 218.4,328.5 220.1,327.6 222,312.6 223.8,296.3 226.3,322.6 228.2,319.9 230.1,323.8 232,325 233.8,327.6 235.7,324.4 237.6,322.6 239.3,323.3 240.9,321.2 242.6,322.6 244.5,319.2 246.3,310.1 248,303.4 249.6,297.6 251.4,302 253.1,307.6 254.7,311 256.4,315.1 258.2,314.9 260.1,317.6 262,316.7 263.9,318.8 266,314.1 268.1,310.1 270.4,311.5 272.6,310.1 274.5,311.5 276.4,313.8 278.2,314.7 280.1,315.1 282,320.3 283.9,327.6 285.8,342.6 287.6,355.1 289.5,368.4 291.4,380.1 293.9,342.6 296.4,400.1 298.9,432.7 301.4,448.9 303.1,375.1 305.6,420.1 307.3,409.4 308.9,400.1 311.4,350.1 313.3,345 315.1,340.1 318.1,328.8 319.8,337.6 321.4,345.1 323.3,322.1 325.2,300.1 327,302.6 328.9,305.1 331.4,330.1 333.9,288.8 335.8,315.1 337.7,340.1 340.7,292.6 342.9,289.9 345.2,291.3 347,292 348.9,292.6 350.8,291.8 352.7,290.1 354.3,286.4 356,286.8 357.7,282.6 359.9,271 362.2,260 365.2,282.6 367.1,281.4 368.9,287.6 370.8,292.5 372.7,297.6 374.6,308.6 376.4,317.6 378.3,312.8 380.2,307.6 382.1,306.5 383.9,305.1 385.6,339.3 387.2,372.6 390.2,350.1 392.1,332.8 393.9,320.1 395.8,312.9 397.7,310.1 399.6,306.2 401.5,305.1 403.3,303.3 405.2,302.6 406.9,300.3 408.5,296.5 410.2,292.6 412.1,293.6 414,295.1 415.8,313.7 417.7,327.6 420.2,330.1 422.1,318.6 424,307.6 425.8,309.9 427.7,310.1 429.6,301.9 431.5,295.1 433.4,291.8 435.2,290.1 436.9,287.3 438.6,280.3 440.2,280.1 442.1,279.8 444,277.6 445.9,283.7 447.7,287.6 449.6,292.2 451.5,295.1 453.4,293.2 455.2,292.6 457.1,299 459,302.6 460.9,309.9 462.7,317.6 465.2,330.1 467,328.4 468.8,325.1 470.6,329.3 472.5,330.1 474.4,327.9 476.3,327.6 477.9,323.7 479.6,320.1 481.3,317.6 483.2,315.8 485,316.3 486.9,312.9 488.8,305.1 491.3,302.6 493.8,315.1 496.3,335.1 498.2,344.3 500,352.6 501.9,347.4 503.8,345.1 505.7,352.9 507.5,362.6 509.4,357 511.3,355.1 513.3,380.1 516.3,342.6 518.2,337.3 520.1,332.6 521.9,336.6 523.8,342.6 525.7,334.7 527.6,327.6 529.4,316.2 531.3,305.1 533.2,313.1 535.1,320.1 536.9,314.8 538.8,305.1 541.3,280.1 543.8,370.1 546.3,252.5 548.8,320.1 551.3,280.1 553.2,275.3 555.1,270.1 557.6,287.6 560.1,270.1 562.6,332.6 565.1,290.1 567.6,292.6 569.5,307.2 571.3,322.6 573.2,302.5 575.1,280.1 577,289 578.8,297.6 580.7,285.7 582.6,275.1 584.5,283.7 586.3,292.6 588.2,286.9 590.1,280.1 592,276.3 593.9,275.1 595.7,270 597.6,267.6 599.5,265.2 601.4,260.1 603.2,258 605.1,256.3 607,261.6 608.9,267.6 610.7,262.3 612.6,260.1 614.5,268.3 616.4,272.6 618.2,266.2 620.1,260.1 622,262.2 623.9,265.1 625.8,276.6 627.6,290.1 629.5,284.2 631.4,275.1 633.9,312.6 635.8,301.3 637.6,292.6 640.1,292.6 643.1,232.5 644.8,242.6 646.4,250 648.3,259.1 650.1,267.6 652,282.8 653.9,300.1 655.8,283.1 657.6,265.1 660.1,295.1 662,291.4 663.9,287.6 665.8,289.9 667.7,292.6 669.5,277.8 671.4,265.1 673.9,297.6 675.8,293.4 677.7,290.1 679.5,287.8 681.4,287.6 683.3,290.7 685.2,297.6 687,293.3 688.9,286.3 691.4,295.1 693,292.2 694.7,292.6 697.7,302.6 699.6,305.8 701.4,308.8 703.3,308.2 705.2,305.1 707.1,303.5 708.9,302.6 710.8,301.1 712.7,300.1 714.6,295.9 716.4,292.6 718.3,290.1 720.2,291.3 721.9,291.8 723.5,289.5 725.2,290.1 726.9,290.2 728.5,290 730.2,290.1 732.1,289.8 733.9,287.6 735.6,293.7 737.2,300.1 740.2,285.1 742.1,282.1 744,277.6 745.6,277.8 747.2,278.8 749.3,278.2 751.5,278.8 753.3,277.9 755.2,275.1 757.1,274.9 759,273.8 760.8,272.8 762.7,272.6 765.2,280.1 767.1,276.9 769,275.1 770.8,274.7 772.7,272.6 774.6,268.4 776.5,262.6 778.4,268.8 780.2,272.6 782.1,273 784,270.1 785.9,269.7 787.7,265.1 790.2,250 792.1,253.4 794,255.1 796.5,262.6 798.4,269.2 800.2,280.1 802.1,270.3 804,262.6 805.9,270.3 807.7,282.6 810,272.7 811.9,280.3 813.8,285.2 815.6,294.2 817.5,300.2 819.4,308.2 821.3,312.7 823.2,308.6 825,302.7 827.5,320.2 829.4,308.2 831.3,297.7 833.2,300.7 835,302.7 838,285.2 839.7,296.7 841.3,312.7 843.2,294.3 845,277.7 846.9,279.2 848.8,277.7 850.7,275.5 852.5,272.7 854.4,264.5 856.3,257.6 858.8,225.1 861.3,207.6 863.2,201.9 865.1,198.9 867.6,212.6 869.4,220.4 871.3,227.6 873.2,237.4 875.1,245.1 876.9,247.7 878.8,247.6 880.7,255.3 882.6,262.6 884.4,254.9 886.3,247.6 888.8,237.6 890.7,238.2 892.6,240.1 894.5,234.3 896.3,232.6 898.2,241.1 900.1,250.1 901.7,245.2 903.4,244.2 905.1,240.1 907,235.8 908.8,232.6 910.7,225.3 912.6,220.1 914.5,206.6 916.3,190.1 918.8,185.1 920.7,197.3 922.6,210.1 924.5,213 926.3,215.1 928.2,223.9 930.1,235.1 932,224.6 933.9,215.1 935.7,223 937.6,230.1 939.5,236.4 941.4,245.1 943.2,257.2 945.1,267.6 947,256.2 948.9,242.6 950.7,249.9 952.6,255.1 954.5,241.6 956.4,230.1 958.2,229 960.1,225.1 962,221.3 963.9,220.1 965.8,209.1 967.6,195.1 969.5,172.4 971.4,150.1 973.9,135.1 976.4,120 978.9,215.1 981.4,190.1 983.9,200.1 985.6,180.1 987.6,242.6 989.5,238.4 991.4,232.6 993.9,255.1 995.8,245.4 997.6,235.1 999.5,248.1 1001.4,262.6 1003.1,247.2 1004.7,233.9 1006.4,222.6 1008.9,265.1 1011.4,255.1 1013.9,205.1 1016.4,225.1 1018.9,285.2 1021.4,282.7 1023.3,290.8 1025.2,295.2 1027,271.6 1028.9,245.1 1030.8,254.1 1032.7,267.6 1034.5,272 1036.4,275.2 1038.3,264.8 1040.2,255.1 1042.7,260.1 1045.7,201.4 1047.3,237.9 1048.9,272.7 1050.8,254.2 1052.7,240.1 1054.6,253.2 1056.4,267.6 1058.3,255.7 1060.2,247.6 1062.2,275.2 1065.2,290.2 1067.1,289.8 1068.9,293.9 1070.8,285.7 1072.7,275.2 1074.6,265.6 1076.5,257.6 1079.5,257.6 1081.1,267.5 1082.7,275.2 1084.6,276.5 1086.5,277.7 1088.3,275.9 1090.2,277.7 1092.1,285.3 1094,292.7 1095.8,287.9 1097.7,282.7 1100.2,282.7 1102.1,291.4 1104,295.2 1105.8,296 1107.7,296.4 1109.6,295.5 1111.5,290.2 1113.4,291.7 1115.2,287.7 1116.9,289.2 1118.6,290.4 1120.2,290.2 1122.7,307.7 1124.6,300 1126.5,292.7 1128.4,288.5 1130.2,285.2 1132.4,283.5 1134.5,282.7 1136.1,285.6 1137.7,285.2 1139.6,291.9 1141.5,297.7 1143.4,292.1 1145.2,290.2 1147,286 1148.8,287.3 1150.5,287.6 1152.4,289.6 1154.3,292.3 1156.2,293.5 1158,297.6 1159.9,297.4 1161.8,297.7 1163.7,301.7 1165.5,301.4 1167.4,298.9 1169.3,297.2 1171.2,294.8 1173,292.6 1174.9,289.3 1176.8,287.6 1178.6,290.5 1180.3,291.4 1182.1,293.2 1183.8,295.7 1185.6,297.6 1187.4,300.6 1189.3,305.6 1191.2,306.9 1193.1,311.4 1194.7,304 1196.4,297.1 1198.1,286.3 1199.9,285.9 1201.8,285.5 1203.7,286.7 1205.6,287.6 1207.4,288.6 1209.3,292.9 1211.2,293.5 1213.1,295.1 1215,299.2 1216.8,300.7 1218.7,301.7 1220.6,305.1 1222.5,306.2 1224.3,308.6 1226.2,308.4 1228.1,308.9 1230,305.8 1231.8,303.2 1233.7,301.9 1235.6,300.1 1237.5,297.8 1239.3,299.9 1241.2,294.3 1243.1,295.1 1245,297.2 1246.8,296.7 1248.7,299.1 1250.6,300.1 1252.5,299.2 1254.4,300.9 1256.2,299.5 1258.1,300.1 1260,301.1 1261.9,304.1 1263.7,302.8 1265.6,305.1 1267.4,302.5 1269.1,301.1 1270.9,295.4 1272.6,295 1274.4,292.6 1276.5,293.6 1278.5,298.4 1280.6,297.6 1282.5,302.1 1284.4,303.5 1286.2,307.8 1288.1,310.1 1290.2,311 1292.3,314.7 1294.4,320.1 1296.5,315.4 1298.5,308.9 1300.6,305.1 1302.5,302.6 1304.4,298.3 1306.3,298.3 1308.1,295.1 1310,294.2 1311.9,294.5 1313.8,296.4 1315.6,293.8 1317.5,297.5 1319.4,301 1321.3,307.4 1323.1,312.6 1325,314.2 1326.9,309.6 1328.8,307.7 1330.7,307.6 1332.5,303.8 1334.4,300.7 1336.3,297.2 1338.2,295.1 1340,295.3 1341.9,297.6 1343.8,297.1 1345.7,297.6 1347.5,298.2 1349.4,298.4 1351.3,299.8 1353.2,300.1 1355,298.5 1356.9,301 1358.8,302.6 1360.7,300.1 1362.6,308.7 1364.4,315.1 1366.3,311.6 1368.2,310 1370.1,305.4 1371.9,302.6 1374,300 1376.1,299.1 1378.2,297.6 1380.1,299.5 1381.9,302.6 1383.8,304 1385.7,305.1 1387.6,303.8 1389.4,300.1 1391.3,295.3 1393.2,295.1 1395.3,293.4 1397.4,294.7 1399.5,293.8 1401.5,297 1403.6,302.8 1405.7,306.4 1407.6,303.7 1409.5,305.4 1411.3,301.9 1413.2,302.6 1415.1,305 1417,307.3 1418.8,308.1 1420.7,310.1 1422.6,311.6 1424.5,311.3 1426.3,309.8 1428.2,310.1 1429.9,310.5 1431.6,308.5 1433.2,307.6 1434.9,310.9 1436.6,315.1 1438.2,317.6 1439.9,320.9 1441.6,321.3 1443.2,327.6 1444.9,321.6 1446.6,320.2 1448.2,313.9 1450.1,317.6 1452,318.8 1453.9,317.6 1455.7,320.1 1457.6,313.7 1459.4,312.8 1461.2,308.9 1462.3,308.9" fill="none" stroke="#ff7f0e" stroke-width="2.08" stroke-linejoin="round" stroke-linecap="square"/>
</g>
<path d="M115.5 518.5v5M284.5 518.5v5M452.5 518.5v5M620.5 518.5v5M789.5 518.5v5M957.5 518.5v5M1125.5 518.5v5M1294.5 518.5v5M115.5 477.5h-5M115.5 387.5h-5M115.5 297.5h-5M115.5 206.5h-5M115.5 116.5h-5" fill="none" stroke="#000" stroke-width="1.11"/>
<rect x="115.5" y="38.5" width="1347.0" height="480.0" fill="none" stroke="#000" stroke-width="1.11"/>
<text x="106.06" y="485.60" text-anchor="end" font-size="22.22">−2</text>
<text x="106.06" y="396.20" text-anchor="end" font-size="22.22">−1</text>
<text x="106.06" y="306.00" text-anchor="end" font-size="22.22">0</text>
<text x="106.06" y="215.30" text-anchor="end" font-size="22.22">1</text>
<text x="106.06" y="125.00" text-anchor="end" font-size="22.22">2</text>
<clipPath id="cb"><rect x="115.55" y="575.5" width="1346.75" height="479.0"/></clipPath>
<rect x="115.5" y="575.5" width="1347.0" height="479.0" fill="#fff"/>
<g clip-path="url(#cb)">
<rect x="285.6" y="575.5" width="555.3" height="479.0" fill="#e9e9e9"/>
<path d="M115.5 1054.5V575.5M284.5 1054.5V575.5M452.5 1054.5V575.5M620.5 1054.5V575.5M789.5 1054.5V575.5M957.5 1054.5V575.5M1125.5 1054.5V575.5M1294.5 1054.5V575.5M115.5 1034.5H1462.5M115.5 936.5H1462.5M115.5 838.5H1462.5M115.5 739.5H1462.5M115.5 641.5H1462.5" fill="none" stroke="#b0b0b0" stroke-width="1.11" stroke-dasharray="1.11 1.83"/>
<path d="M109.5,1003.8 110.5,1003.8 111.5,1003.8 112.5,1003.8 113.5,1003.8 114.5,1003.8 115.5,1003.8 116.5,1003.7 117.5,1001.4 118.5,999.1 119.5,998.8 120.5,998.8 121.5,998.8 122.5,998.8 123.5,998.8 124.5,998.8 125.5,998.8 126.5,998.8 127.5,998.4 128.6,997.1 129.6,995.8 130.6,994.4 131.6,992.7 132.6,990.7 133.6,988.8 134.6,988.8 135.6,988.8 136.6,988.8 137.6,988.8 138.6,988.8 139.6,988.8 140.6,988.8 141.6,988.8 142.6,988.8 143.6,988.8 144.6,988.8 145.6,988.8 146.6,988.8 147.6,988.8 148.6,988.8 149.6,988.8 150.6,988.8 151.6,988.8 152.6,988.8 153.6,988.8 154.6,988.8 155.6,988.8 156.6,988.8 157.6,987.7 158.6,983.5 159.6,981.3 160.6,981.5 161.6,981.8 162.6,982.1 163.6,982.5 164.6,981.1 165.6,979.8 166.6,978.5 167.6,978.4 168.6,978.7 169.6,979.1 170.6,979.4 171.6,967.2 172.6,947.9 173.6,948.3 174.6,948.6 175.6,948.8 176.6,948.8 177.6,948.8 178.6,948.8 179.6,948.8 180.6,948.8 181.6,948.8 182.6,948.8 183.6,948.8 184.6,948.8 185.6,942.8 186.6,934.8 187.6,926.8 188.6,918.8 189.6,916.8 190.6,914.8 191.6,906.2 192.6,890.9 193.6,885.9 194.6,885.9 195.6,885.9 196.6,885.9 197.6,885.9 198.6,885.9 199.6,885.9 200.6,885.9 201.6,885.9 202.6,897.3 203.6,908.7 204.6,920 205.6,928.3 206.6,928.3 207.6,928.3 208.6,928.3 209.6,928.3 210.6,929.1 211.6,934.4 212.6,939.8 213.6,939.8 214.6,939.8 215.6,936.1 216.6,929.1 217.6,922 218.6,912.1 219.6,901.1 220.6,901.1 221.6,901.1 222.6,901.1 223.6,901.1 224.6,901.1 225.6,901.1 226.6,901.1 227.6,901.1 228.6,905.9 229.6,915.9 230.6,924.3 231.6,927 232.6,929.6 233.6,932.3 234.6,932.3 235.6,932.3 236.6,926.9 237.6,911.9 238.6,901.5 239.6,901.5 240.6,901.5 241.6,901.5 242.6,901.5 243.6,901.5 244.6,901.5 245.6,901.5 246.6,901.5 247.6,903.7 248.6,903.7 249.6,903.7 250.6,908.1 251.6,912.7 252.6,917.3 253.6,917.3 254.6,917.3 255.6,917.3 256.6,917.3 257.6,917.3 258.6,923.2 259.6,923.2 260.6,923.2 261.6,918.5 262.6,895.1 263.6,875.8 264.6,875.8 265.6,875.8 266.6,875.8 267.6,875.8 268.6,875.8 269.6,875.8 270.6,875.8 271.6,875.8 272.6,875.8 273.6,875.8 274.6,875.8 275.6,913.9 276.6,914.5 277.6,915.2 278.6,915.9 279.6,917.1 280.6,919.1 281.6,921.1 282.6,923.1 283.6,923.1 284.6,923.1 285.6,923.1 286.6,923.1 287.6,923.1 288.6,923.1 289.6,923.1 290.6,924 291.6,925.5 292.6,927.1 293.6,928.6 294.6,931.8 295.6,935.1 296.6,938.5 297.6,938.5 298.6,938.5 299.6,938.5 300.6,938.5 301.6,938.5 302.6,938.5 303.6,938.5 304.6,949.2 305.6,950.2 306.6,951.2 307.6,951.2 308.6,951.2 309.6,908.5 310.6,861.5 311.6,832.9 312.6,830.9 313.6,828.9 314.6,827.7 315.6,827.7 316.6,827.7 317.6,827.7 318.6,827.7 319.6,827.7 320.6,827.7 321.6,827.7 322.6,827.7 323.6,827.7 324.6,827.7 325.6,827.7 326.6,833.2 327.6,848.9 328.6,863 329.6,877.2 330.6,877.2 331.6,877.2 332.6,877.2 333.6,877.2 334.6,877.2 335.6,886.9 336.6,897.5 337.6,898.7 338.6,898.7 339.6,898.7 340.6,898.7 341.6,898.7 342.6,898.6 343.6,897.9 344.6,897.1 345.6,896.3 346.6,891.1 347.6,888.3 348.6,888.3 349.6,888.3 350.6,888.3 351.6,888.3 352.6,886.7 353.6,870.1 354.6,870.1 355.6,870.1 356.6,870.1 357.6,870.1 358.6,870.1 359.6,870.1 360.6,870.1 361.6,870.1 362.6,870.1 363.6,870.1 364.6,870.1 365.6,870.1 366.6,886.8 367.6,893.7 368.6,893.7 369.6,893.7 370.6,894 371.6,896 372.6,898 373.6,898 374.6,898 375.6,894.6 376.6,888 377.6,881.3 378.6,874.6 379.6,873.7 380.6,873.7 381.6,873.7 382.6,873.7 383.6,873.7 384.6,873.7 385.6,873.7 386.6,873.7 387.6,873.7 388.6,873.7 389.6,873.7 390.6,873.7 391.6,867 392.6,867 393.6,867 394.6,867 395.6,867 396.6,867 397.6,867 398.6,867 399.6,867 400.6,867 401.6,867 402.6,867 403.6,867 404.6,867 405.6,867 406.6,885.4 407.6,890.4 408.6,895.4 409.6,895.4 410.6,895.4 411.6,895.4 412.6,895.4 413.6,895.4 414.6,901.3 415.6,902.4 416.6,902.4 417.6,902.4 418.6,900.9 419.6,899.4 420.6,874.8 421.6,855.4 422.6,855.4 423.6,855.4 424.6,855.4 425.6,855.4 426.6,847 427.6,832.8 428.6,824.2 429.6,824.2 430.6,824.2 431.6,824.2 432.6,824.2 433.6,824.2 434.6,824.2 435.6,824.2 436.6,824.2 437.6,824.2 438.6,824.2 439.6,823.7 440.6,823.7 441.6,823.7 442.6,823.7 443.6,823.7 444.6,823.7 445.6,823.7 446.6,823.7 447.6,823.7 448.6,823.7 449.6,822.7 450.6,822.7 451.6,822.7 452.6,822.7 453.6,822.7 454.6,822.7 455.6,822.7 456.6,822.7 457.6,822.7 458.6,824.1 459.6,824.9 460.6,825.6 461.6,826.9 462.6,829.4 463.6,831.9 464.6,833.7 465.6,833.7 466.6,833.8 467.6,833.8 468.6,833.8 469.6,833.8 470.6,821.7 471.6,806.1 472.6,796.1 473.6,796.1 474.6,796.1 475.6,796.1 476.6,796.1 477.6,796.1 478.6,796.1 479.6,796.1 480.6,796.1 481.6,813.8 482.6,815.8 483.6,817.8 484.6,817.8 485.6,817.8 486.6,817.8 487.6,817.8 488.6,817.8 489.6,817.8 490.6,817.8 491.6,817.8 492.6,818.3 493.6,822.1 494.6,826 495.6,829.5 496.6,832.2 497.6,834.8 498.6,837.5 499.6,837.5 500.6,837.5 501.6,832.8 502.6,832.8 503.6,832.8 504.6,832.8 505.6,832.8 506.6,832.8 507.6,832.8 508.6,832.8 509.6,832.8 510.6,835.8 511.6,843.8 512.5,851.8 513.5,859.8 514.5,861.6 515.5,861.6 516.5,861.6 517.5,857.1 518.5,852.6 519.5,848.1 520.5,843.6 521.5,839.9 522.5,838.2 523.5,838.2 524.5,838.2 525.5,838.2 526.5,838.2 527.5,838.2 528.5,838.2 529.5,838.2 530.5,830.9 531.5,820.3 532.5,809.6 533.5,798.9 534.5,798.9 535.5,798.9 536.5,798.9 537.5,798.9 538.5,798.9 539.5,798.9 540.5,798.9 541.5,798.9 542.5,813.3 543.5,838.3 544.5,852.9 545.5,856.3 546.5,859.6 547.5,862.9 548.5,862.9 549.5,862.9 550.5,862.9 551.5,862.9 552.5,862.9 553.5,862.9 554.5,865 555.5,870.6 556.5,876.2 557.5,876.2 558.5,876.2 559.5,875.7 560.5,875 561.5,874.4 562.5,873.5 563.5,871.7 564.5,870.4 565.5,870.4 566.5,870.4 567.5,870.4 568.5,870.4 569.5,870.4 570.5,870.4 571.5,869.5 572.5,865.5 573.5,861.5 574.5,857.5 575.5,853.8 576.5,853.8 577.5,853.8 578.5,853.8 579.5,853.8 580.5,853.8 581.5,853.8 582.5,853.8 583.5,853.8 584.5,849.3 585.5,843.3 586.5,843.3 587.5,843.3 588.5,843.3 589.5,843.3 590.5,843.3 591.5,843.3 592.5,843.3 593.5,843.3 594.5,843.3 595.5,845.4 596.5,849 597.5,852.7 598.5,857.1 599.5,861.7 600.5,866.4 601.5,871.1 602.5,871.1 603.5,871.1 604.5,871.1 605.5,871.1 606.5,871.1 607.5,871.1 608.5,871.1 609.5,871.1 610.5,872.8 611.5,880.8 612.5,888.8 613.5,896.8 614.5,902.3 615.5,904.5 616.5,906.8 617.5,909 618.5,911.2 619.5,911.2 620.5,911.2 621.5,901.3 622.5,890.5 623.5,879.6 624.5,874.4 625.5,869.7 626.5,864.9 627.5,860.2 628.5,855.4 629.5,838.8 630.5,821.1 631.5,803.4 632.5,785.8 633.5,768.5 634.5,751.2 635.5,751.2 636.5,751.2 637.5,751.2 638.5,751.2 639.5,751.2 640.5,751.2 641.5,751.2 642.5,751.2 643.5,765.2 644.5,805.2 645.5,839.9 646.5,846.6 647.5,853.2 648.5,859.9 649.5,859.9 650.5,859.9 651.5,858.4 652.5,845.2 653.5,832 654.5,822.9 655.5,822.9 656.5,822.9 657.5,822.9 658.5,822.9 659.5,822.9 660.5,822.9 661.5,822.9 662.5,822.9 663.5,827.3 664.5,828.8 665.5,830.3 666.5,831.8 667.5,833.3 668.5,833.3 669.5,833.3 670.5,832.5 671.5,830.5 672.5,828.5 673.5,826.5 674.5,812.9 675.5,801.4 676.5,801.4 677.5,801.4 678.5,801.4 679.5,801.4 680.5,801.4 681.5,801.4 682.5,801.4 683.5,801.4 684.5,808 685.5,811.7 686.5,811.7 687.5,811.7 688.5,811.7 689.5,811.7 690.5,811.7 691.5,811.7 692.5,811.7 693.5,815.5 694.5,818.1 695.5,820.8 696.5,823.5 697.5,823.5 698.5,823.5 699.5,813.6 700.5,801.9 701.5,790.3 702.5,790.3 703.5,790.3 704.5,790.3 705.5,790.3 706.5,790.3 707.5,790.3 708.5,790.3 709.5,790.3 710.5,793.3 711.5,796.7 712.5,800 713.5,805.4 714.5,812.1 715.5,818.7 716.5,825.4 717.5,825.4 718.5,825.4 719.5,815.1 720.5,802 721.5,789 722.5,785.7 723.5,785.7 724.5,785.7 725.5,785.7 726.5,785.7 727.5,785.7 728.5,785.7 729.5,785.7 730.5,785.7 731.5,788.4 732.5,788.4 733.5,788.4 734.5,772.1 735.5,762.6 736.5,762.6 737.5,762.6 738.5,762.6 739.5,762.6 740.5,762.6 741.5,762.6 742.5,762.6 743.5,762.6 744.5,780.9 745.5,798 746.5,815 747.5,831.9 748.5,840.2 749.5,842.4 750.5,844.7 751.5,847 752.5,849.3 753.5,851.9 754.5,858 755.5,864.1 756.5,870.2 757.5,876.3 758.5,878.6 759.5,878.6 760.5,878.6 761.5,878.2 762.5,877.8 763.5,877.4 764.5,877 765.5,876.6 766.5,874 767.5,866.8 768.5,860.2 769.5,860.2 770.5,860.2 771.5,860.2 772.5,860.2 773.5,860.2 774.5,860.2 775.5,860.2 776.5,858.2 777.5,856.2 778.5,854.2 779.5,852.2 780.5,852.2 781.5,852.2 782.5,852.2 783.5,852.2 784.5,852.2 785.5,852.2 786.5,852.2 787.5,852.2 788.5,863.3 789.5,874.2 790.5,879.5 791.5,884.7 792.5,890 793.5,895.2 794.5,898.9 795.5,898.9 796.5,898.9 797.5,899.8 798.5,902.9 799.5,906 800.5,909 801.5,910.5 802.5,912 803.5,913.6 804.5,913.9 805.5,913.9 806.5,913.9 807.5,913.9 808.5,919.7 809.5,933.7 810.5,943.4 811.5,943.4 812.5,943.4 813.5,943.4 814.5,943.4 815.5,943.4 816.5,943.4 817.5,943.4 818.5,943.4 819.5,943.4 820.5,943.9 821.5,944.6 822.5,945.3 823.5,945.9 824.5,945.9 825.5,945.9 826.5,943.1 827.5,937.1 828.5,931.1 829.5,925.1 830.5,911.5 831.5,895.5 832.5,881.1 833.5,878.7 834.5,878.7 835.5,878.7 836.5,878.7 837.5,878.7 838.5,878.7 839.5,878.7 840.5,878.7 841.5,878.7 842.5,883.3 843.5,891.9 844.5,901.6 845.5,912.3 846.5,923 847.5,933.6 848.5,934 849.5,934 850.5,934 851.5,931 852.5,926.7 853.5,922.1 854.5,922.1 855.5,922.1 856.5,922.1 857.5,922.1 858.5,922.1 859.5,922.1 860.5,895.4 861.5,876.1 862.5,876.1 863.5,876.1 864.5,876.1 865.5,876.1 866.5,876.1 867.5,876.1 868.5,876.1 869.5,876.1 870.5,886.1 871.5,896.1 872.5,910 873.5,924 874.5,938 875.5,949.1 876.5,950.4 877.5,951.7 878.5,953.1 879.5,955.1 880.5,957.7 881.5,960.4 882.5,963.1 883.5,963.1 884.5,963.1 885.5,957.9 886.5,949.9 887.5,941.9 888.5,939.7 889.5,939.7 890.5,939.6 891.5,939.2 892.5,938.9 893.5,938.6 894.5,938.2 895.5,937.9 896.5,937.6 897.5,946.2 898.5,951.3 899.5,955 900.5,958.6 901.5,962.3 902.5,962 903.5,961.6 904.5,960.8 905.5,960 906.5,959.3 907.5,957.8 908.5,953.4 909.5,951.9 910.5,951.9 911.5,951.9 912.5,951.9 913.5,951.9 914.5,951.9 915.5,951.9 916.5,951.9 917.5,951.9 918.5,951.9 919.5,951.9 920.5,951.9 921.5,952.1 922.5,961.1 923.5,964.7 924.5,966 925.5,967.4 926.5,968.7 927.5,968.7 928.5,968.7 929.5,968.7 930.5,968.7 931.5,968.7 932.5,968.7 933.5,969.2 934.5,975.6 935.5,979.6 936.5,983.6 937.5,987.6 938.5,989.5 939.5,990.5 940.5,991.5 941.5,992.5 942.5,993.5 943.5,993.5 944.5,993.5 945.5,993 946.5,992.1 947.5,992.1 948.5,992.1 949.5,992.1 950.5,992.1 951.5,992.1 952.5,992.1 953.5,992.1 954.5,992.1 955.5,992.1 956.5,992.1 957.5,988.1 958.5,984.1 959.5,984.1 960.5,984.1 961.5,984.1 962.5,984.1 963.5,984.1 964.5,984.1 965.5,984.1 966.5,984.1 967.5,984.2 968.5,985.5 969.5,985.5 970.5,985.5 971.5,985.5 972.5,985.5 973.5,985.5 974.5,985.5 975.5,985.5 976.5,985.5 977.5,992.9 978.5,998.8 979.5,998.8 980.5,998.8 981.5,998.8 982.5,998.8 983.5,998.8 984.5,998.8 985.5,998.8 986.5,998.8 987.5,998.8 988.5,998.8 989.5,998.8 990.5,998.8 991.5,998.8 992.5,998.8 993.5,998.8 994.5,1003.8 995.5,1003.8 996.5,1003.8 997.5,1003.8 998.5,1003.8 999.5,1003.8 1000.5,1003.8 1001.5,1003.8 1002.5,1003.8 1003.5,1003.8 1004.5,1003.8 1005.5,1003.8 1006.5,1003.8 1007.5,1003.8 1008.5,1006.7 1009.5,1009 1010.5,1009.4 1011.5,1009.8 1012.5,1010.2 1013.5,1010.6 1014.5,1011 1015.5,1011.1 1016.5,1011.1 1017.5,1011.1 1018.5,1011.1 1019.5,1011.1 1020.5,1011.1 1021.5,1011.1 1022.5,1011.1 1023.5,1011.1 1024.5,1011.5 1025.5,1013.8 1026.5,1013.8 1027.5,1013.8 1028.5,1013.8 1029.5,1013.8 1030.5,1013.8 1031.5,1013.8 1032.5,1013.8 1033.5,1013.8 1034.5,1013.8 1035.5,1013.8 1036.5,1013.8 1037.5,1013.8 1038.5,1013.8 1039.5,1013.8 1040.5,1013.8 1041.5,1013.8 1042.5,1013.8 1043.5,1013.8 1044.5,1013.8 1045.5,1013.8 1046.5,1014.8 1047.5,1016.8 1048.5,1018.8 1049.5,1019.8 1050.5,1019.8 1051.5,1019.8 1052.5,1019.8 1053.5,1019.8 1054.5,1019.8 1055.5,1019.8 1056.5,1019.8 1057.5,1019.8 1058.5,1020.7 1059.5,1021.2 1060.5,1021.2 1061.5,1021.2 1062.5,1020.9 1063.5,1020.5 1064.5,1020.2 1065.5,1019.9 1066.5,1019.9 1067.5,1019.9 1068.5,1019.9 1069.5,1019.9 1070.5,1019.9 1071.5,1019.9 1072.5,1019.9 1073.5,1019.9 1074.5,1019.9 1075.5,1020.1 1076.5,1020.6 1077.5,1021.1 1078.5,1021.6 1079.5,1022.1 1080.5,1022.6 1081.5,1023.1 1082.5,1023.6 1083.5,1023.6 1084.5,1023.6 1085.5,1023.6 1086.5,1023.6 1087.5,1023.6 1088.5,1023.6 1089.5,1023.6 1090.5,1023.6 1091.5,1023.6 1092.5,1023.6 1093.5,1023.9 1094.5,1024 1095.5,1024.2 1096.5,1024.3 1097.5,1024.5 1098.5,1024.6 1099.5,1024.8 1100.5,1024.9 1101.5,1025 1102.5,1026 1103.5,1026 1104.5,1026 1105.5,1025.5 1106.5,1025.1 1107.5,1024.7 1108.5,1024.2 1109.5,1023.8 1110.5,1023.3 1111.5,1022.9 1112.5,1022.4 1113.5,1022 1114.5,1021.5 1115.5,1021 1116.5,1020.8 1117.5,1020.8 1118.5,1020.8 1119.5,1020.8 1120.5,1020.8 1121.5,1020.8 1122.5,1020.8 1123.5,1020.8 1124.5,1020.8 1125.5,1022 1126.5,1023.2 1127.5,1023.7 1128.5,1023.7 1129.5,1023.7 1130.5,1023.7 1131.5,1023.7 1132.5,1023.7 1133.5,1023.7 1134.5,1023.7 1135.5,1024 1136.5,1024.2 1137.5,1024.5 1138.5,1024.7 1139.5,1025 1140.5,1025.2 1141.5,1025.5 1142.5,1025.7 1143.5,1026 1144.5,1026.2 1145.5,1026.2 1146.5,1026.2 1147.5,1026.1 1148.5,1025.9 1149.5,1025.7 1150.5,1025.6 1151.5,1025.4 1152.5,1025.2 1153.5,1025.1 1154.5,1024.7 1155.5,1024.2 1156.5,1023.7 1157.5,1023.2 1158.5,1022.7 1159.5,1022.2 1160.5,1021.7 1161.5,1021.2 1162.5,1020.7 1163.5,1020.7 1164.5,1020.7 1165.5,1020.7 1166.5,1020.7 1167.5,1020.7 1168.5,1020.7 1169.5,1020.7 1170.5,1020.7 1171.5,1021.1 1172.5,1021.3 1173.5,1021.5 1174.5,1021.7 1175.5,1021.9 1176.5,1022.1 1177.5,1022.3 1178.5,1022.7 1179.5,1023.5 1180.5,1024.3 1181.5,1025.1 1182.5,1025.9 1183.5,1026.7 1184.5,1027.5 1185.5,1027.5 1186.5,1027.5 1187.5,1027.5 1188.5,1027.5 1189.5,1027.5 1190.5,1027.5 1191.5,1027.5 1192.5,1027.5 1193.5,1027.5 1194.5,1027.5 1195.5,1027.5 1196.5,1027.5 1197.5,1027.5 1198.5,1027.5 1199.5,1027.5 1200.5,1027.5 1201.5,1027.5 1202.5,1027.5 1203.5,1027.5 1204.5,1027.5 1205.5,1027.5 1206.5,1027.5 1207.5,1027.5 1208.5,1027.5 1209.5,1027.4 1210.5,1027.2 1211.5,1027.1 1212.5,1026.9 1213.5,1026.7 1214.5,1026.6 1215.5,1026.4 1216.5,1026.2 1217.5,1025.8 1218.5,1025.4 1219.5,1025 1220.5,1024.5 1221.5,1024.1 1222.5,1023.7 1223.5,1023.7 1224.5,1023.7 1225.5,1023.7 1226.5,1023.7 1227.5,1023.7 1228.5,1023.7 1229.5,1023.7 1230.5,1023.7 1231.5,1023.7 1232.5,1023.8 1233.5,1024 1234.5,1024.2 1235.5,1024.4 1236.5,1024.6 1237.5,1024.8 1238.5,1025 1239.5,1025.2 1240.5,1025.4 1241.5,1025.6 1242.5,1025.8 1243.5,1026 1244.5,1026.2 1245.5,1026.2 1246.5,1026.2 1247.5,1026 1248.5,1025.7 1249.5,1025.4 1250.5,1025.1 1251.5,1024.9 1252.5,1024.9 1253.5,1024.9 1254.5,1024.9 1255.5,1024.9 1256.5,1024.9 1257.5,1024.9 1258.5,1024.9 1259.5,1024.9 1260.5,1025.4 1261.5,1025.9 1262.5,1025.9 1263.5,1025.9 1264.5,1025.6 1265.5,1024.1 1266.5,1023.7 1267.5,1023.7 1268.5,1023.7 1269.5,1023.7 1270.5,1023.7 1271.5,1023.7 1272.5,1023.7 1273.5,1023.7 1274.5,1023.7 1275.5,1023.7 1276.5,1023.7 1277.5,1023.3 1278.5,1022.8 1279.5,1022.3 1280.5,1022.3 1281.5,1022.3 1282.5,1022.3 1283.5,1022.3 1284.5,1022.3 1285.5,1022.3 1286.5,1022.3 1287.5,1022.3 1288.5,1022.7 1289.5,1023.4 1290.5,1024 1291.5,1024.6 1292.5,1024.7 1293.5,1024.7 1294.5,1024.7 1295.5,1024.2 1296.5,1023.6 1297.5,1023.1 1298.5,1022.5 1299.5,1022 1300.5,1022 1301.5,1022 1302.5,1022 1303.5,1022 1304.5,1022 1305.5,1022 1306.5,1022 1307.5,1022 1308.5,1022.4 1309.5,1023.1 1310.5,1023.8 1311.5,1024.6 1312.5,1024.9 1313.5,1024.9 1314.5,1024.9 1315.5,1024.6 1316.5,1024.3 1317.5,1024 1318.5,1023.7 1319.5,1023.4 1320.5,1023.2 1321.5,1022.9 1322.5,1022.6 1323.5,1022.3 1324.5,1022.1 1325.5,1021.9 1326.5,1021.7 1327.5,1021.4 1328.5,1021.2 1329.5,1021 1330.5,1020.8 1331.5,1020.6 1332.5,1020.4 1333.5,1020.4 1334.5,1020.4 1335.5,1020.4 1336.5,1020.4 1337.5,1020.4 1338.5,1020.4 1339.5,1020.4 1340.5,1020.4 1341.5,1020.5 1342.5,1020.5 1343.5,1020.6 1344.5,1020.7 1345.5,1020.7 1346.5,1020.7 1347.5,1020.7 1348.5,1020.7 1349.5,1020.7 1350.5,1020.7 1351.5,1020.7 1352.5,1020.7 1353.5,1020.7 1354.5,1020.7 1355.5,1020.9 1356.5,1021.2 1357.5,1021.4 1358.5,1021.6 1359.5,1021.9 1360.5,1022.1 1361.5,1022.3 1362.5,1022.3 1363.5,1022.3 1364.5,1021.7 1365.5,1019.7 1366.5,1017.7 1367.5,1016.8 1368.5,1016.8 1369.5,1016.8 1370.5,1016.8 1371.5,1016.8 1372.5,1016.8 1373.5,1016.8 1374.5,1016.8 1375.5,1016.8 1376.5,1018 1377.5,1018.6 1378.5,1018.6 1379.5,1018.6 1380.5,1018.3 1381.5,1017.9 1382.5,1017.6 1383.5,1017.3 1384.5,1016.9 1385.5,1016.6 1386.5,1016.3 1387.5,1015.2 1388.5,1014 1389.5,1012.8 1390.5,1011.6 1391.5,1010.4 1392.5,1009.9 1393.5,1009.9 1394.5,1009.9 1395.5,1009.9 1396.5,1009.9 1397.5,1009.9 1398.5,1009.9 1399.5,1009.9 1400.5,1009.9 1401.5,1012 1402.5,1013.5 1403.5,1013.5 1404.5,1013.5 1405.5,1012.8 1406.5,1012.2 1407.5,1011.5 1408.5,1011.2 1409.5,1011.2 1410.5,1011.2 1411.5,1011.2 1412.5,1011.2 1413.5,1011.2 1414.5,1009.4 1415.5,1003.9 1416.5,998.4 1417.5,992.9 1418.5,988.3 1419.5,988.3 1420.5,988.3 1421.5,988.3 1422.5,988.3 1423.5,988.3 1424.5,987.7 1425.5,987.7 1426.5,987.7 1427.5,987.7 1428.5,987.7 1429.5,987.7 1430.5,987.7 1431.5,987.7 1432.5,987.7 1433.5,989 1434.5,989.4 1435.5,989.8 1436.5,990.1 1437.5,990.5 1438.5,990.8 1439.5,991.1 1440.5,993.9 1441.5,997.3 1442.5,1000.6 1443.5,1003.1 1444.5,1003.1 1445.5,1003.1 1446.5,998.6 1447.5,998.6 1448.5,998.6 1449.5,998.6 1450.5,998.6 1451.5,998.6 1452.5,998.6 1453.5,998.6 1454.5,998.6 1455.5,998.6 1456.5,996.6 1457.5,994.6 1458.5,992.6 1459.5,988.9 1460.5,981.4 1461.5,973.9 1462.5,968.7 1463.5,968.7 1464.5,968.7 1465.5,968.7 1466.5,968.7 1467.5,968.7 1467.5,1025.2 1466.5,1025.2 1465.5,1025.2 1464.5,1025.2 1463.5,1025.2 1462.5,1025.2 1461.5,1025.2 1460.5,1025.2 1459.5,1025.5 1458.5,1025.9 1457.5,1026.3 1456.5,1026.4 1455.5,1026.4 1454.5,1026.4 1453.5,1026.4 1452.5,1026.4 1451.5,1026.4 1450.5,1026.4 1449.5,1026.4 1448.5,1026.4 1447.5,1026.4 1446.5,1026.4 1445.5,1026.4 1444.5,1026.4 1443.5,1026.4 1442.5,1026.4 1441.5,1026.4 1440.5,1026.4 1439.5,1026.4 1438.5,1026.4 1437.5,1026.4 1436.5,1026.4 1435.5,1026.6 1434.5,1027 1433.5,1027.4 1432.5,1027.7 1431.5,1027.7 1430.5,1027.7 1429.5,1027.7 1428.5,1027.7 1427.5,1027.7 1426.5,1027.7 1425.5,1027.7 1424.5,1027.7 1423.5,1027.7 1422.5,1027.7 1421.5,1027.7 1420.5,1027.7 1419.5,1027.7 1418.5,1027.7 1417.5,1027.7 1416.5,1027.9 1415.5,1028.1 1414.5,1028.4 1413.5,1028.6 1412.5,1028.9 1411.5,1028.9 1410.5,1028.9 1409.5,1028.9 1408.5,1028.9 1407.5,1028.9 1406.5,1028.9 1405.5,1028.9 1404.5,1028.9 1403.5,1028.9 1402.5,1028.9 1401.5,1028.9 1400.5,1028.9 1399.5,1028.9 1398.5,1028.9 1397.5,1028.9 1396.5,1028.9 1395.5,1028.9 1394.5,1029 1393.5,1029.3 1392.5,1029.7 1391.5,1030 1390.5,1030.2 1389.5,1030.2 1388.5,1030.2 1387.5,1030.2 1386.5,1030.2 1385.5,1030.2 1384.5,1030.2 1383.5,1030.2 1382.5,1030.2 1381.5,1030.2 1380.5,1030.2 1379.5,1030.2 1378.5,1030.2 1377.5,1030.2 1376.5,1030.2 1375.5,1030.2 1374.5,1030.2 1373.5,1030.2 1372.5,1030.2 1371.5,1030.2 1370.5,1030.2 1369.5,1030.2 1368.5,1030.2 1367.5,1030.2 1366.5,1030.2 1365.5,1030.2 1364.5,1030.2 1363.5,1030.2 1362.5,1030.2 1361.5,1030.2 1360.5,1030.2 1359.5,1030.2 1358.5,1030.2 1357.5,1030.2 1356.5,1030.2 1355.5,1030.2 1354.5,1030.2 1353.5,1030.2 1352.5,1030.2 1351.5,1030.2 1350.5,1030.2 1349.5,1030.2 1348.5,1030.2 1347.5,1030.2 1346.5,1030.2 1345.5,1030.2 1344.5,1030.3 1343.5,1030.3 1342.5,1030.4 1341.5,1030.4 1340.5,1030.5 1339.5,1030.5 1338.5,1030.6 1337.5,1030.6 1336.5,1030.7 1335.5,1030.8 1334.5,1030.8 1333.5,1030.9 1332.5,1030.9 1331.5,1030.9 1330.5,1030.9 1329.5,1030.9 1328.5,1030.9 1327.5,1030.9 1326.5,1030.9 1325.5,1030.9 1324.5,1030.9 1323.5,1030.9 1322.5,1030.9 1321.5,1030.9 1320.5,1030.9 1319.5,1030.9 1318.5,1030.9 1317.5,1030.9 1316.5,1030.9 1315.5,1030.9 1314.5,1030.9 1313.5,1030.9 1312.5,1030.9 1311.5,1030.9 1310.5,1030.9 1309.5,1030.9 1308.5,1030.9 1307.5,1030.9 1306.5,1030.9 1305.5,1030.9 1304.5,1030.9 1303.5,1030.9 1302.5,1030.9 1301.5,1030.9 1300.5,1030.9 1299.5,1030.9 1298.5,1030.9 1297.5,1030.9 1296.5,1030.9 1295.5,1030.9 1294.5,1030.9 1293.5,1030.9 1292.5,1030.9 1291.5,1030.9 1290.5,1030.9 1289.5,1030.9 1288.5,1030.9 1287.5,1030.9 1286.5,1030.9 1285.5,1030.9 1284.5,1030.9 1283.5,1030.9 1282.5,1030.9 1281.5,1030.9 1280.5,1030.9 1279.5,1030.9 1278.5,1030.9 1277.5,1030.9 1276.5,1030.9 1275.5,1030.9 1274.5,1030.9 1273.5,1030.9 1272.5,1030.9 1271.5,1030.9 1270.5,1030.9 1269.5,1030.9 1268.5,1030.9 1267.5,1030.9 1266.5,1030.9 1265.5,1030.9 1264.5,1030.9 1263.5,1030.9 1262.5,1030.9 1261.5,1030.9 1260.5,1030.9 1259.5,1030.9 1258.5,1030.9 1257.5,1030.9 1256.5,1030.9 1255.5,1030.9 1254.5,1030.9 1253.5,1030.9 1252.5,1030.9 1251.5,1030.9 1250.5,1030.9 1249.5,1030.9 1248.5,1030.9 1247.5,1030.9 1246.5,1030.9 1245.5,1030.9 1244.5,1030.9 1243.5,1030.9 1242.5,1030.9 1241.5,1030.9 1240.5,1030.9 1239.5,1030.9 1238.5,1030.9 1237.5,1030.9 1236.5,1030.9 1235.5,1030.9 1234.5,1030.9 1233.5,1030.9 1232.5,1030.9 1231.5,1030.9 1230.5,1030.9 1229.5,1030.9 1228.5,1030.9 1227.5,1030.9 1226.5,1030.9 1225.5,1030.9 1224.5,1030.9 1223.5,1030.9 1222.5,1030.9 1221.5,1030.9 1220.5,1030.9 1219.5,1030.9 1218.5,1030.9 1217.5,1030.9 1216.5,1030.9 1215.5,1030.9 1214.5,1030.9 1213.5,1030.9 1212.5,1030.9 1211.5,1030.9 1210.5,1030.9 1209.5,1030.9 1208.5,1030.9 1207.5,1030.9 1206.5,1030.9 1205.5,1030.9 1204.5,1030.9 1203.5,1030.9 1202.5,1030.9 1201.5,1030.9 1200.5,1030.9 1199.5,1030.9 1198.5,1030.9 1197.5,1030.9 1196.5,1030.9 1195.5,1030.9 1194.5,1030.9 1193.5,1030.9 1192.5,1030.9 1191.5,1030.9 1190.5,1030.9 1189.5,1030.9 1188.5,1030.9 1187.5,1030.9 1186.5,1030.9 1185.5,1030.8 1184.5,1030.7 1183.5,1030.6 1182.5,1030.5 1181.5,1030.3 1180.5,1030.2 1179.5,1030.2 1178.5,1030.2 1177.5,1030.2 1176.5,1030.2 1175.5,1030.2 1174.5,1030.2 1173.5,1030.2 1172.5,1030.2 1171.5,1030.2 1170.5,1030.2 1169.5,1030.2 1168.5,1030.2 1167.5,1030.2 1166.5,1030.2 1165.5,1030.2 1164.5,1030.2 1163.5,1030.2 1162.5,1030.2 1161.5,1030.2 1160.5,1030.2 1159.5,1030.2 1158.5,1030.2 1157.5,1030.2 1156.5,1030.2 1155.5,1030.2 1154.5,1030.2 1153.5,1030.2 1152.5,1030.2 1151.5,1030.2 1150.5,1030.2 1149.5,1030.2 1148.5,1030.2 1147.5,1030.2 1146.5,1030.2 1145.5,1030.2 1144.5,1030.2 1143.5,1030.2 1142.5,1030.2 1141.5,1030.2 1140.5,1030.2 1139.5,1030.2 1138.5,1030.2 1137.5,1030.2 1136.5,1030.2 1135.5,1030.2 1134.5,1030.2 1133.5,1030.2 1132.5,1030.2 1131.5,1030.2 1130.5,1030.2 1129.5,1030.2 1128.5,1030.2 1127.5,1030.2 1126.5,1030.2 1125.5,1030.2 1124.5,1030.2 1123.5,1030.2 1122.5,1030.2 1121.5,1030.2 1120.5,1030.2 1119.5,1030.2 1118.5,1030.2 1117.5,1030.2 1116.5,1030.2 1115.5,1030.2 1114.5,1030.2 1113.5,1030.2 1112.5,1030.2 1111.5,1030.2 1110.5,1030.2 1109.5,1030.2 1108.5,1030.2 1107.5,1030.2 1106.5,1030.2 1105.5,1030.2 1104.5,1030.2 1103.5,1030.2 1102.5,1030.1 1101.5,1030 1100.5,1029.8 1099.5,1029.7 1098.5,1029.5 1097.5,1029.4 1096.5,1029.3 1095.5,1029.1 1094.5,1029 1093.5,1029 1092.5,1029 1091.5,1029 1090.5,1029 1089.5,1029 1088.5,1029 1087.5,1029 1086.5,1029 1085.5,1029 1084.5,1029 1083.5,1029 1082.5,1029 1081.5,1029 1080.5,1029 1079.5,1029 1078.5,1029 1077.5,1029 1076.5,1029 1075.5,1029 1074.5,1029 1073.5,1029 1072.5,1029 1071.5,1029 1070.5,1029 1069.5,1029 1068.5,1029 1067.5,1028.8 1066.5,1028.7 1065.5,1028.5 1064.5,1028.3 1063.5,1028.2 1062.5,1028 1061.5,1027.8 1060.5,1027.8 1059.5,1027.8 1058.5,1027.8 1057.5,1027.8 1056.5,1027.8 1055.5,1027.8 1054.5,1027.8 1053.5,1027.8 1052.5,1027.8 1051.5,1027.8 1050.5,1027.8 1049.5,1027.8 1048.5,1027.8 1047.5,1027.8 1046.5,1027.8 1045.5,1027.8 1044.5,1027.8 1043.5,1027.8 1042.5,1027.8 1041.5,1027.8 1040.5,1027.8 1039.5,1027.7 1038.5,1027.5 1037.5,1027.3 1036.5,1027.1 1035.5,1026.9 1034.5,1026.7 1033.5,1026.6 1032.5,1026.6 1031.5,1026.6 1030.5,1026.8 1029.5,1027 1028.5,1027.2 1027.5,1027.4 1026.5,1027.3 1025.5,1026.7 1024.5,1026.1 1023.5,1025.5 1022.5,1025.3 1021.5,1025.3 1020.5,1025.3 1019.5,1025.3 1018.5,1025.3 1017.5,1025.3 1016.5,1025.1 1015.5,1024.9 1014.5,1024.7 1013.5,1024.5 1012.5,1024.3 1011.5,1024.1 1010.5,1024 1009.5,1024 1008.5,1024 1007.5,1024 1006.5,1024 1005.5,1024 1004.5,1024 1003.5,1024 1002.5,1024 1001.5,1024 1000.5,1023.7 999.5,1023.2 998.5,1022.7 997.5,1022.2 996.5,1021.7 995.5,1021.5 994.5,1021.5 993.5,1021.5 992.5,1021.5 991.5,1021.5 990.5,1021.5 989.5,1021.5 988.5,1021.5 987.5,1021.5 986.5,1021.5 985.5,1021.5 984.5,1021.5 983.5,1021.5 982.5,1021.5 981.5,1021.5 980.5,1021.5 979.5,1021.3 978.5,1020.5 977.5,1019.7 976.5,1019 975.5,1019 974.5,1019 973.5,1019 972.5,1019 971.5,1019 970.5,1018.6 969.5,1018 968.5,1017.3 967.5,1016.6 966.5,1016.5 965.5,1016.5 964.5,1016.5 963.5,1016.5 962.5,1016.5 961.5,1016.5 960.5,1017 959.5,1017.7 958.5,1018.5 957.5,1018.2 956.5,1017.9 955.5,1017.6 954.5,1017.2 953.5,1016.9 952.5,1016.6 951.5,1016.5 950.5,1016.5 949.5,1016.5 948.5,1016.5 947.5,1016.5 946.5,1016.7 945.5,1017 944.5,1017.3 943.5,1017.6 942.5,1017.8 941.5,1018.1 940.5,1018.3 939.5,1018.6 938.5,1018.1 937.5,1017.5 936.5,1016.8 935.5,1016.5 934.5,1016.5 933.5,1016.5 932.5,1016.5 931.5,1016.5 930.5,1016.5 929.5,1016.5 928.5,1016.5 927.5,1016.5 926.5,1016.6 925.5,1017.2 924.5,1017.9 923.5,1018.6 922.5,1018.3 921.5,1017.9 920.5,1017.6 919.5,1017.4 918.5,1017.1 917.5,1016.9 916.5,1016.6 915.5,1016.2 914.5,1015.6 913.5,1015 912.5,1014.4 911.5,1014.1 910.5,1014.1 909.5,1014.1 908.5,1014.4 907.5,1014.7 906.5,1014.9 905.5,1015.2 904.5,1015.5 903.5,1015.9 902.5,1015.8 901.5,1015.2 900.5,1014.5 899.5,1013.8 898.5,1013.2 897.5,1012.5 896.5,1011.8 895.5,1011.7 894.5,1011.7 893.5,1011.7 892.5,1012 891.5,1012.4 890.5,1012.7 889.5,1013 888.5,1013.4 887.5,1013.7 886.5,1014 885.5,1014 884.5,1013.9 883.5,1013.6 882.5,1013.3 881.5,1012.9 880.5,1012.6 879.5,1012.3 878.5,1011.9 877.5,1011.6 876.5,1010.5 875.5,1009.2 874.5,1007.8 873.5,1006.5 872.5,1004.8 871.5,1003.2 870.5,1001.5 869.5,999 868.5,996.5 867.5,994.8 866.5,993.2 865.5,991.5 864.5,991.5 863.5,991.5 862.5,991.5 861.5,991.5 860.5,991.5 859.5,995.3 858.5,1000.3 857.5,1004 856.5,1004 855.5,1003.7 854.5,1003 853.5,1002.3 852.5,1001.7 851.5,1001.7 850.5,1001.7 849.5,1002.3 848.5,1003.3 847.5,1004.2 846.5,1004.8 845.5,1005.5 844.5,1003.5 843.5,1001.5 842.5,999.5 841.5,996.5 840.5,993.2 839.5,989.9 838.5,986.5 837.5,986.5 836.5,986.5 835.5,987.8 834.5,989.2 833.5,990.5 832.5,991.5 831.5,991.5 830.5,991.5 829.5,992.2 828.5,993.2 827.5,994.3 826.5,995.6 825.5,997 824.5,998 823.5,997.4 822.5,996.7 821.5,995.8 820.5,994.8 819.5,994.2 818.5,994.2 817.5,994.2 816.5,994.8 815.5,995.5 814.5,996.2 813.5,996.8 812.5,997.5 811.5,998.2 810.5,998.8 809.5,999.7 808.5,1000.7 807.5,1002 806.5,1004.2 805.5,1005 804.5,1002.8 803.5,999.8 802.5,996.7 801.5,995.8 800.5,995 799.5,994.2 798.5,993.4 797.5,992.6 796.5,991.8 795.5,991.8 794.5,991.8 793.5,992.1 792.5,992.9 791.5,991.4 790.5,989.9 789.5,989.3 788.5,989.3 787.5,989.3 786.5,990 785.5,990.4 784.5,988.7 783.5,987 782.5,986 781.5,985.2 780.5,984.4 779.5,984 778.5,984 777.5,984 776.5,984 775.5,984 774.5,984.9 773.5,985.9 772.5,986.9 771.5,987.9 770.5,988.9 769.5,989.9 768.5,990.9 767.5,992.8 766.5,995.8 765.5,995.2 764.5,994.4 763.5,994.4 762.5,994.4 761.5,995.4 760.5,996.4 759.5,996.5 758.5,996.5 757.5,996.5 756.5,996.7 755.5,998 754.5,999.2 753.5,999.4 752.5,999 751.5,999 750.5,999 749.5,999 748.5,999 747.5,999.8 746.5,995.3 745.5,990.9 744.5,987.1 743.5,983.2 742.5,979.4 741.5,979 740.5,979 739.5,979 738.5,979 737.5,979 736.5,979 735.5,979 734.5,979 733.5,979.1 732.5,980.1 731.5,981.1 730.5,981.5 729.5,981.5 728.5,981.5 727.5,981.8 726.5,982.4 725.5,983.1 724.5,983.8 723.5,984 722.5,984 721.5,984 720.5,984 719.5,984 718.5,984.6 717.5,985.6 716.5,986.8 715.5,988.8 714.5,990.8 713.5,994.3 712.5,991.3 711.5,986.7 710.5,986.7 709.5,986.7 708.5,988.4 707.5,989.2 706.5,987.2 705.5,987 704.5,987 703.5,987 702.5,987.9 701.5,988.7 700.5,990 699.5,991.5 698.5,992.9 697.5,992.2 696.5,991.3 695.5,989.3 694.5,987.3 693.5,985.1 692.5,982.9 691.5,981 690.5,979.8 689.5,977.9 688.5,975.1 687.5,973.4 686.5,972.4 685.5,971.4 684.5,970.4 683.5,969.4 682.5,969 681.5,969 680.5,969 679.5,969 678.5,969.6 677.5,970.6 676.5,972 675.5,977 674.5,982 673.5,985.6 672.5,988.3 671.5,989.4 670.5,986.9 669.5,985.1 668.5,983.4 667.5,981.7 666.5,981.5 665.5,981.5 664.5,981.5 663.5,980.3 662.5,978.3 661.5,976.5 660.5,976.5 659.5,976.5 658.5,976.5 657.5,976.5 656.5,976.5 655.5,977.7 654.5,979.7 653.5,981.5 652.5,981.5 651.5,981.7 650.5,983.7 649.5,985.7 648.5,988.5 647.5,991.8 646.5,995.1 645.5,998.5 644.5,999.7 643.5,1000.4 642.5,998.9 641.5,997.2 640.5,995.3 639.5,993.3 638.5,991.3 637.5,989 636.5,986.7 635.5,984.4 634.5,980.5 633.5,976.4 632.5,972.2 631.5,968.9 630.5,965.9 629.5,962.8 628.5,962 627.5,962 626.5,962 625.5,962.8 624.5,963.6 623.5,964.6 622.5,965.6 621.5,966.9 620.5,971.9 619.5,976.9 618.5,981.5 617.5,981.5 616.5,981.5 615.5,981.5 614.5,982.1 613.5,982.9 612.5,983.7 611.5,984.5 610.5,985.3 609.5,986.1 608.5,987.1 607.5,988.1 606.5,989 605.5,989.7 604.5,990.4 603.5,987.5 602.5,984.4 601.5,981.6 600.5,981.6 599.5,981.6 598.5,983 597.5,984.6 596.5,986.6 595.5,988.6 594.5,990.6 593.5,992.8 592.5,995.1 591.5,997.5 590.5,996.5 589.5,995.7 588.5,994.9 587.5,994.2 586.5,993.4 585.5,992.6 584.5,991.9 583.5,989.7 582.5,986.3 581.5,983 580.5,979.9 579.5,976.9 578.5,974 577.5,974 576.5,974 575.5,974 574.5,974 573.5,974.5 572.5,975.5 571.5,976.5 570.5,977.9 569.5,979.2 568.5,980.5 567.5,981.9 566.5,983.2 565.5,984.5 564.5,985.9 563.5,987.2 562.5,988.5 561.5,989.9 560.5,991.2 559.5,993.1 558.5,995.1 557.5,996.5 556.5,995.7 555.5,994.7 554.5,994 553.5,994 552.5,994 551.5,993.2 550.5,992.2 549.5,989.6 548.5,982.6 547.5,975.6 546.5,975.6 545.5,975.6 544.5,977.1 543.5,981.1 542.5,984 541.5,984 540.5,984 539.5,984.8 538.5,985.8 537.5,987 536.5,989 535.5,991 534.5,993 533.5,992.3 532.5,991.7 531.5,991.5 530.5,991.5 529.5,991.5 528.5,991.5 527.5,991.5 526.5,992.5 525.5,994.5 524.5,996.5 523.5,996.5 522.5,996.5 521.5,996.5 520.5,997.5 519.5,998 518.5,997.3 517.5,996.7 516.5,996.7 515.5,996.7 514.5,997.1 513.5,998 512.5,998.8 511.6,999.4 510.6,1000 509.6,1000.5 508.6,999.8 507.6,998.5 506.6,997.2 505.6,996 504.6,995 503.6,994 502.6,993.3 501.6,992.7 500.6,992 499.6,991.2 498.6,989.8 497.6,988.5 496.6,987.2 495.6,987.2 494.6,987.2 493.6,987.2 492.6,988.8 491.6,990.3 490.6,991.7 489.6,992.7 488.6,993.7 487.6,994.4 486.6,995 485.6,995.6 484.6,996.2 483.6,997 482.6,998 481.6,997.5 480.6,996.7 479.6,995.1 478.6,993.1 477.6,991.1 476.6,989.5 475.6,987.8 474.6,986.3 473.6,985.3 472.6,984.3 471.6,983.3 470.6,982.3 469.6,981.7 468.6,981.7 467.6,981.7 466.6,982.4 465.6,983.1 464.6,983.8 463.6,986 462.6,989 461.6,989.5 460.6,987.6 459.6,985.8 458.6,984.3 457.6,982.7 456.6,981.1 455.6,979.1 454.6,977.1 453.6,973.7 452.6,969.7 451.6,967.6 450.6,967.6 449.6,967.6 448.6,973.6 447.6,979.6 446.6,984.4 445.6,988.5 444.6,989 443.6,986.8 442.6,986.8 441.6,986.8 440.6,988.5 439.6,990.1 438.6,992 437.6,995 436.6,995.1 435.6,992.8 434.6,990.9 433.6,989.6 432.6,988.3 431.6,986.9 430.6,986.5 429.6,986.5 428.6,986.5 427.6,986.5 426.6,986.8 425.6,988.5 424.6,990.1 423.6,992 422.6,995.1 421.6,998.2 420.6,1001.3 419.6,1004.3 418.6,1007.3 417.6,1009.3 416.6,1010.1 415.6,1010.5 414.6,1009.7 413.6,1008.7 412.6,1006.7 411.6,1004.7 410.6,1002.4 409.6,999.9 408.6,997.4 407.6,995.5 406.6,994 405.6,992.4 404.6,992.3 403.6,992.3 402.6,992.3 401.6,994.3 400.6,996.3 399.6,998.3 398.6,999.4 397.6,997.8 396.6,996.2 395.6,994.2 394.6,992.2 393.6,991.5 392.6,991.5 391.6,991.5 390.6,991.5 389.6,991.5 388.6,993.2 387.6,995.9 386.6,998.6 385.6,999.6 384.6,999.4 383.6,999.4 382.6,999.4 381.6,1000.4 380.6,1000.2 379.6,999.6 378.6,998.9 377.6,998.2 376.6,997.6 375.6,996.9 374.6,995.7 373.6,993.7 372.6,991.7 371.6,990.3 370.6,989 369.6,987.7 368.6,986.1 367.6,983.1 366.6,980.1 365.6,978.2 364.6,976.8 363.6,975.5 362.6,974.2 361.6,974 360.6,974 359.6,974 358.6,974 357.6,974 356.6,974 355.6,974 354.6,974 353.6,974 352.6,974.7 351.6,976.7 350.6,978.7 349.6,979.6 348.6,980.2 347.6,980.9 346.6,981.7 345.6,983.4 344.6,985 343.6,986.5 342.6,986.5 341.6,986.5 340.6,986.5 339.6,987.1 338.6,987.7 337.6,988.4 336.6,989.2 335.6,991.2 334.6,993.2 333.6,995.2 332.6,997.1 331.6,998.6 330.6,997.8 329.6,994.5 328.6,991.5 327.6,991.5 326.6,991.5 325.6,991.5 324.6,991.5 323.6,992.7 322.6,994.7 321.6,996.7 320.6,997.9 319.6,991.9 318.6,986.3 317.6,983.8 316.6,981.8 315.6,981.8 314.6,981.8 313.6,985.2 312.6,988.5 311.6,992 310.6,997 309.6,1002 308.6,1006.7 307.6,1011.2 306.6,1014.2 305.6,1012.5 304.6,1010 303.6,1007.5 302.6,1006.5 301.6,1006.5 300.6,1006.5 299.6,1006.5 298.6,1006.5 297.6,1006.5 296.6,1006.5 295.6,1006.5 294.6,1006.5 293.6,1006.6 292.6,1007.3 291.6,1008.1 290.6,1008.9 289.6,1009.6 288.6,1010.2 287.6,1010.9 286.6,1011.6 285.6,1012.2 284.6,1012.9 283.6,1013.6 282.6,1014.6 281.6,1016.2 280.6,1017.9 279.6,1016.6 278.6,1014.3 277.6,1011.9 276.6,1009.1 275.6,1006.1 274.6,1003.6 273.6,1002.1 272.6,1000.9 271.6,999.9 270.6,999 269.6,999 268.6,999 267.6,999 266.6,999 265.6,999 264.6,999.6 263.6,1000.4 262.6,1001.2 261.6,1002.4 260.6,1004.1 259.6,1005.8 258.6,1007.4 257.6,1009.1 256.6,1010.8 255.6,1013.2 254.6,1016.3 253.6,1015.5 252.6,1010.9 251.6,1006.5 250.6,1005.6 249.6,1004.8 248.6,1004 247.6,1004 246.6,1004 245.6,1004 244.6,1004 243.6,1004 242.6,1004 241.6,1004 240.6,1004.6 239.6,1005.6 238.6,1006.6 237.6,1008.6 236.6,1010.6 235.6,1012.9 234.6,1015.4 233.6,1014.8 232.6,1014.2 231.6,1013.4 230.6,1012.6 229.6,1011.9 228.6,1011.1 227.6,1010.2 226.6,1009.4 225.6,1009 224.6,1009 223.6,1009 222.6,1009 221.6,1009.1 220.6,1010.3 219.6,1011.6 218.6,1012.9 217.6,1014.2 216.6,1015.6 215.6,1017.2 214.6,1019.7 213.6,1021.5 212.6,1019.5 211.6,1017.5 210.6,1016.5 209.6,1016.5 208.6,1016.5 207.6,1016.5 206.6,1016 205.6,1015.3 204.6,1014.7 203.6,1014 202.6,1014 201.6,1014 200.6,1014 199.6,1014 198.6,1014 197.6,1014 196.6,1014 195.6,1014.4 194.6,1015.2 193.6,1016 192.6,1016.5 191.6,1016.5 190.6,1016.5 189.6,1016.5 188.6,1017 187.6,1018 186.6,1017.7 185.6,1017 184.6,1016.9 183.6,1016.9 182.6,1016.9 181.6,1018.5 180.6,1019.8 179.6,1018.2 178.6,1016.5 177.6,1016.5 176.6,1016.5 175.6,1016.5 174.6,1016.5 173.6,1018.1 172.6,1021.2 171.6,1023 170.6,1023.4 169.6,1023.8 168.6,1024 167.6,1023.7 166.6,1023.2 165.6,1022.6 164.6,1022.1 163.6,1021.5 162.6,1021.5 161.6,1021.5 160.6,1021.5 159.6,1021.5 158.6,1021.5 157.6,1021.8 156.6,1022.2 155.6,1022.7 154.6,1023 153.6,1023.4 152.6,1023.7 151.6,1024 150.6,1024 149.6,1024 148.6,1024 147.6,1024 146.6,1024 145.6,1024 144.6,1024 143.6,1024.2 142.6,1024.5 141.6,1024.9 140.6,1025.2 139.6,1025.3 138.6,1025.3 137.6,1024.8 136.6,1024.3 135.6,1024 134.6,1024 133.6,1024 132.6,1024 131.6,1024 130.6,1024.5 129.6,1025 128.6,1025.6 127.5,1026.3 126.5,1026.9 125.5,1027.2 124.5,1026.9 123.5,1026.5 122.5,1025.9 121.5,1025.2 120.5,1024.5 119.5,1023.9 118.5,1023.1 117.5,1022.3 116.5,1021.6 115.5,1021.5 114.5,1021.5 113.5,1021.5 112.5,1021.5 111.5,1021.5 110.5,1021.5 109.5,1021.5Z" fill="#1f77b4" stroke="#1f77b4" stroke-width="5.30" stroke-linejoin="round"/>
<path d="M115.6 1001.8h0M122.1 1001h0M117.3 998.6h0M120.8 1000.5h0M117.9 995.8h0M118.3 997.1h0M119.1 997.5h0M121.5 995.9h0M123.3 996.4h0M126.8 998h0M131.6 997.2h0M130 995.6h0M131.4 996.2h0M130.2 994.9h0M136.4 990.7h0M132.6 990h0M132.8 985.6h0M132.8 988.2h0M135 987h0M135.8 989.3h0M137.6 989.7h0M138.5 988.9h0M140.1 990h0M142.7 989.7h0M142.6 986.7h0M143.9 990.3h0M146.6 989.8h0M148.2 990.4h0M149.4 988.3h0M149.6 989.8h0M150.6 986.1h0M151.7 987.9h0M159.4 987.9h0M158.3 983.8h0M160.4 983.5h0M159.6 983.4h0M161 980.9h0M158.8 978.1h0M159.5 981.3h0M160.8 981.8h0M161.7 980.9h0M161.7 982.2h0M161.7 982.5h0M166.5 979.3h0M167.9 978.3h0M169.8 979.6h0M169.9 976.9h0M168.9 976.1h0M175.8 962.8h0M170.6 971.3h0M170.4 969.6h0M178.5 967.8h0M177.9 965.8h0M170.7 969.9h0M172.1 965.3h0M177.9 972.8h0M172.6 966.7h0M177.9 971.6h0M179 964.1h0M177.6 972h0M172 941.8h0M178.6 953.4h0M173.8 940.8h0M171.8 956.2h0M178.8 957.3h0M176 949.5h0M171.6 955.2h0M178.1 944.9h0M176.9 947h0M180.3 947.2h0M171.5 954.3h0M178.6 942.2h0M174 950.1h0M174.1 948.9h0M176 948.8h0M177 942.4h0M177.9 947.4h0M178.3 944.6h0M179.4 946.8h0M181.5 950.2h0M181.2 943.8h0M182.2 941.9h0M189.1 938.9h0M186.8 934.9h0M189.6 932.3h0M185.4 933.6h0M193.5 932.8h0M188.8 920.1h0M191.8 924.6h0M191.2 922.6h0M190.9 918.4h0M195.2 916.6h0M196.3 918.6h0M195.5 916.3h0M189.6 908.6h0M196.2 913.3h0M196.8 911.2h0M198 911h0M197.2 909.9h0M192.9 904.5h0M192.7 899.2h0M195.1 904.4h0M194.1 901.1h0M191.4 900h0M198.1 885.1h0M194 896.8h0M198 887.5h0M195.9 884.1h0M196.1 885.3h0M197.2 896.1h0M192.1 886.1h0M192.3 884.7h0M196.4 885.3h0M199.3 892.6h0M198.7 894.2h0M192.6 892.1h0M196 891.8h0M191.7 896.6h0M198.9 885.9h0M195.7 890.7h0M196.2 879.9h0M199.5 879.2h0M201 882.1h0M198.8 882.8h0M194.1 887.4h0M195.2 879.7h0M196.2 878.1h0M195.7 882.9h0M196.8 881.8h0M198.8 886h0M200.1 886.6h0M200.6 885.6h0M197.7 881.7h0M200.6 883.3h0M194.5 880.2h0M198.6 877.6h0M199 879.6h0M198.2 880h0M201.8 880.3h0M193.3 887.8h0M200.4 885h0M192.8 885.9h0M197.7 882.9h0M198.3 880.1h0M194.8 885.4h0M204.1 899.6h0M199.2 891.6h0M202.8 896h0M197.8 898.7h0M195.2 896h0M196.6 889.4h0M202.1 904.2h0M203.1 902h0M195.5 902.3h0M203.7 900.3h0M199.7 909.9h0M198 920.6h0M205.6 919.7h0M199.1 913h0M195.8 913.3h0M196.9 917.1h0M202.3 920h0M201.5 917.5h0M205.3 913h0M203.4 917.5h0M200.3 916.3h0M202.2 918.6h0M202.3 926h0M204.6 922.7h0M206.2 929.7h0M206.9 932.4h0M208.5 931.2h0M215.1 931.6h0M219.4 932h0M222.6 927.7h0M224.2 925h0M219.3 923.7h0M219.2 916.5h0M217 918.8h0M217 918.3h0M221.2 904.6h0M225 906.8h0M221.8 913.8h0M224 904.3h0M218.7 909.5h0M225.5 910.7h0M219.6 908.3h0M221.8 897.9h0M225.4 901.2h0M221.2 894.5h0M221.5 899.8h0M225.7 903.2h0M218.6 901.5h0M223.3 897.6h0M219.5 898.5h0M218.6 895.8h0M223.5 894.4h0M223.5 894.3h0M224 893.1h0M224.6 902.3h0M226.3 894.5h0M225.9 896.4h0M225.6 900.7h0M226 899.6h0M223 895.9h0M227.6 899.6h0M227.3 906.1h0M224.8 901.6h0M228.6 898.5h0M227.1 905.8h0M222.2 901.1h0M228.2 899.4h0M227.8 900.9h0M224.5 900.9h0M224.1 901.7h0M225 912.9h0M230.6 913.3h0M223.4 914.9h0M228.4 913h0M227.4 910.1h0M230.1 909.6h0M227.2 918.3h0M232.8 921.7h0M237.8 922.5h0M239.5 917.4h0M243.5 915.7h0M241.9 918h0M236.7 908.6h0M237.9 908.6h0M244.3 903.9h0M245.9 908.7h0M244.2 918.6h0M239.7 895.6h0M246 898h0M247.1 902.2h0M244.6 899.5h0M240 895.9h0M237.9 900.5h0M240.9 896h0M239.4 899.9h0M240 897.4h0M238.8 897.3h0M240.3 894.1h0M241.2 895h0M240.8 896.1h0M243.1 898.2h0M244.5 894.3h0M245.3 894.4h0M246.6 895h0M249.4 902.7h0M247.6 899.8h0M245.1 896.4h0M242.2 897.2h0M242.5 902.5h0M248.8 904.1h0M243.4 905.3h0M252.4 907.1h0M243.4 906.5h0M255.7 916.1h0M257.4 918.2h0M258.4 915.3h0M250 911.1h0M254.5 912.6h0M255.5 910.2h0M252.8 910.3h0M250 914.5h0M267.1 916.1h0M264.4 902.8h0M268 901.4h0M264.2 890.2h0M271.3 901.6h0M271.3 896h0M265.3 891.9h0M263.2 904.4h0M264.7 897.1h0M269 892.6h0M261.8 898.2h0M269.2 898.5h0M263.7 906.8h0M263.9 896h0M263.7 892.4h0M269.5 897.7h0M264.8 901h0M263.9 893.8h0M270.5 890.8h0M266.4 884.5h0M268.9 885h0M267.7 871.3h0M271.7 874.5h0M264.2 875.1h0M267 879.1h0M265.8 871.5h0M265.8 881.5h0M270.2 885.9h0M269.1 877.4h0M263.6 867.8h0M269.8 884.2h0M263.9 877.4h0M266.6 872.3h0M272.4 876.2h0M274.2 876.9h0M269 890.5h0M269 897.6h0M268.6 905.3h0M274.2 902.3h0M274.6 867.8h0M265.7 888.1h0M274.5 903.7h0M265.6 877.1h0M271.6 871.9h0M273 873h0M267 892.6h0M274.3 885.8h0M268.8 899.1h0M269.4 901.8h0M269.5 903.6h0M272.2 882.4h0M266.7 872h0M270.1 871.2h0M267.6 887.8h0M276 903.6h0M268.8 898.5h0M274 893.8h0M276.5 908.1h0M277 909.1h0M275.3 912.9h0M278 908.2h0M274.5 911.6h0M272.9 913.7h0M277.2 911.7h0M272.7 915.3h0M274.9 915.5h0M275.4 915.4h0M281.2 913.6h0M282.7 914.7h0M283.8 924.5h0M284.4 923.7h0M284.6 920.3h0M287.5 920.4h0M285.9 920h0M285.7 921h0M289.9 916.6h0M289.2 919.8h0M286.6 921.8h0M286.8 922.8h0M287.8 922.6h0M292.8 921.9h0M294.5 925.6h0M286.9 926.2h0M290.5 927.5h0M295.1 927.2h0M290.6 931.4h0M296.3 929.4h0M296.4 929.6h0M296.7 929.8h0M299 932.8h0M299.4 935.4h0M302.7 938.5h0M302.8 935.8h0M304.1 932.2h0M298.2 939.2h0M296.9 939.8h0M302.8 932h0M294.9 938.3h0M304.2 935.2h0M294.4 932.8h0M302.5 936.6h0M302.1 939.2h0M302.6 944.2h0M302.9 944.6h0M316.7 921.7h0M311 908.8h0M314.2 938.7h0M312.7 938.4h0M313.6 936.6h0M313.7 927.2h0M311.3 918.9h0M312.5 930h0M309.3 935.5h0M313.1 921.7h0M309 902.7h0M316.1 900.4h0M312.9 911.6h0M311.3 920.2h0M309.9 938h0M312.8 925.6h0M313.5 933.8h0M315.2 937.3h0M315 935.1h0M317.4 919.7h0M314.7 905h0M315.7 920.6h0M313.3 904.8h0M308.9 908.4h0M311.1 916.6h0M310.4 918h0M315.3 915.3h0M316.7 933.3h0M314.5 907.1h0M310 913.2h0M316 876.3h0M312.5 875.4h0M311.3 855.4h0M318 868.2h0M314.6 871.4h0M310.5 894.2h0M313.4 868h0M311.4 854h0M315.7 894.3h0M311.7 891.3h0M314.4 890.6h0M319.4 872.2h0M318.8 888.1h0M319 855.5h0M317.1 881.7h0M314.2 887.5h0M315.4 856.2h0M315.3 880.3h0M317 889.5h0M314.3 893.7h0M316.7 886.9h0M314.5 859.5h0M314.2 891.4h0M313.5 876.9h0M314.4 873.2h0M316.3 853.6h0M314.2 884h0M318.9 864.2h0M316.6 899.9h0M317.5 880.1h0M316.5 866.6h0M317 854h0M311.7 862.8h0M309.7 894.6h0M315.2 889.2h0M318.6 830.6h0M319 833.1h0M319.3 831.8h0M315.2 845.6h0M319.4 831h0M314.1 845.5h0M318.3 844.7h0M313.7 846.8h0M314.1 846h0M316.7 835.2h0M314.3 831.7h0M315.7 829.1h0M318.9 840.5h0M312.1 826.4h0M311.4 825.4h0M317.5 824.1h0M318.3 823.4h0M314.1 829.3h0M319 826.8h0M320.2 820.1h0M320.8 828.5h0M325.5 823.9h0M325.2 821.4h0M326.5 828.5h0M316.6 822.6h0M323.2 823.1h0M322.3 823.3h0M318.3 824.4h0M327.4 832.9h0M318 835.5h0M321.7 840.6h0M323.2 825h0M324 832.6h0M319.2 839.4h0M318.5 829.5h0M327.6 854.4h0M326.7 851.4h0M324.2 844.3h0M325.2 851.6h0M323.1 844h0M328 846.1h0M325.1 849.8h0M328.4 851.3h0M319.2 845.4h0M323 851.9h0M328.5 847.5h0M328.2 865.9h0M320.1 866.1h0M323 855.2h0M327 863.7h0M322.9 857.3h0M321.3 861.7h0M329.1 859.1h0M320.6 856.4h0M321.5 861.5h0M326 862.5h0M329.2 861h0M327.2 863.1h0M333 870.3h0M333.4 875.4h0M334 877.3h0M334.6 872.6h0M330.1 876.6h0M335.8 875.5h0M330.4 877.2h0M333.9 874.1h0M327.7 875.6h0M325.8 870.8h0M334.2 872.5h0M330.6 873.2h0M329.2 874.7h0M334.3 877.6h0M329.1 881.8h0M329.1 879.5h0M328.2 888.1h0M331.2 882.7h0M331.4 886.7h0M327.6 889.8h0M333.4 881h0M329.9 880.5h0M331.2 888.5h0M327.2 880.3h0M335.4 883.6h0M330.3 881.7h0M327.5 888.3h0M333.8 892.7h0M336.1 891.9h0M338.9 890.6h0M342.1 896.4h0M346.4 894.1h0M350 886.4h0M352.3 885.2h0M347.7 886.2h0M350.5 883.4h0M351.9 881.8h0M350.5 881.5h0M346.6 887.2h0M347.8 889.2h0M348.5 883.6h0M348.3 885.6h0M347.6 885.8h0M349.1 886.6h0M350.4 881.6h0M355.3 875.8h0M361.7 872.4h0M361.6 872.1h0M360.1 871h0M357 874.3h0M353.2 864.2h0M359.3 874.4h0M355.4 875.2h0M359.5 869.1h0M356.5 873.7h0M355 867.3h0M358.1 877.3h0M357.3 863.4h0M353.6 874.9h0M359.2 865.1h0M353.5 872.9h0M353.4 863.2h0M352.9 866.8h0M354.5 863.8h0M356.4 863.5h0M357.5 863.8h0M359.3 868.4h0M360.3 862.1h0M359.9 868.5h0M361.3 865.1h0M361.9 870.2h0M363.1 869.4h0M364.5 869.2h0M365.6 862.4h0M366.5 865.1h0M365.8 866.9h0M359.6 869.4h0M364.1 872.5h0M366.2 866.8h0M362.1 875.5h0M358.5 865.8h0M362.6 863.6h0M362.4 866.6h0M360.3 863.7h0M359.2 872.8h0M361.4 868.4h0M359.9 870.1h0M358.8 883.3h0M359.6 885.5h0M358.8 880h0M363.2 883.1h0M369.4 886.5h0M365.4 889h0M382.9 890.5h0M378.9 890.5h0M383 890.3h0M375 889.1h0M380.2 880.1h0M376.2 884h0M381.3 876.1h0M381.1 873.7h0M380.1 878.6h0M384.7 878.2h0M383.1 871.8h0M378.7 868.8h0M383.9 872.4h0M380.2 872.3h0M381.3 874.1h0M383.2 866.9h0M383 875.1h0M385.5 872.2h0M384.6 868.2h0M385.6 874.7h0M387.2 870.9h0M389.4 871.4h0M392.1 859.1h0M391.7 864.7h0M399.8 863.4h0M391.4 859.2h0M391.9 864.3h0M392 865.2h0M392.8 866.3h0M396.4 863.8h0M397.4 861.9h0M403.2 860.6h0M402.8 863.5h0M405.1 866.3h0M405.8 865.1h0M400.2 874.7h0M398.6 861.6h0M403.7 859.6h0M399.9 875h0M406.3 874h0M400.6 861.9h0M397.1 860.8h0M400.2 864.1h0M402.7 862.1h0M401 860.4h0M404 864.7h0M403 875.3h0M403.1 864.1h0M403.7 875.8h0M401.5 861.3h0M398.3 879.2h0M397.6 879.3h0M405 880.5h0M401.5 883.8h0M398.7 884.5h0M412.4 892.1h0M412.6 893.9h0M413.7 894.4h0M414.3 892.3h0M406.2 892.9h0M413 889.5h0M409.8 889.2h0M410.6 896.9h0M425.7 898.7h0M420.1 893.9h0M422.1 867.5h0M421.3 869.8h0M423.1 884h0M422.9 882.2h0M428.3 891.1h0M424.3 887.5h0M429.3 868.5h0M423.2 871.7h0M425.8 881.7h0M427.3 874.3h0M420 867.3h0M423.1 874.1h0M421.3 873h0M424.2 887.8h0M425.1 880.9h0M420.3 870.3h0M426.1 854.8h0M421.4 865.7h0M421.8 851h0M426.5 851.8h0M425.5 861.9h0M422.6 852.4h0M422.3 857.1h0M425.2 863.1h0M421 862.2h0M424.7 859.1h0M425.4 850.7h0M426.7 863.9h0M429.5 857.7h0M421.4 853.3h0M429 865.6h0M426.3 862.3h0M423.9 849.6h0M421.6 854.5h0M422.7 847.9h0M433.4 843.2h0M434 842.4h0M429.7 847.2h0M433.6 841.6h0M435.9 826.5h0M428.2 832.9h0M435.1 832.9h0M427.7 836.4h0M430.2 828.6h0M436.4 825.2h0M432.5 838.3h0M428.9 834.7h0M431.7 824.9h0M429.2 834.8h0M431.7 828.6h0M434.3 821.6h0M430.7 822.8h0M435.9 825.2h0M434.9 823.5h0M434.9 821.5h0M428 818.2h0M436.7 817.4h0M432.9 817.6h0M433.4 819.6h0M433.5 816.9h0M428.7 818.3h0M432.6 825.2h0M433.8 822.5h0M434.1 816.2h0M435.4 824h0M436.2 825.1h0M437.5 817.6h0M441.1 822.4h0M439.8 825.3h0M439.6 816.7h0M441.1 816h0M441.4 815.8h0M442.1 822.3h0M444.4 824.8h0M445.5 816h0M446.3 817.5h0M454.4 820.7h0M449.3 816.1h0M454.5 822.1h0M457.4 820.7h0M456 822.8h0M454.8 824.1h0M456.5 821.1h0M453.8 822.5h0M456.3 822.7h0M460.3 824.1h0M459.2 825.2h0M464.8 825.2h0M479.5 817.2h0M477.7 821.1h0M470.1 820.3h0M469.7 822.7h0M472.1 813.7h0M479.7 799.9h0M478.2 808.3h0M477.7 800.3h0M471 807h0M477 806.8h0M471.3 803.3h0M474.4 800.5h0M479.1 803.8h0M476.4 812.5h0M477.6 809.7h0M472 801.2h0M476.8 804h0M476.3 810.9h0M476.5 807.6h0M477.3 805.9h0M475.6 812.3h0M474.1 803.2h0M479.4 795.6h0M471.5 795.4h0M474.3 792.4h0M471.6 793.2h0M472.2 791.2h0M473.2 788.7h0M481.2 794.6h0M473.4 790.2h0M473.8 793.1h0M474.6 790.5h0M475.2 790.2h0M475 796.8h0M476.1 796.6h0M478.5 795.4h0M478.5 795.6h0M479.4 791.5h0M479.7 789.7h0M479.7 794.4h0M479.6 792.2h0M473.7 803.4h0M474 804.1h0M478 798.9h0M477.1 798.1h0M473.1 802.3h0M474.2 791.4h0M475.6 794.6h0M474.8 801.8h0M477.3 789h0M478.8 792.9h0M476.8 794.2h0M477.1 809.7h0M483.5 809.1h0M478.2 811.8h0M481.3 809.4h0M484.8 810.1h0M485.4 815h0M485.6 811.6h0M487.1 814h0M488 814.6h0M491.3 813.5h0M493.6 812.7h0M487.5 811.3h0M489.9 813.9h0M492.9 815.3h0M486.5 819h0M490.5 814.6h0M494.6 819.5h0M488.4 821.1h0M496.2 821.5h0M492.9 827.3h0M496.8 826.3h0M491 830.3h0M491 830.5h0M493.4 829h0M504.7 828.4h0M504.4 827.2h0M509.4 827.8h0M503.2 825.7h0M504.2 826.2h0M500.6 830.4h0M502.4 829.5h0M503.1 831.4h0M503.1 826.5h0M503.6 828.3h0M505.6 829h0M508 828.4h0M508.7 829.2h0M507.2 826.6h0M506.1 831.4h0M505.4 833.1h0M504.2 830.8h0M505.4 831.6h0M511.4 829.8h0M510.7 829.9h0M508.8 831.3h0M503.8 836.2h0M502.6 839.7h0M511.5 841.2h0M507.9 843h0M506.7 840.8h0M505.7 843.4h0M504.1 836.5h0M503.4 838.2h0M509 840.1h0M507.7 839.3h0M505.1 838h0M506.4 846.3h0M512.8 844.2h0M504.8 851.6h0M507.3 846.4h0M513.7 850.2h0M513.1 844.5h0M510.4 853.6h0M511.9 854.5h0M507.8 856.5h0M525.8 850.7h0M520.8 852.5h0M516.4 851.6h0M519.8 853.5h0M520.9 845.8h0M520.9 846.1h0M525.7 848.5h0M518.5 848.4h0M518.9 847.6h0M519.2 840.6h0M526 842.9h0M519.1 841.7h0M524.4 837.3h0M526.1 838.3h0M522.1 835.7h0M520.9 838.9h0M525 836.2h0M527.2 838.5h0M526.9 833.6h0M522.6 835.9h0M525 837.6h0M525.3 837.3h0M525.5 839.5h0M525.8 838.2h0M526.9 831.7h0M527.3 832.2h0M528.3 837.7h0M530.2 828.4h0M533.5 827.8h0M531.7 823.5h0M537 830.1h0M538.8 829h0M540.2 813.5h0M537.7 817.8h0M533.6 819.7h0M535.3 816.7h0M535.6 820.8h0M532.6 809h0M533.6 802.1h0M539.8 808.7h0M534.5 805.8h0M537.4 805.5h0M534 811.9h0M533.2 806.4h0M541.9 791.7h0M534.2 794h0M542.4 794.9h0M537.4 796h0M535.2 792.1h0M539.4 801.6h0M539 801.5h0M540.5 793.6h0M538 801h0M533.3 799.2h0M540.5 797.5h0M533.5 799.2h0M532.8 799.6h0M534.7 795.1h0M540.1 796.5h0M542.1 797.9h0M542.5 798.2h0M534.2 796.4h0M533 793.6h0M540.6 793.4h0M538.6 800.7h0M540.3 799.3h0M539.9 799.3h0M534.2 797.3h0M539.4 793.4h0M540.4 802.5h0M542.1 800.5h0M539.8 797.9h0M537 791.1h0M539.9 803.8h0M536.7 796.7h0M535.8 819.5h0M534.2 809.7h0M542.4 810.9h0M541.3 826h0M537.7 822.2h0M540 811.2h0M538.9 805.4h0M540.2 805h0M541.5 827.1h0M537.7 816.1h0M536.3 814.9h0M543.3 814.4h0M535 836.6h0M535.7 837.2h0M540.8 844.2h0M537.1 835h0M540.9 834.6h0M543 841.1h0M543.6 844.3h0M541.7 846.5h0M544.3 848.6h0M542.8 850.7h0M539.1 853.6h0M547.6 852.9h0M541.5 853.2h0M543.1 852.4h0M543.3 852.5h0M548.7 863.4h0M551.2 864.7h0M554.4 858.3h0M550.7 858h0M548.3 859.7h0M549.4 859h0M554.4 858.9h0M551.1 861.8h0M553.1 856.9h0M547.7 862.4h0M555.1 861.6h0M550.9 864.7h0M552.2 865.8h0M549.3 868.9h0M555.1 865.6h0M558.4 867.8h0M558.3 867.7h0M559.5 867.7h0M561.8 869.2h0M570.6 869.4h0M565 869.1h0M567.3 863.7h0M580.2 859.5h0M581.9 857.5h0M573.3 854.8h0M573.8 855.9h0M572.8 854.3h0M575.8 853.3h0M579.2 848.5h0M576 846.5h0M577.7 848.3h0M584 848.8h0M576.7 853.4h0M577.1 853.2h0M577.6 855.2h0M580.7 851.6h0M583.9 842.1h0M589.3 838.6h0M590.1 838.6h0M591.8 839h0M592.6 837.8h0M588.9 837.5h0M586.1 836.9h0M584.7 842.2h0M585.2 843.5h0M589.1 837.3h0M588.6 842.5h0M590.3 839.4h0M592.3 840.2h0M593.1 839.2h0M595.5 842.6h0M595 835.6h0M593.3 836.3h0M595.7 836.3h0M592.4 836.7h0M590.2 842.2h0M589.4 841.8h0M596 837.1h0M590.3 846.2h0M595.4 841.4h0M591.4 848.7h0M594.4 849h0M589 849.1h0M594.5 846h0M591.5 855h0M598.5 850.3h0M595.4 849.3h0M590.7 856h0M595 856.6h0M593 859.6h0M600.5 855h0M591.2 858.6h0M597.5 859.1h0M598.8 861.8h0M597.4 863.4h0M599.8 860.5h0M592.8 861h0M595.2 861.6h0M603 872.3h0M605.3 868.5h0M608.5 868.5h0M609.1 867h0M609.5 866.6h0M610.3 866.9h0M606.4 865h0M604.4 866.5h0M609.3 866.8h0M605.6 870.9h0M611.7 870.8h0M602.7 873.7h0M605.5 876.4h0M605.9 876.3h0M611.9 875.4h0M606.6 880.3h0M603.5 877.8h0M607.5 879.9h0M606.1 873.5h0M611.7 886.2h0M609.1 885.7h0M605.1 888h0M608.9 888.4h0M611.2 884.9h0M611 894.5h0M613.1 889.3h0M609.5 894.7h0M612.4 889.5h0M613.4 890h0M613.3 889.2h0M607.5 894.5h0M612.3 896.7h0M613.9 897h0M614.3 898.6h0M613.5 897.4h0M612.3 899h0M610 902h0M616.4 899.3h0M620.7 900.9h0M629.4 899.8h0M627.5 898.4h0M626.4 896.6h0M630.6 893.7h0M620.7 899.4h0M623.7 902.3h0M625.3 901.2h0M628.4 895.5h0M627.3 886.9h0M628.5 885.3h0M624.3 889.5h0M622.9 888.1h0M628 889.4h0M623 892.2h0M624.4 882.1h0M629.2 887.4h0M625.4 883.8h0M625.1 887.2h0M630.4 883.4h0M626.3 890.3h0M626.1 874.7h0M625.9 872.8h0M622.1 881.2h0M627.9 873.1h0M631.1 871.8h0M628.5 872.9h0M627.6 880.7h0M624.8 880.7h0M623.2 880.6h0M625.4 868.7h0M625.4 870.1h0M627.1 870.4h0M633.2 864.4h0M628.8 862.3h0M625 863.8h0M625.8 862.5h0M627 859.4h0M628.7 860.1h0M630.6 860.8h0M630.8 860.7h0M631.5 859.5h0M635.5 854.4h0M631.2 856.2h0M630.8 856h0M636.4 850.2h0M636.6 851.7h0M630.6 847.9h0M634.9 852.6h0M629.4 833.6h0M633.7 830.5h0M635.1 844.7h0M631.1 832.9h0M633.2 843.2h0M629.9 830.9h0M635.3 839.3h0M630.4 838.2h0M638.6 824.1h0M637.7 823.9h0M637.8 818.9h0M637.5 823.4h0M635.8 824.3h0M637.2 814.5h0M631.1 824.5h0M636.9 814.9h0M633.4 814.4h0M630.5 823.5h0M635.6 823.2h0M631 817.1h0M639.2 813.7h0M637.3 827.1h0M635.9 824.9h0M634.6 796.5h0M636 809.7h0M635.4 803.6h0M634.2 810.5h0M633.3 803.3h0M637.1 802.3h0M634.4 781.1h0M638.1 788.9h0M638.5 786.9h0M640.7 779.8h0M639.4 789.4h0M638.8 792.2h0M637.8 781.9h0M640.8 787.8h0M631.9 781.4h0M631.5 788.2h0M637.7 793.9h0M636 792.3h0M638.9 790h0M633.7 781.4h0M632.4 782.7h0M639.5 764.7h0M641.6 775h0M634.5 768.7h0M639.9 762.9h0M640.1 770.3h0M637.5 772.8h0M638.8 765.6h0M639.5 760.4h0M638.7 764.6h0M635.4 773.6h0M637.4 754.9h0M635.4 756h0M641 757h0M633.7 759.7h0M640 756.9h0M640.9 760h0M641.9 757.6h0M640.7 757.1h0M636.7 748.6h0M635 745.2h0M636.5 750.3h0M635.9 745h0M637.4 746.4h0M637.9 745.9h0M637.6 748.9h0M642 752.4h0M642 745.6h0M643 745.5h0M640.1 756.7h0M641.4 751.2h0M638.9 745.9h0M634.3 747.9h0M639.4 748.6h0M634.1 754h0M636.6 748.2h0M637.3 780.5h0M635.6 759.1h0M638.3 760.1h0M635.2 768h0M641 774.1h0M639.3 760.8h0M637.6 793.8h0M641.1 789.8h0M642.1 757.8h0M643.4 796.5h0M639.1 784h0M642.3 783.2h0M639.1 784.3h0M637.5 775.6h0M642.1 782h0M636.1 774.7h0M642 760.6h0M642.1 768h0M640.6 769h0M638.3 775.4h0M644.2 790.9h0M642.7 784.2h0M637.9 770.7h0M641.1 760.3h0M637.4 787.9h0M642.6 767.6h0M638.2 763.2h0M641.9 759.6h0M640.7 787.2h0M639.5 783.2h0M641 761.9h0M639.9 775.6h0M637.3 778.6h0M639.5 817.8h0M644.3 803.8h0M645.1 824.9h0M643 815.6h0M638.8 829.5h0M643.6 808.7h0M637.5 803.8h0M643 812.8h0M639.5 811.6h0M641.6 811.6h0M641.9 814h0M643.7 826.8h0M643.1 799h0M645.5 827.6h0M642.2 826h0M637.3 803.8h0M639.3 825.5h0M644.9 823.5h0M638.8 820.6h0M637.7 797.8h0M643.9 808.4h0M643.8 822.9h0M643.3 830.5h0M643.8 797h0M638.4 832.8h0M637.9 837.3h0M639.8 838.2h0M645.4 835.7h0M639.8 838.9h0M638.5 838.2h0M646.3 835.1h0M641.2 832.3h0M641.9 836.7h0M641.3 837.1h0M645.5 835h0M640.6 844.9h0M637.7 839.6h0M645.1 839.6h0M647.5 849.7h0M639 849.3h0M644.5 848h0M642.2 851.3h0M641.5 849.1h0M640.1 850.7h0M639.3 847h0M652.6 851.7h0M654.2 852.9h0M653.2 846.7h0M659.5 842.7h0M659.8 843.5h0M654.4 843h0M658.9 847.3h0M659.8 837.7h0M660.3 838.3h0M651.2 847.1h0M655.8 848.6h0M657.9 840.7h0M655.6 844.8h0M657.8 847.6h0M654.8 832.1h0M661.7 833h0M657.8 832.2h0M653.5 835.4h0M659.7 824.3h0M655.1 827.8h0M661.7 830.3h0M656 826.6h0M657.2 828h0M655.2 834.4h0M661.4 829.5h0M655.4 823.9h0M660.5 832.9h0M656.5 816.4h0M656.6 818.5h0M663.4 816.4h0M661.3 817.7h0M659.8 816.9h0M654.8 816.4h0M655.7 815h0M655.3 822h0M658.5 818.5h0M654 816h0M659.6 823.1h0M660.5 818.4h0M661.1 821.2h0M656.4 818.1h0M654.3 815.8h0M654.2 821.2h0M655.6 815.6h0M655.6 821.2h0M658.2 815.8h0M659 820.6h0M660.9 815.4h0M659 817.9h0M662.6 816.1h0M654.5 818.5h0M657.1 816.4h0M654.9 819.6h0M660.3 825.1h0M661.8 823h0M665.1 823.6h0M664.1 826.3h0M679.2 826.8h0M678.6 825.7h0M680.8 810.4h0M677.1 811.3h0M677.1 805.3h0M681.4 815.8h0M683.5 810.1h0M674.6 811h0M677.2 817.7h0M681.9 814.3h0M678.5 805.8h0M682.5 806.2h0M681.7 812.4h0M680.2 793.8h0M679 795.3h0M681.6 794.3h0M676.3 801.2h0M678.5 796.1h0M683.5 800.2h0M681.1 795.7h0M675.5 801.9h0M676 796.3h0M676.9 796.1h0M678.1 802.8h0M680.9 797.1h0M681.8 801h0M684.4 797.3h0M680.6 802.7h0M676.3 804h0M678.9 804.1h0M675.7 802.2h0M688.1 805h0M693.3 810h0M692.8 810.5h0M692.9 807.9h0M689.1 807.1h0M691.4 808.6h0M692.7 808.6h0M686.2 814.2h0M688.3 815h0M687.2 813.3h0M691.2 814.6h0M695 813.4h0M702.7 812.2h0M703.8 811.6h0M703.6 813.2h0M702 810.3h0M698.6 811.2h0M701.7 797h0M699.5 799.7h0M704.4 798.2h0M703.1 802.5h0M708.6 793.1h0M704.6 788.7h0M702.2 790.3h0M703.9 786.1h0M703.5 787.7h0M706.9 789h0M706.9 787.2h0M709.2 791.9h0M704.3 787.7h0M704.3 788.6h0M706.9 789.6h0M704.5 793.2h0M705.4 792.4h0M710.1 789.4h0M706.5 793.4h0M705.3 791.9h0M713.1 796.9h0M708.7 801.4h0M708.5 803.4h0M713 803.4h0M713.3 801.4h0M711.8 805.2h0M706.8 807.2h0M708.9 806.2h0M708.2 810.4h0M706.8 812.3h0M712.9 812.2h0M722.8 809.3h0M726.2 815.7h0M722.8 817.1h0M726.6 815.8h0M725.8 809.2h0M721.6 811.8h0M719.3 804.7h0M720.2 800.9h0M719.7 801h0M728.3 798.4h0M723.9 797.2h0M720.1 798.7h0M727.6 801.5h0M720.2 795.6h0M725.8 803h0M728.7 800.9h0M728.8 786.4h0M723.9 792.8h0M726.1 793.7h0M727.8 792.7h0M722.9 787.7h0M728.9 785.6h0M728.2 793.3h0M723.8 780.9h0M726.2 779.3h0M722.9 787.3h0M723 779h0M726.5 782.3h0M729.1 782.5h0M728.7 783h0M729.5 784.6h0M731.5 783.2h0M722.9 781.3h0M743.6 766.5h0M734.7 771.3h0M735 777.9h0M742.2 769.7h0M739.6 775.9h0M736.4 765.8h0M742.3 770.7h0M739.8 769.2h0M738.9 779.5h0M738.2 766.6h0M737.7 776.2h0M740.9 773.4h0M739.3 770.4h0M736.9 779.1h0M737.7 776.2h0M736.5 763.3h0M740.4 759.5h0M740.4 757.7h0M741.4 756.9h0M739.4 758.4h0M738.3 761h0M734.8 755.9h0M737.3 754.5h0M740 761.9h0M740.4 759.3h0M741.4 754.8h0M741.7 759.4h0M744 755.7h0M742.2 756.6h0M743.9 770.2h0M739.4 768h0M742.9 765h0M742.4 769.3h0M743.3 763.7h0M741 766.1h0M739.8 761.8h0M736.3 763.2h0M738 768.6h0M734.9 767.1h0M740.7 784.4h0M739.4 787.5h0M745.8 786.9h0M741.6 777.5h0M742.1 775.8h0M742.9 784.7h0M736.3 785.7h0M741.5 781.1h0M738.7 777.3h0M735.8 776.9h0M736.6 774h0M738.8 779.7h0M740.4 779.7h0M743.5 778.6h0M739.1 787.4h0M738 801.2h0M740.5 797h0M744.7 804.8h0M745.6 795.2h0M737.1 799.3h0M742.4 803.6h0M743.7 793.5h0M743.6 799h0M742 794.9h0M745.1 790.1h0M739 803.6h0M746.5 799.5h0M740.1 796.2h0M744.1 794.8h0M743.8 797.9h0M742.6 791.8h0M740.5 805.5h0M741 800.4h0M742 800.3h0M741.1 812.5h0M742.7 822.7h0M746.9 820.4h0M741.9 823.6h0M743.4 815.6h0M743.5 807.2h0M744.6 810.4h0M740.7 812.6h0M738.7 813.7h0M747.1 817.7h0M742.5 814.2h0M745.1 809.3h0M740.6 829.7h0M745.1 827h0M743.6 825.3h0M746.8 826.7h0M745.7 833.6h0M747.1 833h0M742.7 837.5h0M743.8 839h0M743.2 840.4h0M744.5 842.9h0M745.6 842.8h0M745.5 846h0M747.5 845h0M752.2 848.4h0M752.2 849.4h0M747.1 852.2h0M751.4 851.3h0M754.8 853.3h0M751.7 858.8h0M754.8 859.7h0M753.1 860.5h0M748.4 858.9h0M752.8 862.3h0M747.3 858.9h0M754 855.9h0M753.9 866.9h0M748.8 867h0M751.2 863.4h0M756.4 864.1h0M750 873.8h0M756.4 868.8h0M757.8 869.6h0M756.4 870.7h0M760.4 870.4h0M760.9 871.8h0M760 870.9h0M762 871.6h0M765.7 875.2h0M767.2 876.8h0M772.2 869.5h0M769 863.2h0M773.1 864.2h0M772 862.7h0M766.6 862.5h0M770.7 857.5h0M776.6 859.4h0M775.1 854h0M768.7 854.2h0M769 854.3h0M771.1 859.6h0M771.6 860.5h0M773.8 855.8h0M782.1 853.1h0M783.7 854.9h0M786.6 847.7h0M785 848.2h0M779.1 849.7h0M779.7 851.4h0M783.7 849h0M786 850h0M783.2 850.4h0M787.4 852.3h0M784.3 849.1h0M785.3 861.5h0M781.3 866.4h0M786.7 858.7h0M780.4 856h0M786.6 856.3h0M783 859.9h0M785.6 865.9h0M780.7 862.6h0M780.4 857.4h0M785.7 856.3h0M780.9 860.9h0M782.8 864.5h0M783.7 858h0M785.3 869.9h0M781.8 867.8h0M787.6 868.7h0M781 870.2h0M783.1 876.9h0M782.4 875.4h0M783.6 873.1h0M782.9 880.5h0M784.7 879.1h0M784.7 881.9h0M785.2 885.9h0M787.2 882.9h0M786.3 892.5h0M792.8 895.5h0M789.4 895.1h0M789 894.8h0M792.1 893.8h0M791.8 897.4h0M795.2 898.1h0M798.3 900.7h0M799.1 902h0M793.7 907.3h0M797.2 904.3h0M799.8 901.7h0M795.8 907.3h0M798.1 909.1h0M804.3 907h0M807.3 913.7h0M807.6 906.7h0M808.8 909.4h0M805.5 909h0M803.8 909.9h0M805.5 923.7h0M808.1 923.2h0M808.8 916.3h0M802.2 915.9h0M807.3 921.6h0M805.5 913.3h0M804.4 917.8h0M804.5 912.9h0M807.8 923.8h0M800 917.4h0M802.2 917.9h0M803.4 921.9h0M808 920.2h0M808 933.6h0M807.9 933h0M809.9 929.6h0M809 929.7h0M808.8 929.6h0M814.1 935.8h0M816.1 942.9h0M819.2 939.3h0M818.1 939.4h0M821.2 939.7h0M820 941.1h0M831.1 937.1h0M833.2 939.7h0M826.7 930.3h0M834.5 935.7h0M827.1 933.3h0M827.5 928.7h0M831 931.7h0M832.1 932.7h0M836 931.9h0M834.8 930.3h0M830.3 927.3h0M834.5 929h0M834.4 925.8h0M828.6 922.1h0M831.1 922.7h0M828.5 920.7h0M832.6 922h0M828.1 922h0M838.2 921.2h0M836.8 914h0M832.8 908.7h0M834.3 913.3h0M837.2 917.1h0M836.3 896.5h0M831.2 894.5h0M840.1 898.3h0M834.1 899.6h0M834.7 888.6h0M839.1 902.4h0M839.4 887.5h0M835.7 891.5h0M831.6 901.3h0M835 902.1h0M832.5 887.9h0M831.7 894.9h0M836.4 898.8h0M838.6 892.3h0M833.6 901.4h0M830.9 892h0M831.6 881.9h0M839.3 875.7h0M833.4 877.4h0M839.3 885.4h0M840.4 884.4h0M838.5 883.9h0M833.8 879.9h0M838.3 884h0M834.5 882.1h0M837.7 882.6h0M841 879h0M831.8 879.8h0M837.6 874.6h0M834.2 871.5h0M835.8 876.8h0M840.9 876.7h0M841.9 878.1h0M841.5 874h0M842.1 873.7h0M834.9 872.9h0M837.1 876.3h0M842.5 880.8h0M840.7 892.4h0M839.8 885.7h0M842 893.2h0M837 890.2h0M840.2 891.7h0M844 891.2h0M841.1 885.1h0M841.9 891.8h0M837.3 900.4h0M839.7 903.7h0M841.3 897.3h0M843.6 897.6h0M838.9 901.2h0M845.5 899.9h0M840.9 903h0M845.3 896.1h0M845.1 900.2h0M840.3 898.4h0M844.4 903.8h0M844.8 900.1h0M845.1 894.7h0M841.8 899.4h0M846.3 909.7h0M843.8 908.4h0M844.3 904.2h0M842.7 911.8h0M846.9 912.7h0M844.8 907.6h0M841.9 904.5h0M844 905.6h0M842.2 912h0M842.9 917.1h0M841.6 916.5h0M838.8 916.3h0M838.6 925.3h0M842.1 917.3h0M841.5 915.3h0M840.1 922.6h0M841.8 925.3h0M841.1 916.1h0M847.5 930.2h0M845.9 934.2h0M845.5 933.3h0M858.9 925.7h0M857.6 926.2h0M861.6 916.4h0M861.5 916.4h0M854 923.3h0M857.2 918.9h0M856.8 917.1h0M862.3 907.5h0M867 894h0M868 889.4h0M865.8 904.8h0M864.8 899.2h0M865.7 906.5h0M865.3 913.3h0M863.2 908.7h0M861 898h0M861.9 897.6h0M864.7 888.8h0M869.4 895.9h0M862.8 898.6h0M860.7 887.8h0M869.5 895.9h0M869 892h0M861.4 897.2h0M868.4 891.7h0M867.4 897.5h0M867 893.4h0M864.6 888.2h0M859.7 909.7h0M859.9 893.1h0M868.6 909.6h0M867.3 900.9h0M865.9 908h0M862.4 877.5h0M869.2 885.7h0M861.2 868.7h0M861.1 870.7h0M865.7 885.5h0M869.9 882.7h0M864.9 877.8h0M869.2 872.5h0M865.6 876.7h0M868.5 872.8h0M866.3 875.6h0M863.7 868h0M869.5 873.8h0M862.4 877.1h0M863.1 876.6h0M865.7 872.5h0M869.2 872.4h0M870.5 870.3h0M865.5 877.2h0M869.8 871.2h0M869.7 878.6h0M865 886.8h0M870 884.9h0M867.5 878.3h0M866.8 880.1h0M864.2 885.4h0M864 878.9h0M868.9 878.2h0M868.7 897h0M869.2 895.6h0M867.9 901.6h0M871.7 889.9h0M866.6 888.6h0M871.3 899.8h0M865.8 888h0M870 897.3h0M866.4 898.8h0M870.6 891.8h0M869.4 887.8h0M872 903.6h0M863.3 904.3h0M865.5 910.5h0M871.6 913.6h0M867 913.5h0M868 914.1h0M865.4 910.5h0M863.8 910.2h0M868.6 912.2h0M868.8 904h0M873.2 928.9h0M867.5 926.3h0M874.1 925.4h0M873.4 929.3h0M873.9 923.3h0M865.2 922.5h0M870.8 928.5h0M871.6 938h0M871.5 940.8h0M874.1 939.1h0M870.9 933.4h0M866.1 935.1h0M872 946.9h0M872.6 949.1h0M876.3 950.5h0M875.7 951.2h0M873.1 949.5h0M873.8 953.1h0M872.5 954.2h0M877.9 955h0M876.6 954.1h0M886.2 949.7h0M886.8 954.9h0M884.4 953.5h0M888.7 953.4h0M888.7 952.9h0M885.4 949h0M895.5 944.2h0M895.7 942.8h0M891.2 942.8h0M886.7 945.3h0M886.1 948.8h0M885.9 946h0M894 943.1h0M887.4 945.9h0M891.7 941.7h0M894.6 935h0M891.7 937.4h0M893.6 936.5h0M889 933.5h0M893.5 937.9h0M890.3 937.1h0M891 939.2h0M889.8 936.6h0M891.6 937.6h0M889.6 935.5h0M893.7 933.1h0M893.3 936h0M895 933.8h0M897.5 941h0M897 941.8h0M892.4 942.9h0M898.9 949.1h0M896.5 949.4h0M893.8 951h0M896.2 948.8h0M898.5 952.2h0M895.4 954h0M893.2 951.7h0M901 954.7h0M905.7 961.9h0M907.1 956.1h0M910.3 957.3h0M908.1 954.2h0M908.3 953.8h0M911.9 954h0M909.5 954.3h0M911.3 951.6h0M911.1 951.4h0M910 952.4h0M911.4 949.4h0M913.1 948.9h0M917.8 949.4h0M920 954.4h0M921.2 952h0M921.1 952.2h0M920.6 952.7h0M919.1 951.7h0M917.4 953.2h0M918.3 951.7h0M921.3 949.1h0M922 952.9h0M919.6 956.7h0M920.8 959.9h0M920.4 959h0M921.7 961.1h0M922.9 963.1h0M921.3 964.4h0M921.3 965.7h0M924.8 965.8h0M924 966.3h0M928 968.4h0M929.6 968.7h0M931 970.3h0M932.1 969.3h0M932.8 969.7h0M932.6 967.9h0M932.2 970.7h0M929.8 972.1h0M932.3 971.3h0M933.5 970.1h0M931 972.1h0M934.4 969.6h0M934.2 973.7h0M930.4 973.3h0M935.1 975.3h0M931.5 981.4h0M935.3 977.9h0M933.9 983.1h0M938.5 990.1h0M939.2 993.3h0M946.1 993.6h0M946.5 990.2h0M946.7 990.2h0M948 991h0M948.7 992.9h0M951.1 992.2h0M953.6 989.5h0M955 990.3h0M957.9 988.9h0M956.5 987h0M958.4 983.6h0M957.7 981.7h0M959.9 983.2h0M958.7 984.8h0M959.5 983h0M961.3 981.4h0M964.2 982.7h0M964.9 985.5h0M965.4 983h0M964.8 984.4h0M966.9 981.6h0M966.6 985.3h0M964.9 984h0M967 982.5h0M965.4 983.8h0M971.4 987.2h0M971.9 985.9h0M972.5 987.9h0M972.7 983.9h0M973.6 987.7h0M975.4 987.5h0M974.9 985h0M975.3 983.1h0M976 982.5h0M974.9 988.8h0M972.1 987.5h0M976.3 984h0M973.7 983.5h0M977 983.8h0M974.9 984.6h0M972.9 987.2h0M978.4 992.5h0M977.3 993.8h0M975.3 990h0M976.5 995.4h0M979.7 999.3h0M980.6 1000.8h0M980.6 998.9h0M985.2 1001.1h0M984.9 1000.2h0M985.5 999.7h0M985.8 998.4h0M986.1 998.4h0M986.4 995.9h0M987.4 1001.1h0M987.2 997.8h0M987.7 1000.5h0M989 997.6h0M993.8 996h0M992.4 997.2h0M994.4 998.2h0M990.6 1000.4h0M989.3 998.7h0M996.6 1001.9h0M997.4 1004.7h0M998.2 1001.3h0M1000 1003.2h0M1001 1000.7h0M1004.1 1000.7h0M1005.3 1002.1h0M1005.1 1006.2h0M1007.2 1005.1h0M1007.8 1002.7h0M1005.4 1002.3h0M1009.1 1005.8h0M1006.9 1005.6h0M1009.6 1011h0M1013.7 1011.7h0M1017 1011h0M1018.1 1010.9h0M1018.5 1012.9h0M1020.5 1009.3h0M1021.4 1013.7h0M1024 1009.9h0M1024.5 1008.2h0M1024.3 1010.5h0M1024.1 1011.2h0M1021.5 1011.6h0M1029.7 1014.8h0M1030.2 1012.1h0M1030.7 1015.7h0M1031.1 1015.7h0M1031.6 1015.6h0M1032.8 1012.4h0M1032.6 1015h0M1035.7 1011.2h0M1037.2 1014h0M1039.5 1015h0M1038.7 1013.1h0M1039.9 1015.7h0M1041.7 1015.7h0M1041.6 1014.6h0M1042.9 1010.9h0M1043.7 1013.2h0M1046.9 1011.3h0M1046.6 1012.1h0M1046.8 1011.2h0M1047.6 1016h0M1043.8 1017h0M1049 1017.6h0M1048.7 1017.3h0M1050.9 1016.6h0M1057.2 1018.3h0M1057.3 1021.9h0M1054.5 1020.9h0M1056.5 1020.1h0M1063.9 1018.6h0M1064.6 1022.5h0M1064.7 1020.2h0M1064.3 1021.9h0M1064.8 1019.8h0M1066.7 1021.8h0M1067.5 1018.1h0M1066.8 1016.9h0M1069.4 1017h0M1071.2 1020.3h0M1071.8 1022.1h0M1071.9 1022.2h0M1076.8 1018.7h0M1077.6 1017.9h0M1079.6 1019.6h0M1078 1021.4h0M1078.8 1023.3h0M1081.7 1021.7h0M1086.1 1022h0M1086.2 1021.7h0M1085.9 1023.3h0M1086.9 1022.5h0M1086.9 1022.2h0M1090.5 1025.9h0M1090.2 1022.7h0M1091.5 1021.9h0M1092.2 1022.6h0M1093.3 1021.7h0M1093.1 1021.8h0M1094 1025.2h0M1096.4 1024h0M1099 1026.4h0M1099.2 1025.5h0M1100.4 1023.4h0M1107.9 1026.9h0M1107.5 1025.1h0M1107.4 1024.8h0M1110.7 1025.5h0M1112.6 1022.9h0M1112.9 1020.1h0M1113.7 1019.4h0M1116.3 1022.3h0M1117.1 1023.4h0M1117.4 1020.4h0M1117.9 1018.2h0M1119.1 1022.4h0M1119.7 1020.1h0M1123.3 1018.1h0M1125.5 1021.1h0M1125.2 1020.7h0M1121.4 1022.1h0M1125.7 1020.7h0M1125 1021h0M1127.7 1020.4h0M1128.6 1026.2h0M1131.3 1026.2h0M1134.8 1026.2h0M1135.2 1023.3h0M1136.4 1021.7h0M1135.9 1024.8h0M1136.8 1026.8h0M1137.5 1022.8h0M1139.1 1022.7h0M1138.8 1026.7h0M1142 1023.6h0M1144 1024.3h0M1143.7 1026.3h0M1149.4 1024.4h0M1151.2 1027.4h0M1152.7 1025.8h0M1153 1025h0M1153.6 1023.2h0M1154.8 1022.8h0M1156.8 1026.1h0M1155.3 1024.3h0M1157.8 1025.5h0M1156.4 1023.1h0M1159.3 1025.1h0M1160.7 1024.2h0M1160.5 1024.7h0M1161.2 1021h0M1163.4 1020.9h0M1162 1018.8h0M1162.8 1017.7h0M1164.4 1021.3h0M1166.6 1020.7h0M1167.7 1017.6h0M1167.7 1020h0M1168 1022.8h0M1170.2 1020.5h0M1171.3 1018.9h0M1170.6 1019.7h0M1171.8 1018.2h0M1172.2 1021h0M1173.7 1019h0M1174.8 1021.2h0M1177 1024.9h0M1177.9 1021.6h0M1179.6 1026h0M1181.1 1026.5h0M1184.8 1024.2h0M1183 1026.1h0M1186.2 1024.4h0M1186.9 1030.1h0M1187.7 1025.4h0M1188.6 1027.1h0M1191.3 1027.1h0M1195.1 1026.9h0M1199.9 1025.2h0M1203.9 1027.4h0M1205.3 1027.8h0M1205 1028.2h0M1206 1027h0M1207.8 1026h0M1209.2 1024.3h0M1210.8 1026.1h0M1210.4 1027.4h0M1210.5 1026.5h0M1213.2 1029.1h0M1213.6 1025.2h0M1214.9 1025.5h0M1216 1028.3h0M1215.7 1024.7h0M1217.8 1025.6h0M1220.1 1026.7h0M1219.1 1024.8h0M1218.6 1022.9h0M1221.1 1023.8h0M1221.7 1025.9h0M1221.2 1024h0M1220.5 1021.2h0M1222.6 1026.4h0M1221.1 1020.9h0M1222.6 1022.4h0M1222.8 1020.5h0M1222.9 1024.3h0M1226.4 1026.1h0M1227.6 1021.7h0M1228.7 1021.1h0M1230.2 1021.2h0M1231.3 1021.9h0M1231.8 1026h0M1234.5 1021.4h0M1234 1025.2h0M1235.7 1022.5h0M1236.7 1023.7h0M1239.4 1022.9h0M1239 1027.4h0M1242.8 1023.2h0M1243.5 1025.5h0M1243.7 1022.8h0M1247.7 1024.4h0M1248.6 1024.6h0M1248.7 1022.9h0M1250.1 1026.4h0M1250.8 1023.9h0M1250.5 1022.7h0M1250.9 1021.9h0M1251.3 1024.5h0M1252.3 1022.9h0M1252.3 1027.4h0M1253.3 1023.2h0M1254.2 1022.2h0M1256.5 1027.2h0M1257.5 1024.4h0M1259.9 1025h0M1261 1023.1h0M1269.2 1024.5h0M1269.4 1024.4h0M1266.7 1025.7h0M1266.7 1024.4h0M1266.1 1024.3h0M1265.9 1025.7h0M1265.8 1024.8h0M1266.9 1024.1h0M1267.2 1021.4h0M1269.4 1021.2h0M1270.1 1025.1h0M1273.4 1021.9h0M1273.6 1022.1h0M1274.8 1022.1h0M1275.3 1023.4h0M1274.8 1022.3h0M1280.3 1022.7h0M1282 1025h0M1284.2 1020.3h0M1284.4 1021.1h0M1284.8 1019.8h0M1285.4 1019.9h0M1285.6 1020.3h0M1286.8 1019.5h0M1288.2 1024.7h0M1287.3 1024.7h0M1288.3 1021.1h0M1288.2 1021.9h0M1290.1 1022.1h0M1289.6 1022.8h0M1291.4 1022.4h0M1289.8 1025.3h0M1297.5 1024.8h0M1296 1022.2h0M1297 1021.7h0M1301.1 1023.9h0M1298.9 1023.2h0M1299.9 1021.3h0M1300.7 1024.1h0M1301.4 1022.6h0M1301 1024.3h0M1302.1 1021.1h0M1302.8 1019.7h0M1303.8 1022h0M1307.2 1019h0M1308.1 1023h0M1306.2 1023.9h0M1307.5 1023.2h0M1308.9 1021.2h0M1309.3 1020.2h0M1308.1 1024.4h0M1311.2 1021.9h0M1315 1025.4h0M1316.3 1025.5h0M1316.4 1024.8h0M1315.3 1022.6h0M1318.5 1025.9h0M1320.1 1021.8h0M1321.5 1023.3h0M1324 1020.7h0M1329.4 1019.3h0M1331.1 1018.5h0M1331.4 1017.4h0M1331.7 1018.3h0M1332.6 1019.1h0M1333.9 1021.7h0M1334.8 1017.7h0M1334.7 1019.8h0M1334.8 1021h0M1337.6 1021.3h0M1339.6 1019h0M1342.3 1021h0M1342.1 1018.2h0M1342.9 1021.4h0M1343.3 1019.8h0M1344.7 1018.8h0M1345.9 1018.2h0M1345.9 1022.5h0M1346.8 1018h0M1351.4 1022.4h0M1353.7 1022.7h0M1354.3 1018.5h0M1355 1020.5h0M1354.8 1019.4h0M1355.4 1017.7h0M1354.9 1021.5h0M1355.6 1018.1h0M1356.8 1018.7h0M1360.5 1021.4h0M1364 1019.4h0M1366.3 1017.5h0M1369.5 1016.2h0M1369.2 1018.2h0M1368.1 1017.6h0M1366.9 1017.1h0M1366.7 1016.1h0M1367.4 1013.7h0M1368.5 1017.7h0M1369.5 1019.3h0M1373.6 1017.8h0M1374.8 1015.8h0M1374.1 1016.6h0M1376.9 1014.9h0M1374.4 1015.2h0M1375.5 1019h0M1381.5 1020.5h0M1382.6 1015.4h0M1382.7 1015.5h0M1384.4 1016.2h0M1385.4 1014.1h0M1387.9 1014h0M1390.5 1015.5h0M1388 1012.1h0M1390.1 1012h0M1389.7 1010.3h0M1392.8 1013.4h0M1392.7 1009.1h0M1394.5 1012h0M1393.1 1011.1h0M1393.1 1011.6h0M1394.2 1010.2h0M1395 1012.6h0M1398.1 1011.6h0M1398.9 1011.6h0M1400 1007h0M1399.8 1011.6h0M1400.5 1007h0M1397.1 1008.6h0M1396.3 1009.8h0M1397.6 1008.8h0M1402 1010.7h0M1405.5 1011.4h0M1405.1 1011.6h0M1407.1 1011.9h0M1407.8 1012.2h0M1408 1010.4h0M1408.1 1009.9h0M1410.5 1008.6h0M1410.8 1011.5h0M1412.5 1008.7h0M1411.9 1012.9h0M1414 1007.8h0M1416.5 1009.6h0M1418.3 1009.5h0M1416.1 1009.4h0M1417.5 1002h0M1419.7 1002.6h0M1419.7 1005.4h0M1418.4 1004.3h0M1414.8 1003.9h0M1417.8 998.7h0M1420 997.8h0M1419.7 999.1h0M1419.4 998h0M1416.3 998.2h0M1420.1 997.4h0M1418.1 997.8h0M1422.4 993h0M1420.7 991.6h0M1420.7 995h0M1418.4 991.3h0M1420.9 987.3h0M1419.9 989.4h0M1418.2 990.8h0M1419 986.8h0M1418.7 987.7h0M1421.4 987.5h0M1420.7 990h0M1421.7 986.5h0M1421.8 987.6h0M1424.3 987.5h0M1425.1 986.4h0M1426.2 988.9h0M1427.7 987.4h0M1431.2 984.9h0M1430.7 986.4h0M1431.9 988.9h0M1433.4 989h0M1430.4 987h0M1434.3 987.5h0M1434.8 989.8h0M1437.5 987.2h0M1439.6 988h0M1436.8 990.3h0M1438.5 988.6h0M1437.8 994.8h0M1438.3 992.4h0M1439.5 995h0M1440.9 994.2h0M1441.7 994.2h0M1440 1000.3h0M1449.8 997.4h0M1450.4 997.1h0M1447.7 999h0M1445.3 999.6h0M1447.8 998.4h0M1445.7 1001.2h0M1448 997.1h0M1449.2 996.8h0M1448.8 999.6h0M1453.6 999.6h0M1458.6 995.6h0M1458.5 995.4h0M1459.6 996.4h0M1455.5 994.8h0M1459.3 993.2h0M1459.1 994.1h0M1460.9 994.1h0M1460.6 991h0M1461.5 989h0M1460 983.3h0M1460.2 980.2h0M1460.9 978.2h0M1461.2 980.6h0M1459.8 980.3h0M1462.4 976.3h0M1460.6 976.2h0M1460.9 973.7h0M1461.9 973.5h0M1462.5 971.8h0M1462 969.7h0M1461.7 966.5h0M115.1 1024.4h0M118.1 1025.7h0M120.9 1023h0M120.2 1024.2h0M120.9 1025.8h0M124.1 1025.2h0M122 1027h0M123.1 1027.2h0M123 1028.9h0M122.3 1028.6h0M124.3 1028.4h0M124.5 1026h0M123.4 1025.9h0M127.7 1027.6h0M127.5 1027.7h0M129.6 1023.3h0M136 1022.5h0M137.6 1026.1h0M136.9 1027.1h0M139.6 1023.6h0M139.5 1023h0M140.5 1025.2h0M141.4 1027.4h0M141.4 1024.7h0M143.5 1026.8h0M148 1021.7h0M150.4 1024.2h0M149.6 1022.2h0M151 1023.5h0M152.3 1024.6h0M152.2 1024.2h0M151.8 1024.5h0M151.5 1021.7h0M153.7 1022.3h0M153.9 1025.1h0M153.9 1021.3h0M156.2 1024h0M155.8 1021.9h0M154.3 1020.3h0M162.1 1022.9h0M165 1023.8h0M166.8 1021h0M166.1 1021.5h0M168.4 1023.4h0M168.5 1022.1h0M166 1026.2h0M169.9 1024.9h0M172.4 1022.7h0M170.3 1020.6h0M171.5 1023.6h0M169.9 1020.6h0M170.4 1022.6h0M169.1 1020.9h0M171.9 1019.7h0M176.2 1019.6h0M176.1 1015.8h0M176.5 1018.6h0M182 1018.3h0M181 1021.6h0M181.3 1021.7h0M183.9 1019.1h0M182 1021.9h0M180.7 1022.1h0M181.5 1022.7h0M180.5 1024.4h0M179.9 1024h0M179.8 1023.4h0M180.5 1024.4h0M181.7 1022h0M178.4 1017.9h0M178.5 1017.6h0M180.9 1019.2h0M178.5 1017.7h0M184.7 1015.7h0M187.9 1017.6h0M184.3 1017.5h0M185.1 1020h0M186.9 1018.7h0M185.8 1017h0M187.1 1020.2h0M187.9 1016.4h0M191.4 1016.9h0M191.6 1017h0M191.7 1016.4h0M193 1018.7h0M199.1 1012.6h0M198.6 1015.4h0M203.5 1016.8h0M206.8 1014.9h0M205.7 1017.9h0M206.9 1019.5h0M208.6 1014.6h0M209.5 1018.7h0M208.7 1013.9h0M212.3 1021.8h0M216.6 1020.3h0M215.4 1018.7h0M216.9 1020.2h0M212.4 1020.7h0M215.5 1021.5h0M214.5 1024.3h0M212.8 1024.9h0M212.1 1022.4h0M211.5 1022h0M213.6 1020.8h0M210.6 1021.1h0M217.1 1016.2h0M220 1013h0M221.1 1012.5h0M228.9 1010.9h0M229.8 1011.3h0M228.2 1012.7h0M230.3 1012.4h0M228.8 1015h0M229.1 1014h0M234.6 1019h0M235.9 1017.3h0M234.6 1018.8h0M233.6 1017.9h0M232.7 1016.3h0M232.3 1015.4h0M233.4 1015.9h0M232.2 1016.9h0M234.7 1016.1h0M236 1013.7h0M233.2 1011.6h0M235 1008.7h0M240 1007.9h0M238.9 1006.9h0M240.3 1008.4h0M240.1 1004.7h0M240.2 1005.5h0M243.5 1007.1h0M243.5 1006.1h0M249.4 1005.4h0M250.5 1007h0M251.2 1008.6h0M255.7 1010.5h0M256.1 1009.2h0M255 1013.6h0M255.7 1012.9h0M251.7 1012.9h0M255.3 1015.7h0M253.9 1015.5h0M255 1015.4h0M256.6 1016.6h0M253.8 1022.8h0M253.4 1023.3h0M253.5 1022.5h0M254.3 1018.7h0M253.9 1018.5h0M253.6 1013.6h0M256.5 1013.3h0M256.5 1013.5h0M254.9 1006.4h0M259.9 1008h0M257.4 1005.6h0M259.5 1008.6h0M256.7 1006.4h0M258.3 1006h0M261.8 1004.3h0M258.7 1001.6h0M259 1002.1h0M262.1 999.6h0M266.7 997.1h0M269.2 999.3h0M272.2 1002.8h0M273.5 1002.1h0M275.8 1006.5h0M276.5 1007h0M275.6 1009.4h0M277.9 1009.8h0M280.6 1008.1h0M278.7 1012.4h0M281.5 1013.7h0M278.9 1012h0M277.6 1013.3h0M279.1 1013.4h0M281 1011.4h0M282.8 1014.6h0M282.8 1016.5h0M281.7 1019.5h0M282.3 1020.3h0M280.8 1021h0M280.2 1022.1h0M278.8 1020.6h0M280.6 1021.4h0M279.8 1020.1h0M280.2 1017.5h0M283.9 1015.2h0M283.4 1011.4h0M283.3 1012.8h0M284.4 1013.7h0M285.2 1012.3h0M284.1 1010.7h0M285 1010.3h0M289.1 1011.2h0M290.6 1012.4h0M290.1 1012.2h0M292.5 1010.2h0M292.2 1009.3h0M293.4 1009.1h0M294.6 1006.9h0M299.2 1009.1h0M300.9 1005h0M306.3 1007.4h0M303.8 1008.7h0M306.3 1014.8h0M306.2 1017.7h0M308.3 1016h0M306.9 1018h0M307.7 1014.9h0M307.1 1015.4h0M306.3 1016.7h0M307.1 1018.7h0M306.6 1010.6h0M304.8 1010.3h0M308.2 1012.6h0M306.1 1011.7h0M306.3 1012.8h0M306.4 1012.6h0M305.5 1007.4h0M307.3 1006.6h0M306.7 1009.2h0M303.8 1008.2h0M309.4 1005.9h0M308.5 1007.8h0M306.1 1005.1h0M308.9 1000.9h0M310.7 1000.7h0M309.3 1000.9h0M308.5 1002.7h0M308.5 1002.6h0M306.5 1001.5h0M307.1 1001.8h0M309.8 1002.7h0M307.9 1003.1h0M307.4 995.6h0M310.1 997.9h0M309.5 998.5h0M305.6 999.2h0M308.3 999.7h0M313.8 989.6h0M310.6 985.6h0M312.9 987.2h0M312.9 985.9h0M320.9 986.4h0M317.8 988.3h0M320.1 988.3h0M322.9 986.1h0M323.7 992.7h0M322.3 996.7h0M319.6 999h0M324.3 997h0M323.4 995.9h0M321.5 997.2h0M322.7 998.7h0M321.9 995h0M321.6 1001.4h0M320.4 1001.4h0M320.6 1002.6h0M320.9 1001.6h0M321.4 1000.8h0M320.3 996.9h0M321.5 999.7h0M321.2 999.7h0M321.8 999.9h0M320.6 999.3h0M318.8 993.7h0M333.6 993.6h0M330.7 1000.1h0M330 1000.9h0M330.9 1004.5h0M332.8 1001.8h0M330.9 1002.8h0M331.4 1002.6h0M330.9 1001.8h0M330.2 1003h0M329.6 1000.5h0M330.5 1001.8h0M331.8 1001.9h0M330.1 1002.5h0M330.8 999.5h0M328.8 998.9h0M332 1000h0M332 1001.8h0M332.7 1001.2h0M329.7 996.9h0M334.5 997.9h0M334.6 987.7h0M336.9 987.8h0M342.8 984.1h0M344 986.9h0M343.9 987.4h0M340.9 986.3h0M343.3 985.7h0M343.9 983.9h0M346.5 986.2h0M344.3 985.1h0M347.4 980.1h0M350.2 981.6h0M348.1 978.6h0M346.7 979.3h0M347.7 976.2h0M352.3 975.4h0M351.7 974h0M355.6 972.6h0M356.2 975.5h0M355.9 972.2h0M356.9 972.3h0M356.6 972.4h0M359.5 974.4h0M358.9 974.9h0M359.2 976.2h0M361.8 972.9h0M364.7 977.4h0M362.8 976.9h0M365.8 974.9h0M364.7 977.5h0M364.2 978h0M365.3 980.5h0M366.1 983.1h0M370.8 980.8h0M372.3 983.8h0M367.2 984.3h0M367.7 985.6h0M372.4 987h0M373.2 987.2h0M368.4 989.6h0M368.6 989.6h0M373 989.1h0M370.3 991.8h0M375.8 991.5h0M374.9 993.9h0M378.9 996.7h0M375 997.4h0M375.7 997.5h0M374.2 997.9h0M375.9 995.9h0M379.4 996.5h0M378 998.3h0M378.3 998.6h0M378.2 997.4h0M379 1001.6h0M382 1003.6h0M386.8 1002.8h0M386.4 1001.5h0M386.8 1003.9h0M387 1002.3h0M384.6 1002.3h0M383.4 1001.3h0M382.9 1002.5h0M387 1002.4h0M385.2 1000.2h0M382.8 997.5h0M385.1 1000.1h0M384.3 996.3h0M386.1 995.9h0M384.5 995.3h0M384.8 998.1h0M385.8 995.7h0M383.1 995.9h0M386.7 994h0M388.4 995.9h0M388.5 994.4h0M389.3 996.2h0M392.4 992.8h0M394.4 993.7h0M396.7 990.3h0M393.9 993.8h0M396.5 991.3h0M398.6 993.9h0M398.2 996h0M395.5 996.9h0M401 998.1h0M398.6 1001.7h0M401.6 998.9h0M399.5 1002.7h0M399.1 1004.1h0M396.8 1001.2h0M396.8 1000.6h0M398 1001.7h0M398.6 1001h0M400.9 997.6h0M396.5 995.7h0M402 995.8h0M404.4 994.6h0M407.5 994.6h0M405.4 995.6h0M409.3 994.5h0M405.6 995.7h0M407.8 996.6h0M411.7 997.9h0M409.2 1002.8h0M410.9 1001.2h0M415.1 1003.7h0M414.4 1001.9h0M411.1 1005.3h0M415.2 1006h0M415.4 1009.7h0M413.7 1011.4h0M413.8 1011.4h0M416.1 1009.6h0M416.2 1009.3h0M417.6 1009.3h0M418 1008.8h0M414.9 1012.7h0M417.8 1012.1h0M415.2 1013.8h0M417.4 1011.6h0M414.7 1011.7h0M414.3 1012.4h0M413.4 1009h0M414.7 1008.1h0M416.2 1011.8h0M416.1 1011.6h0M414.1 1009.1h0M415.3 1007.6h0M418.3 1007.8h0M416.3 1009.3h0M413.5 1008.6h0M416.5 1005.6h0M420.8 1001.4h0M418.3 1003.2h0M417.2 1001.8h0M421.2 999.1h0M424.1 993.2h0M422.7 991.1h0M425.9 992.3h0M422.9 990.4h0M424.2 989.8h0M426.3 984.3h0M431.1 987.9h0M434 988.8h0M434.7 990.5h0M436 991.3h0M436.9 993.6h0M435.4 995.9h0M436.5 995.2h0M438.7 997h0M437.2 1000.1h0M437.5 999h0M436.8 999.7h0M436.5 1001h0M436.8 999.9h0M437.8 999.3h0M437.6 995.2h0M437 996.3h0M440.6 992.1h0M439.8 992.4h0M438.9 990.3h0M440.4 990.8h0M439 989.1h0M445.4 990h0M445.4 990.7h0M446.9 989.5h0M444.4 989.7h0M444.3 992.9h0M445.2 992.3h0M444.8 995h0M444.9 995.1h0M446.1 992.5h0M444.5 994.7h0M445.2 993h0M445.2 995.4h0M445.6 993.6h0M446.6 989.2h0M445.5 989.9h0M443.8 986.6h0M446.8 987.6h0M445 983.3h0M444.3 982.9h0M442.7 985.3h0M448.6 979.2h0M447.8 979.6h0M444.5 973.3h0M447.6 971.8h0M448.2 971.6h0M447.9 972.4h0M447.3 971h0M444.1 972.7h0M445.5 974.6h0M444.5 972.2h0M454.7 970.9h0M454.5 975.7h0M457.8 975.9h0M456.3 974.7h0M457.1 974.1h0M458.8 977h0M456.1 979.6h0M457.9 978.8h0M457.6 982.3h0M458 982.1h0M459.5 983.2h0M460.5 982.2h0M459.3 985.7h0M459.4 985.8h0M458.3 985.9h0M457.7 986.6h0M462.7 989.3h0M462.3 988.2h0M463.8 989.6h0M462 991.4h0M461.3 993h0M462.7 995.1h0M462.3 994.9h0M462.3 994.8h0M463.1 991.6h0M462.7 986.9h0M461.6 986.4h0M463.7 984.5h0M467 984.3h0M466.2 982.7h0M465 981h0M465 980.6h0M473.4 983.4h0M474.1 986h0M478.9 989.8h0M480.9 992h0M481.1 994.8h0M480.1 997.5h0M482.4 997.3h0M482.7 1000.3h0M482.2 1001.7h0M483.1 1000.8h0M482.6 998.9h0M484 999.6h0M481.9 996.9h0M483.6 995.1h0M483.8 994.2h0M486.8 995.2h0M484.3 993.1h0M488.2 996.1h0M488 994.8h0M489.6 993.8h0M490.8 993.2h0M487.4 991.1h0M491.5 991.8h0M490.9 989.1h0M495 987.1h0M500 989.5h0M499.1 989.6h0M499.2 989.2h0M498.6 992.3h0M502.2 990.7h0M500.9 994.4h0M500.2 994.8h0M503.1 993h0M503.9 994.6h0M508.8 995.2h0M507.5 994.7h0M506.2 998.3h0M510.1 997.9h0M508.6 998.7h0M509.1 1002.3h0M511.3 1001.6h0M509.3 1002.8h0M510.3 1003.4h0M508.7 1001.2h0M509.9 1003.8h0M510.5 1001.8h0M510 1002.7h0M511.2 1002.1h0M510.2 999.7h0M510.2 999.3h0M513.6 994.7h0M522.3 996.4h0M520.8 999.7h0M519.2 1000.4h0M520 1001.2h0M519.8 1000.7h0M517.1 998.3h0M523.5 997.5h0M522.9 999.5h0M524.2 994.4h0M523.7 995.6h0M524.4 995h0M524.4 994.2h0M521.1 996.5h0M520.9 996.3h0M522.3 998.2h0M520.9 996.1h0M524.4 996.4h0M521.9 993.9h0M523.7 991.6h0M524 991.8h0M532.1 990.8h0M531.9 990.3h0M533.2 994.6h0M535.9 994.4h0M530.4 993.1h0M535.2 993.2h0M531.4 991.5h0M533.2 988.9h0M535.1 987.1h0M537.9 985.9h0M537.2 985.7h0M539.6 985.6h0M543.1 983.8h0M541.3 986.5h0M538.4 984.7h0M540.1 985.4h0M539.6 983.8h0M540.1 982h0M543.3 983.1h0M541.8 976.4h0M552.6 980.6h0M549.4 981.3h0M551.7 978.8h0M548.2 981.9h0M552.3 985h0M548.1 983.3h0M549.8 987.8h0M549.6 986h0M553.4 992.5h0M551.3 986.9h0M553.7 989.6h0M549.8 988.6h0M549.6 991.6h0M553.9 993.9h0M552.5 995.1h0M553.2 995.8h0M554.8 996.9h0M557 997.4h0M557.3 997.4h0M557.6 998.3h0M557.4 994.3h0M558 994.9h0M558 994.7h0M554 996.4h0M555.1 994.5h0M560.2 995h0M560.7 995h0M560.1 994.5h0M559.9 995.4h0M559.1 991.8h0M560 993.4h0M561.3 991.3h0M562.8 988h0M564.5 986.7h0M566.8 986.7h0M562.7 983.1h0M567.3 985.4h0M566.2 983h0M567.4 981.6h0M566.7 981.9h0M567 979h0M569.6 980.9h0M567.3 976.7h0M569 979.2h0M571.2 978.6h0M568.3 975.7h0M574.1 977.8h0M573.6 978.3h0M573.6 975.1h0M576 976.1h0M575.8 971.2h0M576.6 975.1h0M577.3 976.4h0M581 977.7h0M580.8 978.2h0M580.4 980.6h0M581.4 984.2h0M584.5 988.6h0M583.6 986.8h0M581.1 986.6h0M581.8 988.9h0M588.2 991.4h0M586.1 992.3h0M583.5 992.8h0M586.9 991.9h0M587 993.5h0M584.2 995h0M585.4 993.9h0M587.5 994.2h0M590.1 992.7h0M588.9 996h0M587.6 997.6h0M589.3 997.3h0M593 995.5h0M592.2 1001.2h0M591.5 1000.5h0M591.3 1001.8h0M592.3 1001.3h0M587.5 996.7h0M592.6 996.9h0M590.9 995.9h0M588.4 994.6h0M591.5 990.7h0M596.4 989.9h0M593.1 990.5h0M593.9 988.8h0M593.1 985.7h0M592.8 985.7h0M595.2 986.1h0M598.9 985h0M604.8 985.6h0M605.3 988.2h0M608.7 990.9h0M605 991.2h0M605.2 993.2h0M603.4 991.1h0M602.9 991.2h0M603.7 993.1h0M604.6 990.4h0M606 990.1h0M604.3 989h0M604.9 987.3h0M606.7 988.9h0M604.9 987.5h0M606.4 986.7h0M607.3 985.9h0M609.7 987.9h0M609.5 988.4h0M607.5 984h0M611.3 983.4h0M613 983.8h0M617.9 983.1h0M618.8 979.9h0M619.4 981.5h0M619.3 982.7h0M617.9 981.5h0M615.5 982.3h0M619.9 981.6h0M616.6 984h0M614.4 983.2h0M616.4 982.8h0M617.5 977h0M619.3 975.4h0M619.8 975.9h0M620.3 976.9h0M617.4 976.9h0M619.2 974.6h0M617.4 969.8h0M618.9 971.6h0M621 969h0M620.3 968.7h0M621.2 966.2h0M620.9 963.3h0M623.5 960.9h0M626.4 964.6h0M633.5 968h0M631 968.7h0M632.2 971.3h0M635.4 968.7h0M630.7 969.8h0M633.4 973h0M633.2 976.8h0M634.3 978.3h0M633.7 977.4h0M634.3 975.6h0M635.8 975.6h0M638.8 979.8h0M634.9 981.9h0M638.4 986.1h0M637.6 983.9h0M639.2 983.8h0M639.9 983.9h0M639.1 983.1h0M637.3 989.1h0M637.4 989.5h0M638.2 994h0M641.7 992.6h0M640.4 993.4h0M642.4 994.6h0M639.9 995.9h0M641.7 993.6h0M642.4 996.8h0M641.7 997h0M644.5 996.6h0M643 1000.6h0M642.6 1002.8h0M644 1003.2h0M641.5 998.5h0M643.6 999.3h0M645.5 999.3h0M646.2 1001.4h0M641 999.7h0M647.4 996.4h0M645.5 995.4h0M648.6 993.4h0M646.8 993.7h0M648.3 993.3h0M646.8 989h0M647.3 990.1h0M646.7 990.6h0M645.9 984.5h0M648.3 987.4h0M646.1 985.7h0M646.1 987h0M646.5 983.3h0M654.5 980.8h0M654.1 982.1h0M654.5 982.5h0M653.7 983h0M651.2 982h0M651.6 982.5h0M652 981h0M652.8 977.7h0M657.9 976.5h0M664.7 979.2h0M665 978.5h0M663 983.7h0M665.6 980.3h0M666.8 980.9h0M663.9 983.6h0M663.8 982.9h0M670.6 984.8h0M671 983.7h0M667.6 985.8h0M669.2 984.3h0M672.2 984.8h0M673.3 985.1h0M672.3 984.4h0M671.7 992.3h0M672 994.4h0M672.5 994.1h0M671.6 994.3h0M671 994h0M671.8 989.8h0M673.2 987.2h0M674.5 985h0M673.5 981.7h0M672.2 984.3h0M675.3 980.7h0M670.6 983.8h0M673 979.8h0M674.4 978.4h0M672.7 978.7h0M673.2 970.9h0M675.8 973.9h0M673.4 972.5h0M674.2 973h0M676.7 973.4h0M678.3 973.3h0M675.7 970.6h0M677.7 968.1h0M680 972.2h0M677.4 969.8h0M679.9 972.2h0M682.5 972.1h0M688.2 969.6h0M686.3 974.1h0M687.7 975.7h0M687.2 974.5h0M688 978.3h0M690.3 978.9h0M692.7 978.8h0M693.9 979h0M692.9 979.8h0M694.7 986.1h0M696.7 987.2h0M697.7 989.4h0M695.6 992.3h0M698.1 990.8h0M697.5 992.5h0M699.8 994.7h0M699.3 996h0M701.1 993.9h0M698.7 995.6h0M698.4 993.3h0M700.4 992h0M698.7 991.2h0M700.8 991.2h0M705.4 986.7h0M709.6 989.8h0M711.3 988.9h0M709.3 991.7h0M704 990.5h0M705.6 990.5h0M706.2 991.6h0M708.3 992.2h0M705.1 990.2h0M705.6 988.5h0M707.3 989.6h0M712.5 990.1h0M712.5 992.8h0M716.2 990.7h0M712.2 993.7h0M712.9 995.3h0M714.5 996h0M713.4 1000.9h0M713.1 999h0M712.5 994.1h0M713.2 995.3h0M713.9 993.2h0M715.2 994.1h0M715.6 992.2h0M711.1 991h0M712.3 989.9h0M711.8 988.3h0M714.4 987h0M716.6 985.9h0M720.6 985h0M721.3 983.7h0M721.8 985.3h0M722.4 982.5h0M725.6 985.8h0M725.6 981h0M731.1 983.4h0M731.2 979.4h0M730.8 982.4h0M730.8 982.2h0M730.7 981.4h0M733.7 982.6h0M733.5 982.2h0M736.4 979.9h0M736.2 980.7h0M741.4 982.4h0M743.1 977.7h0M742.3 978h0M742.6 979.9h0M746.7 983.9h0M748.4 987.8h0M748.9 986.8h0M746.3 992h0M749.8 989.6h0M746.2 993.2h0M749.5 994.1h0M749 994h0M750.2 994.8h0M751.1 1002h0M746.7 1000.1h0M752.4 1001.2h0M750.2 998.1h0M750.5 999.5h0M747.6 1004.7h0M747.5 1002.8h0M747.4 1004.9h0M747.4 1004.9h0M747.6 1003h0M750.2 1000.7h0M751.3 996.7h0M751.2 996.5h0M751.7 997.3h0M752.7 1000.7h0M752.4 1001.6h0M753.3 1000.9h0M753.7 999.8h0M751.6 998.2h0M752.5 998.8h0M751.9 997.6h0M759 999.5h0M759.1 999.6h0M759.4 996.2h0M759 998.9h0M759.1 994h0M760.5 995.7h0M761.1 996.3h0M760.8 995.9h0M758.1 996.1h0M761.7 997.4h0M760.2 996.2h0M760.5 996.7h0M764.7 998.2h0M767.1 998.7h0M763.5 995.3h0M766.2 998.2h0M763.7 996.1h0M765.3 989.8h0M768.9 990.2h0M768.4 991.1h0M771.2 991.2h0M769.6 988.2h0M772.7 988h0M771.8 985.7h0M774.2 988.5h0M779.5 987.3h0M781.2 982.8h0M781.5 987.3h0M784.1 985.7h0M786.6 990.6h0M788.6 989.5h0M788.6 990.1h0M788.1 990.3h0M788.4 991.2h0M787.6 991.1h0M787.5 992h0M785.8 990.1h0M795.5 993.7h0M795.1 993.2h0M794.8 994.1h0M791.5 995.3h0M793.6 994.6h0M790.7 994.9h0M792.4 995.2h0M789.7 992.2h0M791.7 996.4h0M793 994.5h0M793.3 995.6h0M790.6 991.6h0M793.2 990.7h0M794.2 992.3h0M796.6 994.6h0M797.4 995.2h0M800.5 993.5h0M802.3 994.1h0M804.8 995.3h0M807.9 1000.2h0M804.4 1001.2h0M806.3 1001.9h0M807.4 1001.4h0M807.5 1007.6h0M808.2 1006.1h0M806.9 1006h0M805 1007.4h0M805 1008.2h0M805.2 1006.2h0M804.5 1005.4h0M806.6 1006.9h0M805.8 1005.5h0M806.2 1006.6h0M804.1 1001.3h0M806.9 1000.3h0M805.5 1000.1h0M809.2 1000.1h0M810 1002.2h0M810.8 997.9h0M810 998h0M811.9 997.1h0M812 996.7h0M813.8 993.4h0M815.8 994.4h0M817.1 997.6h0M822.8 996.8h0M824.7 994.9h0M821.8 998.1h0M825.4 995.9h0M823.6 999.7h0M827.7 996.7h0M825 1000.2h0M823.1 996.1h0M822.8 996.3h0M825.2 1000.6h0M824.2 1000.9h0M824.6 1000h0M824.2 994.9h0M826.1 994.9h0M828.1 997h0M828.4 996.5h0M829.2 994.7h0M828.6 991.7h0M833.5 993.6h0M831.5 991.4h0M831.8 991h0M831.6 988.2h0M832.4 986.9h0M836.1 990.7h0M839.2 992.7h0M844.6 993.4h0M843.8 993.9h0M839.9 993.9h0M843.2 1001.2h0M845.9 999.4h0M845.6 999.3h0M843.4 1001.1h0M845.4 1001.7h0M842 1001.7h0M846.1 1001.9h0M849.6 1005.9h0M844.5 1006.8h0M844.7 1004.2h0M846.1 1004.2h0M846.6 1004.8h0M845.6 1004.3h0M848.8 1006.1h0M848.1 1001h0M849.7 1002.4h0M857.7 1002h0M854.6 1006.3h0M856 1006.2h0M857.5 1005.7h0M855.9 1001.3h0M857 998.7h0M857.1 999.9h0M855.4 1000.5h0M859 1002.6h0M859.1 1003.6h0M854.5 1002.8h0M857 1000h0M855.3 1002h0M854.5 1001.8h0M854.2 998.9h0M858.6 995.1h0M860.7 995.2h0M856 995.9h0M859.9 998.3h0M855.7 997.6h0M862.3 990.5h0M864 990h0M870.8 993.3h0M866.2 995h0M868.1 994.7h0M868.3 995h0M869.6 992.4h0M867.6 997.9h0M870.1 1002h0M872 1000.1h0M873.5 1003.4h0M871.2 1002.3h0M875.4 1003.9h0M874.8 1006.3h0M871.5 1007h0M875 1005.9h0M873.7 1005.8h0M875.2 1005.4h0M874.8 1008h0M874.7 1006.6h0M873.9 1010.1h0M876.7 1007.6h0M878.9 1008.9h0M878.6 1008.7h0M877.6 1008.5h0M877.1 1012h0M877.2 1011.4h0M879.1 1012.1h0M879.9 1015.6h0M882.2 1011.1h0M880.3 1014.4h0M881.3 1015.8h0M882.5 1012.3h0M884.5 1014.1h0M884.9 1012h0M885.1 1011.7h0M887.1 1013.4h0M887.1 1014.3h0M887.8 1012.7h0M891.1 1010.8h0M893.6 1014.1h0M893.4 1012.9h0M893.8 1013.3h0M899.2 1011.7h0M900.6 1013.7h0M899.6 1015.5h0M901.4 1011.7h0M900.2 1016h0M899.2 1016.9h0M900.7 1015.9h0M900.2 1017.3h0M902.8 1013.4h0M902.8 1018.5h0M902.6 1016.5h0M902.3 1013.8h0M904.1 1018.5h0M904.6 1017.8h0M905.2 1017.8h0M905.8 1015h0M905.5 1013.8h0M907.5 1017.9h0M906.7 1012.6h0M908.6 1013.2h0M909.9 1017h0M914.6 1017.5h0M913.7 1017.5h0M917.5 1015.7h0M920.3 1018.1h0M923.7 1020.5h0M926 1020.1h0M929 1015.4h0M931.9 1017.9h0M932.6 1017.6h0M938 1017.5h0M938.3 1020.3h0M939.1 1019.6h0M940.6 1017.6h0M941.5 1020.4h0M941.5 1020.7h0M943.5 1020.2h0M944.6 1015.4h0M945.1 1016.6h0M947.7 1018.1h0M948.9 1018.3h0M950 1016.2h0M950.5 1018.6h0M951.8 1015.1h0M952.2 1019.3h0M952.8 1016.7h0M953 1019.7h0M953.9 1020h0M959.1 1018.9h0M956.4 1018h0M958 1019.9h0M964.6 1018h0M966.3 1016.5h0M970.4 1015.7h0M971.3 1017.7h0M971 1019.6h0M971.3 1019.2h0M971.9 1017.4h0M974.2 1020.6h0M974.4 1020.4h0M979.2 1018.1h0M981.3 1021h0M980.4 1018.8h0M979.6 1024.3h0M980 1020.3h0M980.3 1020.2h0M983.3 1019.1h0M983.1 1020.5h0M982.9 1021.6h0M983.9 1024.6h0M985.2 1024.6h0M986.4 1023.8h0M986.2 1021.8h0M989.4 1024.6h0M990.4 1020.5h0M993.2 1019.2h0M993.1 1024.1h0M992.7 1019.2h0M994.1 1018.7h0M993.7 1020.8h0M999.5 1023.2h0M1001.4 1023.1h0M1002.3 1021.8h0M999.9 1025.4h0M1000.1 1026.3h0M1001.3 1023.3h0M1000.8 1026.9h0M1001.4 1026.7h0M1001.7 1027.1h0M1005.2 1025.6h0M1010.4 1022.7h0M1011.9 1025.7h0M1011.9 1022.6h0M1013.6 1022.6h0M1014.1 1022h0M1013.9 1023.4h0M1013.8 1026.4h0M1015 1023.6h0M1015.6 1027.5h0M1016 1023.8h0M1016.8 1024.6h0M1020.5 1027.9h0M1019.8 1023.8h0M1020 1026h0M1021.1 1024.6h0M1021 1023.8h0M1024.7 1026.5h0M1026.2 1027.5h0M1024.3 1028.6h0M1026.8 1030.8h0M1026.5 1028.5h0M1026.7 1025.1h0M1027.7 1029.7h0M1028 1025.9h0M1030.4 1024.7h0M1033 1027.9h0M1034.9 1024.2h0M1034.9 1027.4h0M1036.1 1026.5h0M1035.7 1025.3h0M1036.9 1028.8h0M1038.2 1027.5h0M1039.7 1028.2h0M1040.6 1025.1h0M1043.1 1027.5h0M1044.4 1027.8h0M1044.7 1026.8h0M1046.2 1030.5h0M1047 1025.3h0M1047.5 1027.9h0M1047.5 1029.8h0M1047.6 1026h0M1049.8 1028.7h0M1050.4 1030.5h0M1051.1 1028.4h0M1050.6 1027.8h0M1051.2 1029.3h0M1051.5 1030.3h0M1053.1 1027.6h0M1054.9 1028.8h0M1055.8 1030.9h0M1057 1026h0M1056.7 1029.1h0M1060.1 1026.7h0M1060.6 1030.2h0M1061.5 1029.7h0M1062.9 1026.8h0M1065.9 1031.4h0M1067 1027h0M1068.4 1027.5h0M1067.7 1026.5h0M1068.2 1028.2h0M1069.1 1030.1h0M1070 1029.6h0M1073.2 1032.1h0M1073 1031.1h0M1073.4 1031h0M1073.4 1031.8h0M1075.1 1030.6h0M1076.2 1031.3h0M1076.2 1026.6h0M1077.8 1028.7h0M1078.2 1026.3h0M1081.2 1031.8h0M1081.3 1029.5h0M1081.9 1032h0M1084.1 1027.7h0M1084.5 1030.4h0M1086 1029.6h0M1089.7 1026.6h0M1094.3 1030.5h0M1093.9 1029.1h0M1095.7 1030.9h0M1097.3 1027.2h0M1097.9 1027.7h0M1097.9 1026.9h0M1098.6 1030h0M1099.8 1030.3h0M1101 1032h0M1103 1030.5h0M1102.2 1033.4h0M1104.2 1029.3h0M1104.8 1028.7h0M1106.5 1029.5h0M1107.1 1028.7h0M1108.3 1030.3h0M1108.4 1027.5h0M1109 1030.8h0M1110.6 1030.8h0M1115.5 1028.6h0M1117.5 1029.6h0M1116.6 1031.4h0M1117.8 1029.7h0M1126.2 1031.1h0M1125.6 1031.7h0M1127.1 1031h0M1127.6 1030h0M1129 1027.5h0M1128.6 1029.8h0M1128.8 1029.9h0M1131.1 1032.4h0M1133 1028.3h0M1135 1028.6h0M1134.7 1032.7h0M1135.9 1033.3h0M1136.1 1030.9h0M1139.4 1029.4h0M1139 1032.8h0M1139.4 1032.3h0M1139.1 1030.2h0M1140.2 1028h0M1140.3 1032.1h0M1139.9 1028.3h0M1140.4 1031.2h0M1142.3 1031.6h0M1143.8 1028.9h0M1145.2 1029.8h0M1145.3 1028.8h0M1147.2 1028.2h0M1146.8 1027.4h0M1148.4 1031.3h0M1148.6 1032h0M1150.2 1032.3h0M1151.1 1031.1h0M1151.9 1028.7h0M1154.3 1031.8h0M1160.4 1030.1h0M1160.6 1030.1h0M1162.2 1032.9h0M1162.4 1031.1h0M1161.8 1033.2h0M1161.6 1028.8h0M1162.6 1032.6h0M1165.6 1032.5h0M1165.8 1030.8h0M1167 1028.6h0M1169.2 1027.6h0M1169.5 1031.8h0M1169.3 1030.9h0M1170.7 1030.5h0M1174.2 1029.2h0M1177 1028.3h0M1177.3 1031.6h0M1177.7 1027.8h0M1178.2 1028.3h0M1178.8 1029.7h0M1180.6 1032.9h0M1183.2 1031.1h0M1184.6 1029.5h0M1184.5 1030.8h0M1184.3 1029.3h0M1186.3 1030.8h0M1186.2 1029.3h0M1188.8 1028.2h0M1189.5 1030.4h0M1190.2 1029.6h0M1190.1 1029.7h0M1190 1030h0M1192.4 1032.8h0M1192.2 1031.6h0M1195.1 1031.4h0M1197 1033.9h0M1196.7 1028.8h0M1196.8 1029h0M1198.6 1031.9h0M1198.8 1030.7h0M1200.6 1034h0M1202.2 1031.9h0M1202.9 1028.3h0M1203.5 1033.3h0M1203 1031.4h0M1203.7 1028.8h0M1205.4 1033.8h0M1204.8 1028.8h0M1207 1029.9h0M1207.6 1032.1h0M1207.6 1029.9h0M1211.4 1030.7h0M1212.1 1028.8h0M1212.8 1031.7h0M1212.6 1032.9h0M1213 1033.6h0M1214.3 1029.5h0M1217.4 1030.2h0M1221.7 1032.3h0M1223.8 1031.1h0M1224.7 1030.2h0M1227.7 1033.9h0M1229.8 1029h0M1230 1029.3h0M1232.8 1032.3h0M1233.8 1032.1h0M1235.2 1032.8h0M1235.4 1030.8h0M1236.3 1031.6h0M1237.7 1032.3h0M1237.6 1029.8h0M1240.3 1032.9h0M1241.1 1034h0M1240.6 1028.6h0M1241.9 1029.8h0M1243.1 1028.1h0M1246.1 1033.3h0M1246.6 1028.4h0M1249.2 1032.6h0M1249.2 1032.8h0M1251.8 1031.2h0M1252.7 1032.4h0M1252.9 1028.6h0M1253.1 1028.5h0M1260 1031.4h0M1259.8 1031.3h0M1260.5 1032.4h0M1261.4 1033.4h0M1261 1033.4h0M1261 1028.4h0M1260.8 1030h0M1266 1034.1h0M1269.7 1032.1h0M1272.4 1032.7h0M1273.4 1033.5h0M1273 1029h0M1274.8 1031.4h0M1276.5 1030.8h0M1277.5 1029.8h0M1280.5 1033.7h0M1283 1034h0M1283.5 1029.6h0M1285.2 1029.8h0M1285.9 1028.6h0M1287.3 1033.1h0M1290.5 1034.1h0M1290.1 1031.8h0M1290.2 1028.3h0M1290.6 1031.3h0M1290.6 1029.2h0M1292.3 1032.1h0M1294.1 1032.8h0M1295.9 1031h0M1297.8 1031.8h0M1298.3 1029.6h0M1297.8 1031h0M1299.3 1029.9h0M1302 1033.8h0M1303 1028.3h0M1303.8 1029h0M1304.2 1031.9h0M1305 1031.2h0M1305.6 1032.5h0M1306.6 1033.4h0M1307 1031.6h0M1307.8 1031.4h0M1308.5 1032.1h0M1309.7 1031.7h0M1310.1 1030.2h0M1312.3 1028.7h0M1314.1 1034h0M1318.7 1033.6h0M1320.7 1031.9h0M1321.2 1031h0M1321.9 1031h0M1322.6 1031.4h0M1324.1 1033.2h0M1324.9 1034.1h0M1324.7 1029.1h0M1326.7 1032.8h0M1328.6 1028.8h0M1329.2 1028.8h0M1329.4 1032.1h0M1330.2 1030.6h0M1331.8 1030.5h0M1333.3 1029.8h0M1337 1031.1h0M1337.7 1029.9h0M1337.8 1030.5h0M1339.6 1028.1h0M1339.9 1033.2h0M1340.4 1028.7h0M1340.7 1033h0M1341.9 1031.1h0M1343.1 1031.5h0M1343.4 1032.3h0M1343.4 1030.6h0M1345.2 1028.2h0M1345.9 1029.4h0M1348.1 1031.5h0M1351.5 1028.1h0M1351.9 1032.9h0M1353 1033h0M1353.3 1030.2h0M1354.9 1027.6h0M1354.6 1030.3h0M1356.5 1031.2h0M1356.3 1032.9h0M1356.1 1032.7h0M1357 1033.2h0M1360.8 1031.6h0M1363.9 1029.9h0M1363.9 1029.4h0M1363.6 1029.9h0M1365.3 1028.9h0M1366.1 1028.8h0M1367.6 1029.4h0M1367.7 1028.3h0M1370.6 1030.3h0M1370.8 1027.7h0M1373.1 1031.6h0M1376.9 1028.7h0M1378.9 1032.3h0M1379.1 1032.7h0M1380.5 1027.6h0M1381.7 1030h0M1383.4 1028.5h0M1384.3 1028.3h0M1384.7 1028.8h0M1385.3 1031.5h0M1385.5 1029.5h0M1386.9 1031.7h0M1389.9 1031.4h0M1391.3 1031.7h0M1393.4 1030.5h0M1393.7 1030.1h0M1393.4 1027.8h0M1398.5 1032.1h0M1398.2 1030.9h0M1399 1028h0M1399.4 1026.4h0M1399.5 1030h0M1401.5 1028.2h0M1402.2 1028.7h0M1403.4 1026.5h0M1403.1 1028.1h0M1405.5 1032.1h0M1405.9 1030.6h0M1409.5 1026.5h0M1409.1 1031.3h0M1412.2 1029.7h0M1412 1026.2h0M1414.3 1029.6h0M1413.8 1027.7h0M1414.9 1029.2h0M1419.5 1026.9h0M1420.3 1027.5h0M1420.2 1030.1h0M1422.8 1030.4h0M1423.9 1026.9h0M1425.5 1030h0M1426.1 1028.9h0M1426.9 1025.5h0M1427.5 1026.8h0M1428.5 1028.9h0M1427.8 1025.5h0M1429.1 1027.8h0M1430.3 1026.8h0M1430.1 1027h0M1431.3 1030.7h0M1432.3 1028.5h0M1432.6 1025.6h0M1433.3 1029.6h0M1434 1027.8h0M1438 1024h0M1438.8 1027h0M1439.4 1027.5h0M1440.4 1024.6h0M1440.4 1025.9h0M1440.3 1027.9h0M1440.8 1025.3h0M1443.1 1027.5h0M1443.1 1024.8h0M1443.2 1027.1h0M1443.1 1025.3h0M1445.2 1025.4h0M1445 1026.7h0M1445.6 1029.2h0M1448.5 1028.6h0M1449.4 1028.5h0M1449.3 1026.3h0M1450.8 1026.3h0M1452.1 1026h0M1452.5 1026.2h0M1452.8 1027h0M1454.3 1025.6h0M1456.5 1024.6h0M1457.4 1025.2h0M1457.2 1024.6h0M1458.6 1027.5h0M1459.3 1027.2h0M1459.7 1023.1h0M1462.3 1028.1h0M317.1 597.5h0M317.1 606.3h0M678.1 626.3h0M677.1 631.4h0M677.6 636.6h0M677 639.9h0M739.5 597h0M739.5 606.3h0M739.5 623.8h0M739.5 635h0M451 733.9h0M451.8 738.9h0M451.3 743.6h0M451.5 748.6h0M451.3 754.7h0M577.6 807.7h0M586.3 812.7h0M608.1 846.4h0M690.6 735.1h0M690.8 738.6h0M690.9 743.3h0M691.4 749.3h0M691.6 754.7h0M724.4 748.1h0M769.5 837.2h0M865.4 730.4h0M865.4 734.1h0M865.4 740.1h0M865.4 745.6h0M865.4 761.5h0M865.4 768.2h0M865.4 783.5h0M865.4 790.2h0M865.4 796.5h0M782.7 781.2h0M784.5 787.5h0M833.6 831.3h0M134.4 967.8h0M135.2 971.5h0M135.5 975.8h0M134.7 979.2h0M135 981.4h0M133.5 984.1h0M159.4 975.3h0M157.3 978.4h0M175.6 895.2h0M174.5 897.7h0M174.7 901.4h0M175.8 904.3h0M174.5 906.8h0M175.6 911h0M175.6 914.7h0M176.8 917.4h0M173.1 919.4h0M175.8 921.6h0M173.1 925.4h0M174.9 929.2h0M173.2 931.8h0M172.5 934.4h0M172.3 938.5h0M199.7 830.2h0M200.2 834.3h0M199.3 836.3h0M200 838.9h0M200.5 841.8h0M200.3 844.9h0M199 846.8h0M200 849h0M201.1 852.3h0M198.2 856.4h0M199.5 859.4h0M198.5 863.7h0M198.2 865.8h0M200.6 869.7h0M197.6 871.3h0M201.8 873h0M199.5 876.7h0M210.4 915.2h0M208 918.5h0M212.3 920.1h0M223.3 854h0M222.6 856.7h0M223.2 858.7h0M221.6 863h0M222.1 865.4h0M223.2 868.2h0M223.1 871.5h0M222.2 873.8h0M222.8 875.7h0M224.4 878.9h0M222 880.7h0M220.3 884.2h0M221.6 886.7h0M223.3 889.7h0M225.3 891.6h0M219.5 894.3h0M244.8 763.9h0M244 767.7h0M243.9 770.6h0M244.6 774.3h0M243.9 777.9h0M243.7 782.3h0M245.1 784.8h0M244.5 787.6h0M243.6 791.9h0M244.8 795.5h0M245.9 797.7h0M245.8 800.3h0M244 803.4h0M245.8 806.8h0M245.8 809.3h0M244.3 811.8h0M246 814.2h0M246.1 815.7h0M245.5 818.4h0M244.9 821.6h0M245.4 823.4h0M243.5 826.3h0M243 829h0M245 831.1h0M243.1 833.3h0M244.5 836h0M244.5 840.4h0M242.8 842.9h0M243.7 845.7h0M242.5 849.7h0M242.5 853.6h0M244.8 856.8h0M245.5 860.2h0M246.5 863.5h0M246 867.2h0M244 870.5h0M247 872.6h0M244.8 876.3h0M246.1 877.9h0M244 880.2h0M247 884.4h0M246.7 888.5h0M247.4 892.7h0M256.2 892.7h0M256.8 897.2h0M255.5 901.3h0M256.6 903.3h0M258.2 905.4h0M254.3 909.5h0M262.4 852.7h0M263.6 856.5h0M264.4 860.3h0M263.8 862.2h0M261.7 863.8h0M265.7 867.2h0M274.2 723.9h0M273.9 725.7h0M274.1 728.9h0M273.4 730.8h0M274.6 732.8h0M274.4 734.5h0M273.8 736.8h0M273.4 739.3h0M274.7 742.5h0M274.6 746.3h0M273.3 750.6h0M273.2 752.9h0M274.8 754.7h0M273.8 756.8h0M274.2 759h0M274.5 763h0M274.4 764.8h0M272.9 767h0M272.7 769.4h0M272.8 773.3h0M272.7 777.6h0M272.6 780.5h0M275.2 782.9h0M275.5 785.2h0M274 789.6h0M273.8 791.4h0M273 795.2h0M275.4 798.4h0M273.5 802.5h0M275.2 804.2h0M274.6 808.4h0M275.5 810.2h0M273.1 812.2h0M272.5 815.9h0M273.3 817.8h0M275.9 820.1h0M273.4 823.8h0M272.5 828.2h0M273.1 832h0M271.8 835.9h0M274.9 840.2h0M273.8 844.4h0M271.9 847.2h0M275.5 850h0M272.2 853.9h0M274.3 856.8h0M276.1 859.2h0M274.8 861.9h0M275.4 866.1h0M274 869.1h0M287.2 867.7h0M287.5 870.4h0M287.5 874h0M287.7 876.5h0M286.5 880.3h0M287.6 884.7h0M287 888h0M289.2 891.7h0M289.3 894h0M287.3 896.1h0M289.5 899.2h0M288.6 903.3h0M289.9 906.5h0M288.5 909.1h0M289.2 912.2h0M302.8 857.7h0M301.6 859.9h0M302.5 862.2h0M302.7 866.5h0M301.3 869.5h0M301.9 872.3h0M302.1 873.8h0M301.7 878.2h0M303.4 882.3h0M301.8 885.9h0M302 888.4h0M303.3 890.4h0M302.9 893h0M301.9 897.4h0M300.8 899.4h0M301 901.8h0M301 906.1h0M304 907.6h0M300.7 909.5h0M301.8 912.9h0M302.9 914.6h0M304.6 917.7h0M300 921.4h0M302.6 925.5h0M299.5 927.7h0M315.4 625h0M315.6 627.8h0M315.7 629.7h0M315.1 634.2h0M315.6 637.9h0M316.1 640.7h0M316 643.5h0M315.2 647.1h0M315.8 649.3h0M315.5 653.3h0M316.4 656.4h0M315.8 659.9h0M316.5 663.6h0M314.6 665.6h0M316.3 669.3h0M314.8 673.1h0M315.2 677h0M315.5 678.5h0M316.5 682.7h0M314.6 684.2h0M314.6 686.5h0M314.7 688.8h0M314.7 690.3h0M315.4 693.6h0M316.9 695.8h0M314.6 699h0M315.8 703.2h0M314.4 706.4h0M314.6 708.5h0M314.2 712.1h0M313.9 715.8h0M316.5 719.2h0M314.9 722.6h0M316.3 724.9h0M314.8 728.1h0M316.2 732.4h0M315.2 734h0M317.1 737.7h0M317.6 741.4h0M316.2 745.9h0M317.6 748h0M316.1 751.2h0M317 755.4h0M317.7 758.6h0M317.7 761h0M315.8 764.3h0M317.9 766.3h0M314.4 770.4h0M317.2 774.1h0M317 775.9h0M313.7 779.8h0M316.5 782h0M313.9 786.1h0M315.3 789.7h0M316.9 792h0M315.6 795.9h0M314.3 799.8h0M316 802.8h0M314.7 805.7h0M315.5 809h0M312.8 810.9h0M318.2 814.6h0M316.1 817.6h0M315 820.1h0M325.8 758.9h0M325.7 760.8h0M324.4 763.2h0M325.8 765.8h0M326 768.8h0M325.2 772.1h0M326.4 774.4h0M324.4 778.7h0M325.3 782.9h0M324.4 786.4h0M323.4 789.9h0M326.4 793.8h0M324.6 795.4h0M326.4 799.6h0M326.6 802h0M323.3 803.9h0M324.6 806.1h0M322.8 810h0M323.5 814h0M327.4 818.1h0M333.4 852.7h0M334.2 855.8h0M334.7 858.3h0M333.3 861.4h0M335.4 863.3h0M332 865h0M334 868.5h0M347.7 872.7h0M348.9 876.9h0M349.3 880.6h0M357 766.4h0M355.8 768.3h0M355.6 772.3h0M355.8 774h0M356 776.2h0M357 778.6h0M356 781.5h0M355.7 783.6h0M356.1 786.4h0M356 789.6h0M356.4 791.6h0M356.6 793.3h0M357.5 796h0M357.7 798.6h0M357.7 800.3h0M356.5 802.9h0M355.4 806.1h0M355 810.5h0M356.7 812.7h0M356.3 814.7h0M357.9 819.1h0M355.1 821.8h0M354.6 824.9h0M354.7 828h0M358.3 830h0M356.6 834h0M357.5 838.2h0M357.6 841.5h0M356.7 845.5h0M354.6 847.1h0M356.4 849.2h0M354.9 853.6h0M354.4 855.4h0M354.6 859.3h0M355.1 862h0M365.4 756.4h0M365.6 760.3h0M364.4 762h0M364.8 765.2h0M364.6 767h0M365.8 770.6h0M365.6 773.6h0M366.1 776.2h0M364.5 778.4h0M366.1 782.8h0M365.2 784.9h0M366.2 787.6h0M364.6 790.6h0M363.8 793.1h0M364.8 794.8h0M364.9 797h0M366.5 800.2h0M364.4 803.8h0M364 807h0M366.2 809.6h0M363.6 813h0M365.5 817.1h0M367.2 819.5h0M363.8 823.1h0M366.5 826.1h0M366 830.3h0M363.5 832.8h0M365.3 835.7h0M363.6 838.3h0M366.7 841h0M367.7 844.7h0M365.7 847.3h0M362.5 849h0M367.4 853.3h0M364.7 857.6h0M364.6 860.4h0M381.2 797.7h0M381.4 801.2h0M382.2 805.2h0M382.2 808.6h0M381.7 810.5h0M382 812.8h0M381.5 815.5h0M382.7 817.4h0M380.7 819h0M382.5 821.8h0M381.2 824.9h0M380.7 828.5h0M380.2 831.2h0M383.3 834.7h0M380.3 837.3h0M383.5 841.7h0M381.4 845.7h0M380.3 849.6h0M380.7 852.9h0M383.2 855.2h0M381.4 859.1h0M381.7 863.1h0M384.5 866.6h0M392.9 650.1h0M393.2 653.2h0M393.8 656.2h0M393.5 657.7h0M393 662.2h0M392.6 665.8h0M393.3 669.8h0M392.7 673.2h0M392.8 675.6h0M393.8 678h0M393.8 681.1h0M394 683.5h0M393.4 686.3h0M393.3 690.1h0M394.1 693.5h0M392.3 695.6h0M392.7 699.6h0M392.8 702h0M393.6 705.8h0M392.7 707.8h0M392.6 710.1h0M394.3 712.4h0M393.3 714.1h0M393.2 718.4h0M392.6 722.8h0M393.5 726.6h0M394.5 730.6h0M391.9 733.2h0M393.5 736.8h0M393.6 740h0M393.4 741.9h0M392.1 745.2h0M392.7 748.3h0M393.8 750.3h0M394.7 754.4h0M393.9 757.5h0M392.9 759.4h0M394.1 763h0M392.7 766.5h0M392.6 768.6h0M392.2 770.8h0M395.1 773.6h0M394.6 775.6h0M391.7 778.2h0M394.4 780.3h0M393.3 783.7h0M393.2 788h0M391.7 791.3h0M391.4 793.7h0M391.3 796.8h0M394.8 799.2h0M391.6 802.1h0M394.6 806.1h0M393.3 808.9h0M394.7 812.5h0M395.5 815.9h0M393.1 819.7h0M393.3 822.5h0M394.5 826h0M393 828.5h0M391.7 832.7h0M395.9 836.3h0M394.1 837.9h0M393.5 841.8h0M390.7 843.6h0M391.3 845.6h0M391.3 847.5h0M393.7 850h0M394.3 852.6h0M391.8 854.6h0M390.9 856.5h0M392.8 859.1h0M403.7 698.8h0M403.5 702.4h0M403.6 706.2h0M404.4 709.2h0M404.2 711.8h0M404 713.4h0M403.3 715.6h0M403.5 717.2h0M403.2 721.1h0M403.7 723.7h0M404.5 727.6h0M404.1 729.1h0M402.9 731.9h0M404.9 734.9h0M403.4 737.9h0M403 740.6h0M404.6 743h0M402.8 747.2h0M404.1 751.5h0M402.6 755.6h0M404.4 757.9h0M403.9 760.9h0M402.7 764.8h0M403.8 767.9h0M403.3 771.4h0M404.9 773.6h0M402.3 777.8h0M404.8 779.5h0M402.5 782.1h0M405.7 785.6h0M402.4 787.5h0M404.9 789.1h0M404.1 793.2h0M403.7 795.3h0M406 799.5h0M405.9 803h0M403.2 807h0M403.8 810.2h0M402.1 812.1h0M406.3 814.8h0M406.1 818h0M406.2 821.2h0M405.7 824.1h0M405.8 828.1h0M403.9 829.7h0M406.3 832h0M405.6 835h0M401.3 838.4h0M403.1 842.4h0M405.1 845.6h0M403.9 847.5h0M401.5 851h0M401.3 854.5h0M404.2 856.8h0M404.9 858.7h0M412.7 852.7h0M412.3 854.3h0M413.2 858.5h0M412.8 862.7h0M413.8 865.4h0M411.1 869.6h0M412.6 873.3h0M412.3 876h0M412.8 880.2h0M413.4 882.9h0M412.1 885.6h0M411.4 887.3h0M421.6 790.2h0M421.3 794.2h0M421.2 798.1h0M421.4 800.9h0M422 804.3h0M420.5 807h0M420.1 810.6h0M420.7 815h0M423 819.1h0M419.9 820.7h0M423.3 823.6h0M420.5 828h0M421.3 831.6h0M422.5 833.6h0M419.4 836.7h0M423.4 839.3h0M422.2 843.3h0M419.2 845.3h0M422.8 848.6h0M428 810.2h0M429.8 813.4h0M428.2 816.3h0M434.5 670.1h0M434.5 671.7h0M434.6 675.5h0M434.6 678.8h0M433.6 680.4h0M433.1 684.8h0M433.9 687.6h0M434.6 691.5h0M433.8 695h0M435 697.4h0M433.7 701.5h0M434.9 704.8h0M433.6 708.6h0M432.7 712h0M434.4 715.8h0M433.6 717.4h0M433.5 719.9h0M435.3 722.2h0M433.3 725.5h0M433.3 727.9h0M433.3 732.3h0M432.9 735h0M432.5 737.5h0M432.7 741.5h0M434.2 745.4h0M435 749.7h0M434.6 753.1h0M433.4 754.8h0M432.7 758.4h0M435 760.4h0M434.2 762.8h0M433.4 764.7h0M436 769.1h0M434.6 771.8h0M435.5 774.6h0M434.6 776.7h0M433.9 780.7h0M435.9 785.1h0M432.6 787.3h0M434.4 791.7h0M432.3 796h0M435 798.6h0M434.6 800.5h0M436.5 804.3h0M434.3 806.8h0M435.1 809.3h0M435.6 812.8h0M436.8 817.2h0M440.5 787.7h0M440 790h0M439 792.6h0M438.6 794.4h0M438.1 798.4h0M438.5 800.1h0M441.5 803.5h0M440.4 805.1h0M440.5 808.2h0M437.3 811.5h0M439.7 814.8h0M451.1 737.6h0M451.2 739.3h0M450.7 742.1h0M450.3 746.1h0M449.7 748.8h0M450.2 750.9h0M451.4 754.6h0M450.7 757.5h0M452.1 760.5h0M449.4 764.7h0M450.9 767.9h0M449.2 769.4h0M451.3 773h0M451.1 775.5h0M449.4 779.5h0M450 782h0M451.5 784.6h0M452.1 787.4h0M451.9 790.5h0M449.5 793.4h0M448.6 795.1h0M451.3 797.9h0M451.5 801.8h0M449.7 805.7h0M451.1 808.8h0M450.4 811.8h0M449.8 815.6h0M478.7 749h0M478.8 752.1h0M479 754.2h0M478 757.3h0M480.5 761.4h0M480.2 763.2h0M477.7 767.5h0M479.2 769.5h0M477.9 773.4h0M480.5 775.7h0M481 780.1h0M481 782.3h0M477.5 785.7h0M477.3 787.7h0M489.6 700.2h0M488.9 703.2h0M489.7 705.4h0M488.6 709.5h0M489.7 713.2h0M489.4 715h0M489 717.8h0M490.1 720.8h0M490 722.8h0M488.6 725.6h0M489.5 729.9h0M488.1 732.9h0M490.4 736.1h0M490 738h0M490.2 741.5h0M488.1 744.7h0M489.8 748.1h0M488.8 751h0M490.6 755.3h0M490.5 759.2h0M489 763.4h0M487.3 765.1h0M488.6 769.4h0M490.8 771.9h0M490.1 776.4h0M487.1 780.3h0M487.3 783.3h0M488.8 785.1h0M491.5 789.4h0M489.5 793.6h0M489.8 796.5h0M491.3 798.3h0M487.9 800.7h0M487 802.3h0M488.5 805.2h0M491.5 807h0M490.3 810.9h0M507.9 767.8h0M508.8 770.7h0M508 773.6h0M509 776.1h0M507.9 780.2h0M508.7 782h0M507.9 784.2h0M508 786.4h0M506.8 787.9h0M506.9 792.4h0M509.2 796.8h0M510 801h0M507.8 803.7h0M509.3 805.6h0M506.4 808.2h0M510.4 810.6h0M507.6 814.2h0M509 818.6h0M506.6 822.4h0M510.4 824h0M524.6 822.8h0M524.5 825h0M526.4 827.4h0M524.3 830.8h0M540.9 769h0M539.5 773h0M538.6 775.8h0M540.1 779.9h0M538.8 782.4h0M541.5 785.1h0M541.1 787.3h0M540.5 791.1h0M554.2 846.6h0M552.5 848.7h0M555 850.5h0M553.5 852.9h0M552.3 854.5h0M552.6 856.2h0M567.2 859.1h0M566.6 861.4h0M577.7 810.3h0M576.4 814.6h0M578.2 816.5h0M577.7 819.3h0M575.6 822.7h0M576 824.9h0M577.6 827.6h0M575.8 830.9h0M575.1 832.9h0M575.4 837.3h0M578.4 839.9h0M578.6 843.9h0M576.2 846.7h0M586.1 815.3h0M586 817.2h0M586.7 819.3h0M585.9 822.4h0M586.9 826h0M588.2 828.6h0M585.6 831.3h0M588.9 834.6h0M608.8 849.1h0M609.2 850.9h0M606.7 853.8h0M606.5 856.5h0M610.1 860.4h0M608.6 862.2h0M641.6 669h0M640.6 671.3h0M641.7 673.2h0M641.7 676.2h0M641.6 680.7h0M642.3 683.5h0M642 687.2h0M642.5 689.4h0M642.5 693.6h0M641.2 695.9h0M640.6 699.2h0M642.9 702.6h0M640.3 706.6h0M642 711h0M639.6 715.1h0M639.6 717.5h0M642.5 721.9h0M643.6 725.1h0M641 727.7h0M642.5 729.8h0M639.7 732.8h0M643.5 735.1h0M639.6 737.4h0M641 739.2h0M639.4 740.8h0M661.3 789h0M661 791.3h0M660.8 794.6h0M660 796.5h0M662.2 798.4h0M659.5 802.9h0M660.3 806.9h0M661.2 808.7h0M659.8 813h0M662.8 816h0M677.4 642.7h0M678.3 646.7h0M678.1 649.6h0M678.3 653.5h0M677.2 655.1h0M678.5 657.8h0M678.6 662.2h0M677.6 665.4h0M677.4 669.2h0M676.6 671.6h0M678.7 675.5h0M676.8 679.6h0M677.3 683h0M677.5 686h0M676.7 690h0M679 692.5h0M678.2 696.3h0M677.6 698.1h0M676.7 700.9h0M676.1 705.2h0M676.8 709.6h0M677.1 713.1h0M678.1 716h0M676.4 720.3h0M677.7 723.2h0M676.7 727.2h0M678.1 731.5h0M679.2 735.5h0M675.6 738.2h0M679.7 739.8h0M676.5 742.2h0M675.4 746.3h0M675.9 748h0M677.2 750.3h0M678.4 753h0M675.7 755.2h0M679 757.9h0M679.3 760.2h0M676.7 763.9h0M675.7 767.6h0M675.1 770.1h0M675.1 773.8h0M679 776.7h0M677.7 779h0M675.5 782.9h0M676.5 785.7h0M680 788.8h0M678.3 792.3h0M690.8 737.8h0M690.8 741.3h0M690.2 743.4h0M690 746.1h0M690.5 749.3h0M691.6 753.2h0M691.6 756.9h0M690.1 760.1h0M690.9 763.7h0M691.5 767.5h0M692.3 770.4h0M690.1 774.9h0M689.1 778h0M692.2 779.7h0M689.7 781.5h0M690.7 784.8h0M688.9 787.8h0M688.4 790.6h0M691.5 794.7h0M691.9 797.1h0M688.5 799.9h0M689.8 803.1h0M700.9 774h0M700 776h0M699.7 778.7h0M702.3 782.1h0M725 750.8h0M724.2 752.8h0M723.8 755.3h0M724.8 759.3h0M724.7 762.7h0M725.6 765.8h0M724.3 767.7h0M725.3 771.6h0M725.5 775.7h0M723.7 777.9h0M739.9 642.7h0M739.9 646h0M739.7 647.9h0M740.2 649.5h0M739.5 652.9h0M739.8 657h0M738.7 659.4h0M739.9 661.5h0M739.7 665.1h0M739.1 668.7h0M738.4 672.3h0M738.9 674.8h0M738.1 679.2h0M739.5 682.4h0M739.9 685.3h0M740.6 687.5h0M739.3 690.4h0M737.9 693.5h0M740.9 697.5h0M739.8 700.5h0M739.4 703.2h0M739.3 704.7h0M737.9 707h0M737.4 710.9h0M741.5 713.1h0M738.6 717.5h0M738.8 721.1h0M738.5 724.1h0M738.9 726.4h0M741.8 729.2h0M738 730.8h0M738.4 733.5h0M741.6 736.6h0M741.8 738.7h0M741.9 741.8h0M737.5 744h0M742.1 745.6h0M737.8 748h0M740.1 749.6h0M741 752.7h0M738.4 755.2h0M770.2 839.8h0M767.9 844.1h0M770.2 845.7h0M769.7 847.2h0M768.1 849h0M767.2 852.8h0M781.6 784h0M782.5 788.5h0M782.1 790.5h0M782.4 794.1h0M782.7 797.1h0M782.6 800.5h0M781 802.2h0M781.1 806.1h0M783.3 808.2h0M782.8 810.4h0M783.2 814.9h0M781.3 817h0M783.8 818.6h0M781.2 822.8h0M781.9 827.2h0M781.9 828.7h0M784.2 832.7h0M782.2 834.3h0M780.7 836.3h0M782.7 839.3h0M782 841.7h0M780.5 845.3h0M807.6 902.7h0M808.6 905.1h0M818.8 925.3h0M819.7 927.8h0M818.3 931.1h0M818.5 935.3h0M833.1 852.7h0M833 854.5h0M832.7 856.1h0M832.1 859.5h0M832.3 861.4h0M831.7 865.9h0M836.6 869.8h0M841.2 857.7h0M841.9 861.1h0M840.3 865.5h0M843 868h0M844.1 870.3h0M854.5 892.7h0M856.1 896.6h0M855.6 899.2h0M855.9 901.4h0M855.8 905.6h0M856.2 909.3h0M854.1 913.7h0M864.9 813.7h0M864.4 818h0M864.3 820.7h0M864.8 822.2h0M863.4 825.7h0M864.3 827.8h0M865.1 830.7h0M866.1 833.3h0M866.1 836.5h0M865.7 838.7h0M866.4 842.7h0M865.8 844.9h0M863.5 849h0M864.1 851.6h0M866.4 855.6h0M863.9 858.3h0M866.7 861.1h0M864.6 864.5h0M865.2 868.1h0M894.6 911.5h0M894.7 913.3h0M894.3 915.1h0M893.7 918.7h0M893.7 921.9h0M896.9 923.7h0M895.4 925.2h0M896.6 928.2h0M896 930h0M897.7 932.4h0M910.8 937.8h0M909.2 940.7h0M912.9 943h0M913 945h0M909.9 946.7h0M912.4 949.9h0M919.2 929h0M918.9 933.5h0M919.6 937.1h0M919.2 938.9h0M919.5 942.3h0M921 945.3h0M918.7 949.2h0M930.6 941.5h0M931.4 946h0M930.9 949.9h0M930.1 953h0M933.3 956.3h0M930.4 960.6h0M933.8 965h0M951.4 951.5h0M950.9 955.5h0M950.2 959h0M952.7 962.2h0M950 965.2h0M952.9 967.9h0M952.7 971.9h0M952.3 975.6h0M951.2 977.9h0M951.8 982.2h0M950.3 985.4h0M951.8 987.4h0M961.3 962.8h0M962.3 964.6h0M960.9 967.5h0M960.4 970.1h0M962 974.1h0M963.6 978.2h0M962.9 981.7h0M976.2 940.3h0M976.3 943.7h0M976.7 947.3h0M976.2 950.5h0M977 953.6h0M975.9 957.4h0M975.9 959.2h0M974.3 962.2h0M974.8 966.3h0M974.1 969h0M974.3 972.3h0M975.8 974.6h0M976.9 976.1h0M975 980.1h0M974.4 982.6h0M991.6 965.3h0M991.4 968.6h0M993.2 971h0M992.6 973.7h0M993.7 978h0M991.5 981.5h0M989.9 984.7h0M990 986.6h0M990.4 989.3h0M993.3 993.4h0M995 995.7h0M1004.8 990.3h0M1005.6 992.4h0M1003.4 994.9h0M1002.9 998h0M1004 1001.1h0M1021.1 1001.6h0M1020.6 1003.6h0M1019.9 1007.7h0M1090.7 1007.8h0M1092.3 1010.1h0M1092 1012.2h0M1090.3 1014.8h0M1091.7 1018.7h0M1122.1 1015.2h0M1122.2 1018.2h0M1267.8 1018.5h0M1372.6 1010.2h0M1370.1 1013.7h0M1400.6 1004h0M1399.4 1008.1h0M1417.1 982.7h0M1420.7 985.4h0M1431.5 953.9h0M1431.9 957.7h0M1430.7 960.8h0M1432.3 962.5h0M1430.3 966.9h0M1432 969.5h0M1431.8 973.3h0M1429.5 975.1h0M1430.9 977.5h0M1431.2 981.9h0M1449 970.2h0M1448.7 972.2h0M1447.2 974.7h0M1447 977.3h0M1447.2 981.1h0M1449.3 983.3h0M1447.7 987.2h0M1447.5 988.9h0M1446.8 993.2h0" fill="none" stroke="#1f77b4" stroke-width="5.30" stroke-linecap="round"/>
<path d="M115.5,1020.2 117.1,1016.9 118.8,1011.4 120.6,1014.5 122.5,1017.7 124.4,1014.3 126.3,1015.2 128.1,1014.6 130,1012.7 132.5,1017.7 135,1000.2 137.5,1015.2 139.4,1010.2 141.3,1005.2 143.2,1010 145,1016.4 146.9,1012.1 148.8,1006.4 150.7,1006.7 152.5,1010.2 154.4,1013.7 156.3,1015.2 159.3,1000.2 160.9,1006 162.5,1012.7 164.8,1000 167,990.1 170,1005.2 173,970.1 175.1,950.1 177.6,985.1 180.6,1000.2 182.2,990.5 183.8,977.6 185.7,963.9 187.6,950.1 190.1,985.1 191.9,968.2 193.8,955.1 195.4,940.8 197.1,925.1 199.6,967.6 202.6,945.1 204.4,965.2 206.3,985.1 208.2,977.5 210.1,967.6 212,983.1 213.8,1002.7 216.8,970.1 218.7,935.5 220.6,905.1 222.6,982.6 225.1,975.1 228.1,927.6 229.7,957.1 231.3,987.6 233.2,984.7 235.1,982.6 237.1,995.2 239.6,892.6 242.1,970.1 244.6,905.1 247.6,960.1 250.6,947.6 252.2,972.2 253.9,995.2 255.5,973.1 257.1,950.1 260.1,990.1 263.1,922.6 264.7,941.5 266.4,957.6 268,932.9 269.6,907.6 272.1,865.1 273.9,920.1 276.4,985.1 278.2,979 280.1,972.6 282,982.2 283.9,990.1 285.8,971.4 287.6,950.1 289.5,968.6 291.4,985.1 293,972.8 294.6,962.6 297.6,987.6 299.9,964.5 302.1,940.1 305.1,1000.2 307.6,987.6 310.1,945.1 312.6,865.1 315.6,682.4 317.6,820 320.1,975.1 322.7,910.1 325.2,858.8 327.7,920.1 330.7,985.1 332.3,942.2 333.9,898.8 335.8,929.7 337.7,960.1 339.5,941.1 341.4,925.1 343,942.1 344.7,955.1 347.7,905.1 349.5,936 351.4,965.1 353.9,845.1 356.4,842.5 358.9,915.1 361.4,883.8 363.3,883.4 365.2,885.1 367.7,962.6 369.6,947.3 371.4,932.6 373.9,962.6 375.8,943 377.7,922.6 379.6,911.3 381.4,900.1 383.9,917.6 386.4,975.1 388.3,956.8 390.2,940.1 393.2,786.3 395.7,952.6 397.3,933 399,912.6 401.5,957.6 404,850.1 405.6,899.1 407.2,950.1 410.2,972.6 412.7,952.6 415.7,990.1 417.3,969 419,950.1 421.5,905.1 423.1,926.2 424.7,947.6 427.7,910.1 430.2,912.6 432.1,871.7 434,827.5 435.6,893.4 437.2,957.6 439.7,887.6 442.7,925.1 445.2,945.1 448.2,917.6 450.7,818.8 453.2,920.1 455.7,877.6 457.4,892.6 459,910.1 460.6,922.9 462.2,932.6 465.2,900.1 467,903.1 468.8,905.1 471.3,890.1 473.8,836.3 476.8,953.9 479.3,855.1 480.9,887.5 482.5,920.1 485,950.1 487.2,883.3 489.3,820 491.8,920.1 493.4,905.4 495,895.1 496.9,904.4 498.8,915.1 500.7,902.7 502.5,895.1 505,940.1 506.9,924.5 508.8,910.1 511,945.9 513.3,978.9 516.3,925.1 518.2,910 520.1,897.6 522.6,925.1 525.6,895.1 528.1,922.6 529.7,901.4 531.3,877.6 533.2,871.8 535.1,863.8 536.9,862.9 538.8,860.1 541.3,892.6 543.8,947.6 546.3,857.6 548.8,940.1 551.3,905.1 553.8,930.1 556.3,895.1 558.8,955.1 561.3,890.1 563.2,909.6 565.1,930.1 567,920.8 568.8,910.1 570.7,890.9 572.6,868.8 575.1,940.1 577.6,877.6 580.1,910.1 583.1,957.6 584.7,925.3 586.3,892.6 588,924.5 589.6,957.6 591.4,932.6 593.2,912.1 595.1,887.6 597,911.2 598.9,935.1 600.6,912.6 602.2,938.7 603.9,962.6 605.7,944.9 607.6,925.1 610.1,942.6 613.1,957.6 614.7,949.7 616.4,942.6 618,943.7 619.6,945.1 622.6,917.6 625.1,932.6 628.1,890.1 629.8,907 631.4,930.1 634.4,815 636,844.3 637.6,875.1 640.1,857.6 643.1,997.7 644.8,987.3 646.4,972.6 648.3,956.9 650.1,942.6 652.6,917.6 654.6,882.6 657.1,962.6 658.9,907.1 660.6,852.6 663.2,937.6 664.8,914.6 666.4,892.6 669.4,877.6 671.9,963.9 673.5,936.1 675.2,910.1 677.7,780 680.2,932.6 682.2,852.6 684.7,935.1 687.2,870.1 688.9,932.6 690.9,836.3 693.2,930.1 695.7,887.6 697.3,901.3 698.9,915.1 700.6,897.8 702.2,882.6 705.2,892.6 707.7,925.1 710.7,870.1 713.2,890.1 715.2,877.6 717.7,937.6 720.2,915.1 722.7,810 725.2,850.1 727.1,842.1 728.9,830 730.6,843.3 732.2,857.6 734.7,820 736.5,880.1 739,796.3 741.5,932.6 743.1,889.2 744.7,846.3 747.2,945.1 749,905.1 751.5,955.1 753.1,944.5 754.7,930.1 757.7,930.1 759.6,933.8 761.5,940.1 764,937.6 766.5,956.4 769,926.4 771.5,935.1 774,925.1 776.5,927.6 779,920.1 780.6,900.2 782.2,877.6 785.2,917.6 787.1,919.5 789,920.1 790.6,941.2 792.2,965.1 795.2,940.1 798.2,962.6 799.9,965.4 801.5,967.6 803.1,965.4 804.7,965.1 807.7,957.6 808.8,965.1 811.3,972.6 813.1,970.7 815,970.1 816.9,962.9 818.8,957.6 821.3,970.1 823.2,973.4 825,977.6 826.9,969.3 828.8,960.1 831.3,935.1 833.8,932.6 835.7,939.9 837.5,952.6 839.4,939.6 841.3,927.6 843.2,953.9 845,980.1 846.9,974.1 848.8,967.6 851.3,957.6 853.2,958.2 855.1,960.1 856.9,967 858.8,977.6 861.3,930.1 862.9,910 864.6,890.1 867.6,945.1 869.6,932.6 872.6,945.1 874.4,972 876.3,998.9 878.2,991.4 880.1,982.6 881.9,988.4 883.8,990.1 885.7,986.8 887.6,982.6 889.4,983.1 891.3,980.1 893.2,975.5 895.1,971.4 897,984.5 898.8,995.2 900.7,997.4 902.6,1000.2 904.5,996.7 906.3,992.7 908.6,986.6 910.8,981.4 913,989.7 915.1,998.9 916.8,987.8 918.4,975.2 920.1,962.6 922,984.6 923.8,1007.7 925.7,1004 927.6,1000.2 929.5,994.6 931.4,986.4 933.2,993.5 935.1,997.7 937,1003.2 938.9,1010.2 940.5,1007.6 942.2,1005.3 943.9,1002.7 946,1002.7 948.1,1002.7 949.7,997.8 951.4,991.4 953.2,999.7 955.1,1007.7 957,1005.6 958.9,1000.2 960.5,996.2 962.1,991.4 964.3,996.1 966.4,1002.7 968.3,1006.1 970.1,1010.2 972.6,995.2 975.6,980.1 977.3,997.9 978.9,1012.7 980.6,1010.3 982.2,1011.2 983.9,1010.2 985.8,1013.3 987.6,1012.7 989.9,1003.8 992.1,992.7 995.1,1015.2 996.8,1014.6 998.5,1017.1 1000.1,1018.9 1001.8,1017.5 1003.5,1009.5 1005.2,1008.9 1006.8,1012.4 1008.5,1016.2 1010.2,1017.7 1012.2,1017.7 1014.3,1018.4 1016.4,1020.2 1018.3,1018.9 1020.2,1018.4 1022.2,1016.4 1024.3,1019.7 1026.4,1022.7 1028.5,1021.9 1030.6,1021.4 1032.7,1020.2 1034.8,1021.2 1036.8,1020.5 1038.9,1021.4 1041,1020.7 1043.1,1020.1 1045.2,1020.2 1046.8,1022.1 1048.5,1024.2 1050.2,1025.2 1052.4,1024.3 1054.7,1021.4 1056.5,1022 1058.4,1023.1 1060.2,1023.9 1062.1,1023.4 1063.9,1024.1 1065.8,1025.3 1067.7,1025.7 1069.4,1026.5 1071.2,1026.3 1072.9,1024.9 1074.7,1025.4 1076.5,1025.7 1078.3,1026.9 1080.2,1026.4 1082.1,1026.5 1084,1026.4 1085.6,1026.3 1087.3,1025.5 1089,1025.2 1091.5,1021.4 1094,1026.4 1095.7,1026.9 1097.5,1027.1 1099.2,1026.8 1101,1026.7 1102.7,1027.7 1103,1028.1 1104.6,1028.1 1106.2,1028.7 1107.8,1027.7 1109.4,1028.1 1111,1028.3 1112.6,1028.7 1114.3,1028.1 1116.1,1027.5 1118,1025.9 1119.9,1026.2 1121.8,1025.1 1123.8,1025.5 1125.9,1026.8 1128,1027.6 1129.9,1028.4 1131.8,1028.1 1133.6,1028 1135.5,1028.1 1137.2,1029 1138.9,1028.6 1140.5,1028.2 1142.2,1028.6 1143.9,1029.5 1145.5,1029.3 1147.4,1029.6 1149.3,1028.6 1151.2,1028.5 1153,1029.6 1154.8,1029.3 1156.6,1028.9 1158.4,1027.4 1160.2,1028.3 1162,1027.9 1163.8,1026.4 1165.5,1027.1 1167.4,1027 1169.3,1028.3 1171.2,1027.6 1173,1028.1 1175.1,1027.3 1177.2,1027.6 1179.3,1027.6 1181.4,1029.3 1183.5,1028.5 1185.6,1030.1 1187.2,1030 1188.9,1030.1 1190.6,1030.1 1192.2,1030.2 1193.9,1028.8 1195.6,1029.3 1197.3,1030 1199.1,1030.1 1200.9,1029.8 1202.7,1029.6 1204.5,1029.4 1206.3,1029.6 1208.1,1030.1 1209.9,1029.7 1211.8,1029.5 1213.7,1029.9 1215.6,1029.6 1217.3,1028.6 1219.1,1028.9 1220.8,1029.3 1222.6,1028.2 1224.3,1028.1 1226.1,1027.7 1227.8,1029.5 1229.6,1028.9 1231.3,1027.5 1233.1,1028.3 1234.9,1028.7 1236.7,1028.9 1238.4,1028.7 1240.2,1028.9 1242,1029.6 1243.8,1029.2 1245.6,1029.3 1247.2,1029.3 1248.8,1028.8 1250.4,1029.8 1252,1029.2 1253.6,1029 1255.2,1029.1 1256.9,1028.8 1258.9,1028.6 1261,1028.5 1263.1,1028.8 1265.4,1026.6 1267.6,1025.1 1269.2,1027.3 1270.8,1026.8 1272.4,1027.7 1274,1028.4 1275.6,1028.8 1277.4,1027.8 1279.1,1027.2 1280.9,1026.8 1282.6,1025.8 1284.4,1025.1 1286.1,1025.8 1287.9,1027.4 1289.6,1027.7 1291.4,1028.6 1293.1,1028.8 1294.7,1028.6 1296.3,1027.4 1298,1027.2 1299.6,1028.7 1301.2,1025.7 1302.8,1027.3 1304.4,1026.3 1306.1,1027.9 1307.9,1028.4 1309.6,1028.7 1311.4,1027.8 1313.1,1028.8 1314.9,1028.9 1316.6,1027.8 1318.4,1028.5 1320.1,1028.7 1321.9,1028.1 1323.5,1028.7 1325.1,1027.4 1326.7,1027.3 1328.3,1027.7 1329.9,1027.1 1331.5,1028.5 1333.2,1027.6 1334.9,1028 1336.6,1027.5 1338.3,1027.2 1340,1026.2 1341.8,1027.5 1343.5,1028 1345.2,1026.3 1346.9,1026.3 1348.7,1026 1350.4,1026.6 1352.2,1026 1353.9,1026.2 1355.7,1026.3 1357.5,1026.8 1359.4,1026.6 1361.3,1027.3 1363.2,1027.1 1365.1,1025.2 1366.9,1023.8 1368.6,1024.7 1370.3,1023.6 1371.9,1025.1 1374,1026.7 1376.1,1026.4 1378.2,1025.1 1380.1,1024.7 1381.9,1024.7 1383.8,1023.1 1385.7,1023.8 1387.8,1022.7 1389.9,1024 1391.9,1021.3 1393.8,1022.2 1395.7,1023.8 1397.8,1018.7 1400,1017.6 1401.6,1020.5 1403.2,1023.8 1405.1,1023.1 1407,1021.3 1409,1021 1411.1,1021.7 1413.2,1022.1 1414.9,1018.4 1416.5,1014.1 1418.2,1010.1 1420.1,1010.2 1422,1012.6 1423.8,1014.3 1425.7,1013.8 1428.2,1022.6 1429.8,1015.4 1431.5,1006.3 1433.7,1020.1 1435.4,1013.3 1437,1006.3 1438.9,1011.9 1440.7,1016.3 1442.6,1019.4 1444.5,1016.3 1446.4,1009.4 1448.2,1001.3 1449.9,1006.6 1451.5,1012.6 1454.5,1017.6 1456.4,1016.8 1458.2,1013.8 1461.2,1010.1 1462.3,1010.1" fill="none" stroke="#ff7f0e" stroke-width="2.08" stroke-linejoin="round" stroke-linecap="square"/>
</g>
<path d="M115.5 1054.5v5M284.5 1054.5v5M452.5 1054.5v5M620.5 1054.5v5M789.5 1054.5v5M957.5 1054.5v5M1125.5 1054.5v5M1294.5 1054.5v5M115.5 1034.5h-5M115.5 936.5h-5M115.5 838.5h-5M115.5 739.5h-5M115.5 641.5h-5" fill="none" stroke="#000" stroke-width="1.11"/>
<rect x="115.5" y="575.5" width="1347.0" height="479.0" fill="none" stroke="#000" stroke-width="1.11"/>
<text x="106.06" y="1042.40" text-anchor="end" font-size="22.22">0.00</text>
<text x="106.06" y="945.00" text-anchor="end" font-size="22.22">0.05</text>
<text x="106.06" y="847.20" text-anchor="end" font-size="22.22">0.10</text>
<text x="106.06" y="748.60" text-anchor="end" font-size="22.22">0.15</text>
<text x="106.06" y="650.30" text-anchor="end" font-size="22.22">0.20</text>
<rect x="1047.5" y="48.50" width="406.0" height="79.9" rx="3.7" fill="#fff" fill-opacity="0.8" stroke="#ccc" stroke-opacity="0.8" stroke-width="1.39"/>
<circle cx="1073.4" cy="63.40" r="2.65" fill="#1f77b4"/>
<path d="M1054.4 102.37H1091.4" stroke="#ff7f0e" stroke-width="2.08" stroke-linecap="square"/>
<text x="1106.23" y="69.32" font-size="18.51">Raw Data</text>
<text x="1106.23" y="96.49" font-size="18.51">Butterworth Filtered Data</text>
<text x="1106.23" y="117.22" font-size="18.51">(N=6, Tc=3.3333 min, Type: low)</text>
<rect x="1047.5" y="585.40" width="406.0" height="79.9" rx="3.7" fill="#fff" fill-opacity="0.8" stroke="#ccc" stroke-opacity="0.8" stroke-width="1.39"/>
<circle cx="1073.4" cy="600.30" r="2.65" fill="#1f77b4"/>
<path d="M1054.4 639.27H1091.4" stroke="#ff7f0e" stroke-width="2.08" stroke-linecap="square"/>
<text x="1106.23" y="606.22" font-size="18.51">Raw Data</text>
<text x="1106.23" y="633.39" font-size="18.51">Butterworth Filtered Data</text>
<text x="1106.23" y="654.12" font-size="18.51">(N=6, Tc=3.3333 min, Type: low)</text>
<text x="784.6" y="30.26" text-anchor="middle" font-size="26.67">10.0 MHz N0000018</text>
<text x="115.78" y="30.26" font-size="26.67">(a)</text>
<text x="115.78" y="567.2" font-size="26.67">(b)</text>
<text transform="translate(61.8 278.3) rotate(-90)" text-anchor="middle" font-size="22.22">Doppler Shift [Hz]</text>
<text transform="translate(40.88 814.9) rotate(-90)" text-anchor="middle" font-size="22.22">Peak Voltage [V]</text>
<text transform="translate(17.70 1133.75) rotate(-30)" font-size="22.22">05-21 00</text>
<text transform="translate(186.00 1133.75) rotate(-30)" font-size="22.22">05-21 03</text>
<text transform="translate(354.30 1133.75) rotate(-30)" font-size="22.22">05-21 06</text>
<text transform="translate(522.60 1133.75) rotate(-30)" font-size="22.22">05-21 09</text>
<text transform="translate(690.90 1133.75) rotate(-30)" font-size="22.22">05-21 12</text>
<text transform="translate(859.20 1133.75) rotate(-30)" font-size="22.22">05-21 15</text>
<text transform="translate(1027.50 1133.75) rotate(-30)" font-size="22.22">05-21 18</text>
<text transform="translate(1195.80 1133.75) rotate(-30)" font-size="22.22">05-21 21</text>
<text x="788.5" y="1159.0" text-anchor="middle" font-size="22.22">UTC</text>
</svg>
</body></html>
